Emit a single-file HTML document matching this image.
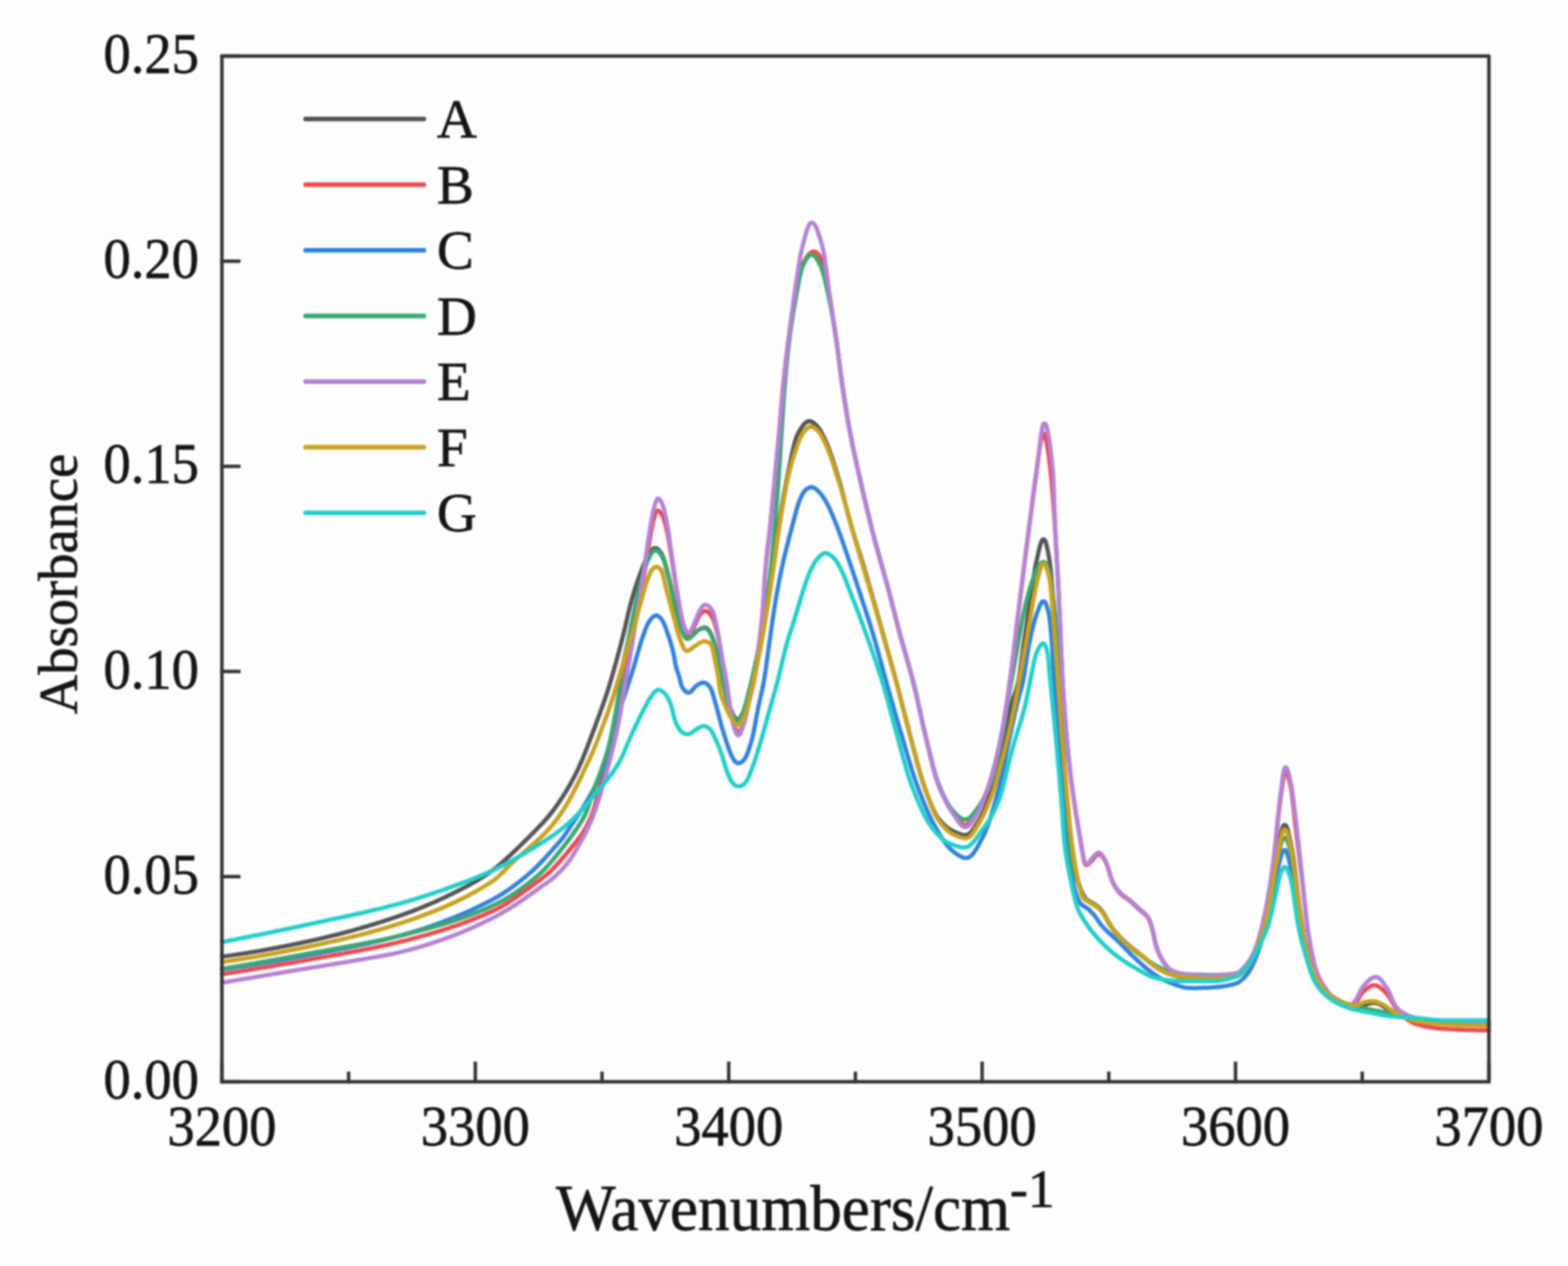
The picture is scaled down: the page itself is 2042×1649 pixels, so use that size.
<!DOCTYPE html>
<html><head><meta charset="utf-8"><title>Absorbance spectra</title>
<style>html,body{margin:0;padding:0;background:#fdfdfd;}svg{display:block;filter:blur(0.9px);}</style></head>
<body>
<svg width="2042" height="1649" viewBox="0 0 2042 1649" font-family="'Liberation Serif','Times New Roman',serif" fill="#151515" stroke="#151515" stroke-width="0.8">
<rect x="0" y="0" width="2042" height="1649" fill="#fdfdfd" stroke="none"/>

<g fill="none" stroke-width="5.5" stroke-linejoin="round" stroke-linecap="round">
<path stroke="#555555" d="M289.0 1245.9L291.3 1245.7 293.0 1245.5 295.0 1245.2 296.9 1245.0 298.9 1244.7 300.9 1244.4 302.9 1244.1 304.9 1243.9 306.8 1243.6 308.8 1243.3 310.8 1243.0 312.8 1242.7 314.7 1242.4 316.7 1242.1 318.7 1241.8 320.7 1241.5 322.7 1241.2 324.6 1240.8 326.6 1240.5 328.6 1240.2 330.5 1239.9 332.5 1239.5 334.5 1239.2 336.5 1238.9 338.4 1238.5 340.4 1238.2 342.4 1237.8 344.3 1237.5 346.3 1237.1 348.3 1236.8 350.2 1236.4 352.2 1236.0 354.2 1235.7 356.1 1235.3 358.1 1234.9 360.1 1234.6 362.0 1234.2 364.0 1233.8 366.0 1233.4 367.9 1233.0 369.9 1232.7 371.9 1232.3 373.8 1231.9 375.8 1231.5 377.7 1231.1 379.7 1230.7 381.7 1230.3 383.6 1229.9 385.6 1229.5 387.5 1229.1 389.5 1228.7 391.4 1228.3 393.4 1227.8 395.4 1227.4 397.3 1227.0 399.3 1226.6 401.2 1226.2 403.2 1225.7 405.1 1225.3 407.1 1224.9 409.0 1224.4 411.0 1224.0 412.9 1223.6 414.9 1223.1 416.8 1222.7 418.8 1222.2 420.7 1221.8 422.7 1221.3 424.6 1220.8 426.6 1220.4 428.5 1219.9 430.5 1219.4 432.4 1218.9 434.3 1218.4 436.3 1218.0 438.2 1217.5 440.2 1217.0 442.1 1216.5 444.0 1216.0 446.0 1215.5 447.9 1215.0 449.8 1214.4 451.8 1213.9 453.7 1213.4 455.6 1212.9 457.5 1212.3 459.5 1211.8 461.4 1211.3 463.3 1210.7 465.3 1210.2 467.2 1209.6 469.1 1209.1 471.0 1208.5 472.9 1208.0 474.9 1207.4 476.8 1206.8 478.7 1206.3 480.6 1205.7 482.5 1205.1 484.4 1204.5 486.3 1204.0 488.3 1203.4 490.2 1202.8 492.1 1202.2 494.0 1201.6 495.9 1201.0 497.8 1200.4 499.7 1199.8 501.6 1199.1 503.5 1198.5 505.4 1197.9 507.3 1197.3 509.2 1196.7 511.1 1196.0 513.0 1195.4 514.9 1194.7 516.8 1194.1 518.7 1193.4 520.6 1192.8 522.5 1192.1 524.3 1191.5 526.2 1190.8 528.1 1190.1 530.0 1189.4 531.9 1188.7 533.7 1188.0 535.6 1187.3 537.5 1186.6 539.3 1185.9 541.2 1185.2 543.1 1184.4 544.9 1183.7 546.8 1183.0 548.6 1182.2 550.5 1181.5 552.3 1180.7 554.2 1179.9 556.0 1179.1 557.9 1178.4 559.7 1177.6 561.5 1176.8 563.4 1176.0 565.2 1175.2 567.0 1174.4 568.9 1173.5 570.7 1172.7 572.5 1171.9 574.3 1171.1 576.1 1170.2 577.9 1169.4 579.8 1168.5 581.6 1167.7 583.4 1166.8 585.2 1165.9 587.0 1165.1 588.8 1164.2 590.6 1163.3 592.4 1162.4 594.1 1161.5 595.9 1160.6 597.7 1159.7 599.5 1158.8 601.3 1157.9 603.1 1157.0 604.8 1156.1 606.6 1155.1 608.4 1154.2 610.1 1153.3 611.9 1152.3 613.6 1151.3 615.4 1150.4 617.1 1149.4 618.8 1148.4 620.6 1147.3 622.3 1146.3 624.0 1145.3 625.7 1144.2 627.4 1143.2 629.1 1142.1 630.8 1141.0 632.4 1139.9 634.1 1138.8 635.7 1137.7 637.4 1136.5 639.0 1135.4 640.7 1134.2 642.3 1133.0 643.9 1131.8 645.4 1130.6 647.0 1129.3 648.5 1128.1 650.1 1126.8 651.6 1125.5 653.1 1124.2 654.6 1122.8 656.1 1121.5 657.6 1120.2 659.1 1118.8 660.5 1117.5 662.0 1116.2 663.5 1114.8 665.0 1113.5 666.4 1112.1 667.9 1110.7 669.3 1109.3 670.8 1108.0 672.2 1106.6 673.7 1105.2 675.1 1103.8 676.6 1102.4 678.0 1101.0 679.4 1099.6 680.8 1098.2 682.3 1096.8 683.7 1095.4 685.1 1094.0 686.5 1092.6 688.0 1091.2 689.4 1089.8 690.8 1088.3 692.2 1086.9 693.6 1085.5 695.0 1084.1 696.4 1082.6 697.8 1081.2 699.2 1079.8 700.5 1078.3 701.9 1076.9 703.3 1075.4 704.7 1074.0 706.1 1072.6 707.5 1071.1 708.8 1069.6 710.1 1068.1 711.5 1066.6 712.8 1065.1 714.1 1063.6 715.4 1062.1 716.6 1060.5 717.8 1058.9 719.1 1057.4 720.3 1055.8 721.5 1054.2 722.7 1052.5 723.8 1050.9 725.0 1049.3 726.1 1047.7 727.3 1046.0 728.4 1044.4 729.5 1042.7 730.6 1041.0 731.7 1039.4 732.8 1037.7 733.9 1036.0 734.9 1034.3 736.0 1032.6 737.0 1030.9 738.1 1029.2 739.1 1027.4 740.1 1025.7 741.1 1024.0 742.1 1022.3 743.1 1020.5 744.0 1018.8 745.0 1017.0 745.9 1015.3 746.9 1013.5 747.8 1011.7 748.7 1009.9 749.6 1008.2 750.5 1006.4 751.4 1004.6 752.3 1002.8 753.2 1001.0 754.0 999.2 754.8 997.3 755.6 995.5 756.5 993.7 757.2 991.8 758.0 990.0 758.8 988.2 759.5 986.3 760.3 984.4 761.0 982.6 761.7 980.7 762.5 978.9 763.2 977.0 763.9 975.1 764.7 973.3 765.4 971.4 766.1 969.6 766.8 967.7 767.6 965.8 768.3 963.9 769.0 962.1 769.7 960.2 770.4 958.3 771.1 956.5 771.8 954.6 772.5 952.7 773.2 950.8 773.9 949.0 774.6 947.1 775.3 945.2 776.0 943.3 776.6 941.5 777.3 939.6 778.0 937.7 778.7 935.8 779.4 933.9 780.1 932.1 780.8 930.2 781.4 928.3 782.1 926.4 782.8 924.5 783.5 922.7 784.1 920.8 784.8 918.9 785.5 917.0 786.2 915.1 786.8 913.2 787.5 911.4 788.2 909.5 788.8 907.6 789.4 905.7 790.1 903.8 790.7 901.9 791.3 900.0 791.9 898.1 792.5 896.2 793.1 894.3 793.7 892.3 794.3 890.4 794.8 888.5 795.4 886.6 796.0 884.7 796.5 882.8 797.1 880.8 797.6 878.9 798.2 877.0 798.7 875.1 799.3 873.1 799.8 871.2 800.3 869.3 800.9 867.4 801.4 865.4 802.0 863.5 802.5 861.6 803.0 859.6 803.6 857.7 804.1 855.8 804.6 853.9 805.1 851.9 805.7 850.0 806.2 848.1 806.7 846.1 807.2 844.2 807.7 842.3 808.2 840.3 808.7 838.4 809.2 836.5 809.7 834.5 810.2 832.6 810.7 830.7 811.2 828.7 811.7 826.8 812.2 824.8 812.7 822.9 813.2 821.0 813.6 819.0 814.1 817.1 814.5 815.1 815.0 813.2 815.4 811.2 815.9 809.3 816.3 807.3 816.8 805.4 817.2 803.4 817.6 801.5 818.1 799.5 818.5 797.6 819.0 795.6 819.5 793.7 819.9 791.7 820.4 789.8 820.9 787.9 821.4 785.9 822.0 784.0 822.5 782.1 823.0 780.1 823.6 778.2 824.1 776.3 824.7 774.4 825.3 772.5 825.8 770.5 826.4 768.6 827.0 766.7 827.6 764.8 828.2 762.9 828.9 761.0 829.5 759.1 830.1 757.2 830.8 755.3 831.5 753.4 832.2 751.6 832.9 749.7 833.6 747.8 834.3 745.9 835.0 744.1 835.7 742.2 836.4 740.3 837.1 738.5 837.9 736.6 838.6 734.8 839.4 732.9 840.2 731.1 841.0 729.3 841.9 727.5 842.8 725.7 843.8 724.0 844.9 722.3 845.9 720.6 847.0 718.9 848.2 717.3 849.5 715.8 850.9 714.5 852.5 713.9 854.2 713.9 855.8 714.6 857.3 715.8 858.6 717.3 859.8 718.9 861.0 720.5 862.0 722.2 862.9 724.0 863.7 725.8 864.4 727.7 865.0 729.6 865.6 731.5 866.2 733.4 866.7 735.4 867.2 737.3 867.7 739.2 868.2 741.2 868.7 743.1 869.2 745.0 869.7 747.0 870.2 748.9 870.7 750.8 871.2 752.8 871.7 754.7 872.1 756.7 872.6 758.6 873.0 760.6 873.4 762.5 873.9 764.5 874.3 766.4 874.7 768.4 875.2 770.4 875.6 772.3 876.0 774.3 876.4 776.2 876.9 778.2 877.3 780.1 877.8 782.1 878.2 784.0 878.7 786.0 879.1 787.9 879.6 789.9 880.0 791.8 880.5 793.8 880.9 795.7 881.3 797.7 881.8 799.6 882.2 801.6 882.7 803.5 883.2 805.4 883.7 807.4 884.2 809.3 884.8 811.2 885.4 813.1 886.0 815.0 886.7 816.9 887.4 818.8 888.2 820.6 888.9 822.5 889.6 824.3 890.5 826.2 891.4 827.9 892.5 829.5 893.8 830.7 895.4 831.2 897.0 830.8 898.7 829.9 900.2 828.7 901.6 827.3 903.0 825.9 904.5 824.5 906.0 823.2 907.6 822.0 909.2 820.8 910.9 819.8 912.6 818.9 914.5 818.1 916.4 817.6 918.2 817.5 920.0 818.0 921.5 819.0 922.8 820.5 923.8 822.1 924.8 823.8 925.8 825.6 926.6 827.4 927.5 829.2 928.2 831.1 928.9 832.9 929.5 834.8 930.1 836.8 930.7 838.7 931.2 840.6 931.7 842.5 932.2 844.5 932.7 846.4 933.1 848.4 933.6 850.3 934.1 852.3 934.6 854.2 935.0 856.1 935.5 858.1 935.9 860.0 936.3 862.0 936.7 864.0 937.1 865.9 937.5 867.9 937.9 869.8 938.3 871.8 938.7 873.8 939.1 875.7 939.4 877.7 939.8 879.7 940.2 881.6 940.6 883.6 941.0 885.5 941.4 887.5 941.9 889.4 942.3 891.4 942.8 893.3 943.2 895.3 943.7 897.2 944.1 899.2 944.6 901.1 945.1 903.1 945.5 905.0 946.0 907.0 946.5 908.9 947.0 910.8 947.6 912.7 948.2 914.7 948.8 916.6 949.4 918.4 950.2 920.3 950.9 922.2 951.7 924.0 952.5 925.9 953.3 927.7 954.1 929.5 955.0 931.3 955.9 933.0 957.0 934.7 958.3 936.1 959.8 936.9 961.3 936.9 962.7 936.1 964.0 934.7 965.0 933.0 965.9 931.3 966.8 929.5 967.7 927.7 968.5 925.8 969.2 924.0 969.9 922.1 970.5 920.2 971.1 918.3 971.7 916.4 972.2 914.4 972.7 912.5 973.2 910.6 973.8 908.6 974.3 906.7 974.8 904.8 975.3 902.8 975.8 900.9 976.3 899.0 976.8 897.0 977.3 895.1 977.7 893.1 978.2 891.2 978.7 889.3 979.1 887.3 979.6 885.4 980.0 883.4 980.5 881.5 980.9 879.5 981.3 877.6 981.8 875.6 982.2 873.6 982.6 871.7 983.1 869.7 983.5 867.8 983.9 865.8 984.3 863.9 984.7 861.9 985.1 860.0 985.5 858.0 985.9 856.0 986.3 854.1 986.7 852.1 987.1 850.2 987.5 848.2 987.9 846.2 988.2 844.3 988.6 842.3 989.0 840.3 989.4 838.4 989.7 836.4 990.1 834.4 990.5 832.5 990.8 830.5 991.2 828.5 991.5 826.6 991.8 824.6 992.2 822.6 992.5 820.6 992.8 818.7 993.2 816.7 993.5 814.7 993.8 812.8 994.2 810.8 994.5 808.8 994.8 806.8 995.2 804.9 995.5 802.9 995.8 800.9 996.2 799.0 996.5 797.0 996.9 795.0 997.2 793.0 997.6 791.1 997.9 789.1 998.3 787.1 998.7 785.2 999.0 783.2 999.4 781.2 999.7 779.3 1000.1 777.3 1000.5 775.3 1000.8 773.4 1001.2 771.4 1001.5 769.4 1001.9 767.5 1002.2 765.5 1002.6 763.5 1002.9 761.6 1003.2 759.6 1003.6 757.6 1003.9 755.6 1004.2 753.7 1004.6 751.7 1004.9 749.7 1005.2 747.7 1005.5 745.8 1005.8 743.8 1006.1 741.8 1006.4 739.8 1006.7 737.9 1007.0 735.9 1007.2 733.9 1007.5 731.9 1007.8 729.9 1008.1 728.0 1008.4 726.0 1008.6 724.0 1008.9 722.0 1009.2 720.0 1009.4 718.0 1009.7 716.1 1010.0 714.1 1010.2 712.1 1010.5 710.1 1010.8 708.1 1011.1 706.2 1011.3 704.2 1011.6 702.2 1011.9 700.2 1012.2 698.2 1012.5 696.3 1012.7 694.3 1013.0 692.3 1013.3 690.3 1013.6 688.3 1013.9 686.4 1014.3 684.4 1014.6 682.4 1014.9 680.4 1015.2 678.5 1015.5 676.5 1015.8 674.5 1016.2 672.5 1016.5 670.6 1016.8 668.6 1017.1 666.6 1017.4 664.6 1017.8 662.7 1018.1 660.7 1018.4 658.7 1018.8 656.8 1019.1 654.8 1019.4 652.8 1019.8 650.8 1020.1 648.9 1020.5 646.9 1020.8 644.9 1021.2 643.0 1021.5 641.0 1021.9 639.0 1022.3 637.1 1022.6 635.1 1023.0 633.1 1023.4 631.2 1023.8 629.2 1024.1 627.2 1024.5 625.3 1024.9 623.3 1025.3 621.4 1025.7 619.4 1026.1 617.4 1026.5 615.5 1026.9 613.5 1027.3 611.6 1027.7 609.6 1028.1 607.6 1028.5 605.7 1028.9 603.7 1029.3 601.8 1029.7 599.8 1030.1 597.8 1030.5 595.9 1030.9 593.9 1031.3 592.0 1031.7 590.0 1032.1 588.0 1032.6 586.1 1033.0 584.1 1033.5 582.2 1034.0 580.3 1034.5 578.3 1035.0 576.4 1035.5 574.5 1036.1 572.6 1036.7 570.7 1037.4 568.8 1038.2 566.9 1039.0 565.1 1040.0 563.4 1040.9 561.6 1042.0 559.9 1043.0 558.2 1044.1 556.5 1045.3 554.9 1046.5 553.3 1047.8 551.8 1049.2 550.5 1050.8 549.4 1052.6 548.7 1054.4 548.5 1056.3 548.9 1058.0 549.7 1059.6 550.9 1061.1 552.1 1062.6 553.5 1064.0 555.0 1065.3 556.5 1066.5 558.0 1067.7 559.7 1068.7 561.4 1069.7 563.1 1070.6 564.9 1071.5 566.7 1072.4 568.5 1073.3 570.3 1074.1 572.1 1074.9 573.9 1075.8 575.7 1076.5 577.6 1077.3 579.4 1078.1 581.2 1078.8 583.1 1079.5 585.0 1080.2 586.9 1080.9 588.7 1081.6 590.6 1082.2 592.5 1082.9 594.4 1083.5 596.3 1084.2 598.2 1084.8 600.1 1085.4 602.0 1086.0 603.9 1086.6 605.8 1087.2 607.7 1087.9 609.6 1088.4 611.5 1089.0 613.4 1089.6 615.3 1090.2 617.2 1090.8 619.2 1091.4 621.1 1092.0 623.0 1092.6 624.9 1093.1 626.8 1093.7 628.7 1094.2 630.7 1094.8 632.6 1095.3 634.5 1095.8 636.4 1096.3 638.4 1096.8 640.3 1097.4 642.2 1097.9 644.2 1098.4 646.1 1098.9 648.1 1099.3 650.0 1099.8 651.9 1100.3 653.9 1100.8 655.8 1101.3 657.7 1101.8 659.7 1102.3 661.6 1102.8 663.6 1103.3 665.5 1103.8 667.4 1104.3 669.4 1104.8 671.3 1105.3 673.2 1105.8 675.2 1106.4 677.1 1106.9 679.0 1107.4 681.0 1108.0 682.9 1108.5 684.8 1109.1 686.7 1109.6 688.6 1110.2 690.6 1110.8 692.5 1111.4 694.4 1111.9 696.3 1112.5 698.2 1113.1 700.1 1113.7 702.0 1114.3 703.9 1114.9 705.9 1115.5 707.8 1116.1 709.7 1116.7 711.6 1117.3 713.5 1117.9 715.4 1118.5 717.3 1119.1 719.2 1119.7 721.1 1120.3 723.0 1120.9 724.9 1121.4 726.9 1122.0 728.8 1122.6 730.7 1123.2 732.6 1123.8 734.5 1124.3 736.4 1124.9 738.4 1125.5 740.3 1126.0 742.2 1126.6 744.1 1127.2 746.0 1127.7 747.9 1128.3 749.9 1128.8 751.8 1129.4 753.7 1130.0 755.6 1130.5 757.5 1131.1 759.5 1131.6 761.4 1132.2 763.3 1132.8 765.2 1133.3 767.1 1133.9 769.1 1134.4 771.0 1135.0 772.9 1135.5 774.8 1136.1 776.8 1136.6 778.7 1137.2 780.6 1137.7 782.5 1138.3 784.4 1138.8 786.4 1139.4 788.3 1139.9 790.2 1140.5 792.1 1141.0 794.1 1141.6 796.0 1142.1 797.9 1142.6 799.8 1143.2 801.8 1143.7 803.7 1144.3 805.6 1144.8 807.5 1145.4 809.5 1145.9 811.4 1146.4 813.3 1147.0 815.2 1147.5 817.2 1148.1 819.1 1148.6 821.0 1149.1 822.9 1149.7 824.9 1150.2 826.8 1150.8 828.7 1151.3 830.6 1151.8 832.6 1152.4 834.5 1152.9 836.4 1153.5 838.3 1154.0 840.3 1154.5 842.2 1155.1 844.1 1155.6 846.0 1156.2 848.0 1156.7 849.9 1157.2 851.8 1157.8 853.8 1158.3 855.7 1158.9 857.6 1159.4 859.5 1159.9 861.5 1160.5 863.4 1161.0 865.3 1161.5 867.2 1162.1 869.2 1162.6 871.1 1163.1 873.0 1163.7 875.0 1164.2 876.9 1164.7 878.8 1165.2 880.7 1165.8 882.7 1166.3 884.6 1166.8 886.5 1167.3 888.5 1167.8 890.4 1168.4 892.3 1168.9 894.3 1169.4 896.2 1169.9 898.1 1170.4 900.1 1170.9 902.0 1171.4 903.9 1171.9 905.9 1172.4 907.8 1172.9 909.8 1173.4 911.7 1173.9 913.6 1174.4 915.6 1174.9 917.5 1175.3 919.4 1175.8 921.4 1176.3 923.3 1176.8 925.3 1177.3 927.2 1177.8 929.1 1178.3 931.1 1178.8 933.0 1179.3 935.0 1179.8 936.9 1180.3 938.8 1180.8 940.8 1181.3 942.7 1181.8 944.6 1182.3 946.6 1182.8 948.5 1183.3 950.4 1183.8 952.4 1184.3 954.3 1184.8 956.2 1185.3 958.2 1185.8 960.1 1186.3 962.0 1186.8 964.0 1187.3 965.9 1187.8 967.9 1188.3 969.8 1188.9 971.7 1189.3 973.7 1189.8 975.6 1190.3 977.5 1190.8 979.5 1191.3 981.4 1191.9 983.3 1192.4 985.3 1192.9 987.2 1193.4 989.2 1193.9 991.1 1194.4 993.0 1194.9 995.0 1195.4 996.9 1196.0 998.8 1196.5 1000.7 1197.0 1002.7 1197.6 1004.6 1198.1 1006.5 1198.7 1008.4 1199.2 1010.3 1199.8 1012.3 1200.4 1014.2 1201.0 1016.1 1201.6 1018.0 1202.3 1019.9 1202.9 1021.8 1203.6 1023.7 1204.3 1025.5 1204.9 1027.4 1205.6 1029.3 1206.3 1031.2 1206.9 1033.1 1207.6 1035.0 1208.3 1036.8 1209.0 1038.7 1209.7 1040.6 1210.4 1042.4 1211.2 1044.3 1211.9 1046.2 1212.7 1048.0 1213.4 1049.9 1214.2 1051.7 1215.0 1053.5 1215.9 1055.3 1216.7 1057.1 1217.7 1058.9 1218.6 1060.7 1219.6 1062.4 1220.7 1064.1 1221.9 1065.7 1223.1 1067.3 1224.4 1068.8 1225.7 1070.3 1227.0 1071.8 1228.4 1073.3 1229.8 1074.6 1231.3 1076.0 1232.8 1077.3 1234.4 1078.5 1236.1 1079.6 1237.8 1080.7 1239.5 1081.7 1241.3 1082.6 1243.1 1083.5 1244.9 1084.3 1246.7 1085.1 1248.6 1085.9 1250.4 1086.5 1252.4 1087.1 1254.3 1087.5 1256.3 1087.7 1258.2 1087.6 1260.0 1087.1 1261.7 1086.2 1263.3 1085.0 1264.6 1083.6 1265.9 1082.0 1267.1 1080.4 1268.2 1078.8 1269.3 1077.1 1270.4 1075.4 1271.5 1073.7 1272.5 1072.0 1273.6 1070.3 1274.6 1068.6 1275.6 1066.9 1276.6 1065.2 1277.6 1063.4 1278.5 1061.6 1279.4 1059.8 1280.2 1058.0 1281.0 1056.2 1281.8 1054.3 1282.6 1052.5 1283.3 1050.6 1284.1 1048.8 1284.8 1046.9 1285.5 1045.1 1286.2 1043.2 1286.9 1041.3 1287.6 1039.4 1288.3 1037.6 1289.0 1035.7 1289.7 1033.8 1290.4 1031.9 1291.0 1030.0 1291.7 1028.1 1292.3 1026.3 1292.9 1024.4 1293.6 1022.4 1294.2 1020.5 1294.7 1018.6 1295.3 1016.7 1295.9 1014.8 1296.4 1012.9 1297.0 1011.0 1297.5 1009.0 1298.1 1007.1 1298.6 1005.2 1299.1 1003.2 1299.6 1001.3 1300.2 999.4 1300.7 997.4 1301.1 995.5 1301.6 993.6 1302.1 991.6 1302.5 989.7 1303.0 987.7 1303.4 985.8 1303.9 983.8 1304.3 981.9 1304.7 979.9 1305.2 978.0 1305.6 976.0 1306.0 974.0 1306.4 972.1 1306.8 970.1 1307.2 968.2 1307.6 966.2 1308.1 964.3 1308.5 962.3 1308.9 960.3 1309.3 958.4 1309.7 956.4 1310.1 954.5 1310.5 952.5 1310.9 950.5 1311.3 948.6 1311.7 946.6 1312.0 944.7 1312.4 942.7 1312.8 940.7 1313.1 938.8 1313.5 936.8 1313.9 934.8 1314.3 932.9 1314.6 930.9 1315.0 928.9 1315.4 927.0 1315.8 925.0 1316.2 923.1 1316.6 921.1 1317.0 919.1 1317.5 917.2 1318.0 915.3 1318.5 913.3 1319.0 911.4 1319.6 909.5 1320.2 907.6 1320.9 905.7 1321.5 903.8 1322.2 901.9 1322.9 900.0 1323.5 898.1 1324.1 896.2 1324.6 894.3 1325.2 892.4 1325.6 890.4 1326.1 888.5 1326.5 886.5 1326.9 884.6 1327.2 882.6 1327.5 880.6 1327.8 878.6 1328.1 876.7 1328.4 874.7 1328.7 872.7 1328.9 870.7 1329.2 868.7 1329.5 866.8 1329.7 864.8 1330.0 862.8 1330.2 860.8 1330.5 858.8 1330.7 856.8 1331.0 854.9 1331.3 852.9 1331.5 850.9 1331.8 848.9 1332.0 846.9 1332.3 844.9 1332.6 843.0 1332.9 841.0 1333.1 839.0 1333.4 837.0 1333.7 835.0 1334.0 833.1 1334.3 831.1 1334.6 829.1 1334.9 827.1 1335.2 825.1 1335.5 823.2 1335.8 821.2 1336.1 819.2 1336.4 817.2 1336.7 815.3 1336.9 813.3 1337.2 811.3 1337.5 809.3 1337.8 807.3 1338.1 805.4 1338.4 803.4 1338.7 801.4 1339.0 799.4 1339.3 797.5 1339.6 795.5 1339.9 793.5 1340.2 791.5 1340.5 789.5 1340.8 787.6 1341.1 785.6 1341.4 783.6 1341.7 781.6 1342.1 779.7 1342.4 777.7 1342.7 775.7 1342.9 773.7 1343.2 771.7 1343.5 769.8 1343.8 767.8 1344.1 765.8 1344.4 763.8 1344.7 761.9 1345.0 759.9 1345.3 757.9 1345.5 755.9 1345.8 753.9 1346.1 752.0 1346.4 750.0 1346.7 748.0 1347.0 746.0 1347.4 744.1 1347.7 742.1 1348.0 740.1 1348.4 738.1 1348.7 736.2 1349.1 734.2 1349.5 732.3 1349.9 730.3 1350.4 728.3 1350.8 726.4 1351.3 724.4 1351.7 722.5 1352.1 720.5 1352.6 718.6 1353.0 716.6 1353.5 714.7 1354.0 712.8 1354.5 710.8 1355.0 708.9 1355.6 707.0 1356.3 705.2 1357.2 703.5 1358.3 702.5 1359.5 702.5 1360.5 703.4 1361.4 705.0 1362.0 706.9 1362.6 708.8 1363.1 710.7 1363.5 712.7 1363.9 714.6 1364.4 716.6 1364.7 718.6 1365.1 720.5 1365.5 722.5 1365.9 724.5 1366.2 726.4 1366.5 728.4 1366.8 730.4 1367.1 732.4 1367.3 734.3 1367.6 736.3 1367.8 738.3 1368.0 740.3 1368.2 742.3 1368.4 744.3 1368.6 746.3 1368.8 748.3 1368.9 750.3 1369.1 752.3 1369.3 754.2 1369.5 756.2 1369.6 758.2 1369.8 760.2 1369.9 762.2 1370.1 764.2 1370.3 766.2 1370.4 768.2 1370.6 770.2 1370.7 772.2 1370.9 774.2 1371.0 776.2 1371.2 778.2 1371.3 780.2 1371.4 782.2 1371.6 784.2 1371.7 786.2 1371.9 788.1 1372.0 790.1 1372.1 792.1 1372.3 794.1 1372.4 796.1 1372.5 798.1 1372.6 800.1 1372.7 802.1 1372.9 804.1 1373.0 806.1 1373.1 808.1 1373.2 810.1 1373.3 812.1 1373.4 814.1 1373.5 816.1 1373.6 818.1 1373.7 820.1 1373.8 822.1 1373.9 824.1 1374.0 826.1 1374.0 828.1 1374.1 830.1 1374.2 832.1 1374.3 834.1 1374.4 836.1 1374.5 838.1 1374.6 840.1 1374.7 842.1 1374.8 844.1 1374.9 846.1 1375.0 848.1 1375.0 850.1 1375.1 852.1 1375.2 854.1 1375.3 856.1 1375.4 858.1 1375.5 860.1 1375.6 862.1 1375.7 864.1 1375.8 866.0 1375.9 868.0 1376.0 870.0 1376.1 872.0 1376.2 874.0 1376.3 876.0 1376.4 878.0 1376.5 880.0 1376.6 882.0 1376.7 884.0 1376.8 886.0 1376.9 888.0 1377.1 890.0 1377.2 892.0 1377.3 894.0 1377.4 896.0 1377.6 898.0 1377.7 900.0 1377.8 902.0 1377.9 904.0 1378.1 906.0 1378.2 908.0 1378.3 910.0 1378.5 912.0 1378.6 914.0 1378.7 916.0 1378.9 918.0 1379.0 920.0 1379.2 921.9 1379.3 923.9 1379.4 925.9 1379.6 927.9 1379.7 929.9 1379.9 931.9 1380.0 933.9 1380.2 935.9 1380.3 937.9 1380.5 939.9 1380.6 941.9 1380.8 943.9 1380.9 945.9 1381.1 947.9 1381.2 949.9 1381.4 951.9 1381.5 953.9 1381.7 955.9 1381.8 957.8 1382.0 959.8 1382.1 961.8 1382.3 963.8 1382.5 965.8 1382.6 967.8 1382.8 969.8 1382.9 971.8 1383.1 973.8 1383.2 975.8 1383.4 977.8 1383.6 979.8 1383.7 981.8 1383.9 983.8 1384.0 985.8 1384.2 987.8 1384.4 989.7 1384.5 991.7 1384.7 993.7 1384.9 995.7 1385.0 997.7 1385.2 999.7 1385.4 1001.7 1385.6 1003.7 1385.7 1005.7 1385.9 1007.7 1386.1 1009.7 1386.2 1011.7 1386.4 1013.7 1386.6 1015.6 1386.8 1017.6 1387.0 1019.6 1387.2 1021.6 1387.3 1023.6 1387.5 1025.6 1387.7 1027.6 1387.9 1029.6 1388.1 1031.6 1388.3 1033.6 1388.5 1035.6 1388.6 1037.6 1388.8 1039.5 1389.0 1041.5 1389.2 1043.5 1389.4 1045.5 1389.6 1047.5 1389.8 1049.5 1390.0 1051.5 1390.2 1053.5 1390.4 1055.5 1390.6 1057.5 1390.9 1059.4 1391.1 1061.4 1391.3 1063.4 1391.5 1065.4 1391.7 1067.4 1391.9 1069.4 1392.2 1071.4 1392.4 1073.4 1392.6 1075.3 1392.8 1077.3 1393.1 1079.3 1393.3 1081.3 1393.5 1083.3 1393.8 1085.3 1394.0 1087.3 1394.3 1089.2 1394.5 1091.2 1394.7 1093.2 1395.0 1095.2 1395.3 1097.2 1395.5 1099.2 1395.8 1101.2 1396.0 1103.1 1396.3 1105.1 1396.6 1107.1 1396.9 1109.1 1397.2 1111.1 1397.4 1113.0 1397.7 1115.0 1398.0 1117.0 1398.3 1119.0 1398.6 1120.9 1398.9 1122.9 1399.2 1124.9 1399.6 1126.9 1399.9 1128.8 1400.2 1130.8 1400.6 1132.8 1400.9 1134.8 1401.3 1136.7 1401.7 1138.7 1402.2 1140.6 1402.6 1142.6 1403.1 1144.5 1403.6 1146.5 1404.1 1148.4 1404.7 1150.3 1405.2 1152.2 1405.8 1154.1 1406.5 1156.0 1407.2 1157.9 1407.9 1159.7 1408.7 1161.6 1409.6 1163.4 1410.4 1165.2 1411.4 1166.9 1412.4 1168.6 1413.6 1170.2 1415.0 1171.6 1416.6 1172.8 1418.3 1173.8 1420.1 1174.6 1421.9 1175.5 1423.6 1176.5 1425.3 1177.6 1426.9 1178.7 1428.5 1179.9 1430.0 1181.2 1431.5 1182.6 1432.9 1184.0 1434.3 1185.5 1435.5 1187.0 1436.7 1188.6 1437.7 1190.3 1438.8 1192.0 1439.8 1193.8 1440.7 1195.5 1441.7 1197.3 1442.6 1199.0 1443.6 1200.8 1444.6 1202.5 1445.6 1204.3 1446.7 1205.9 1447.8 1207.6 1449.0 1209.2 1450.2 1210.8 1451.4 1212.4 1452.7 1213.9 1454.0 1215.4 1455.3 1216.9 1456.6 1218.4 1458.0 1219.9 1459.4 1221.3 1460.8 1222.8 1462.2 1224.2 1463.6 1225.6 1465.1 1226.9 1466.6 1228.3 1468.1 1229.6 1469.6 1230.9 1471.2 1232.1 1472.7 1233.4 1474.3 1234.6 1475.9 1235.9 1477.5 1237.1 1479.0 1238.3 1480.6 1239.5 1482.2 1240.8 1483.8 1242.0 1485.3 1243.3 1486.8 1244.5 1488.4 1245.8 1489.9 1247.1 1491.4 1248.4 1492.9 1249.7 1494.4 1251.0 1496.0 1252.3 1497.5 1253.6 1499.0 1254.9 1500.6 1256.1 1502.2 1257.3 1503.8 1258.5 1505.5 1259.6 1507.2 1260.7 1508.9 1261.8 1510.6 1262.8 1512.3 1263.8 1514.0 1264.8 1515.8 1265.7 1517.6 1266.6 1519.5 1267.3 1521.3 1268.1 1523.2 1268.7 1525.1 1269.4 1527.0 1270.0 1528.9 1270.6 1530.8 1271.1 1532.8 1271.7 1534.7 1272.2 1536.7 1272.6 1538.6 1273.0 1540.6 1273.4 1542.6 1273.7 1544.5 1273.9 1546.5 1274.1 1548.5 1274.3 1550.5 1274.5 1552.5 1274.7 1554.5 1274.8 1556.5 1275.0 1558.5 1275.1 1560.5 1275.3 1562.5 1275.4 1564.5 1275.5 1566.5 1275.6 1568.5 1275.7 1570.5 1275.8 1572.5 1275.9 1574.5 1275.9 1576.5 1276.0 1578.5 1276.0 1580.5 1276.0 1582.5 1275.9 1584.5 1275.9 1586.5 1275.8 1588.4 1275.6 1590.4 1275.5 1592.4 1275.3 1594.4 1275.0 1596.4 1274.7 1598.4 1274.4 1600.3 1274.1 1602.3 1273.7 1604.3 1273.3 1606.2 1272.9 1608.2 1272.4 1610.1 1271.8 1611.9 1271.1 1613.6 1270.1 1615.2 1268.9 1616.7 1267.6 1618.1 1266.2 1619.5 1264.8 1620.8 1263.3 1622.1 1261.7 1623.3 1260.1 1624.5 1258.6 1625.7 1256.9 1626.8 1255.3 1627.8 1253.6 1628.8 1251.8 1629.8 1250.1 1630.6 1248.3 1631.5 1246.5 1632.3 1244.6 1633.1 1242.8 1633.9 1241.0 1634.7 1239.1 1635.4 1237.3 1636.1 1235.4 1636.9 1233.5 1637.6 1231.7 1638.3 1229.8 1638.9 1227.9 1639.6 1226.0 1640.3 1224.1 1640.9 1222.2 1641.6 1220.3 1642.2 1218.4 1642.8 1216.5 1643.4 1214.6 1643.9 1212.7 1644.5 1210.8 1645.0 1208.9 1645.5 1206.9 1646.1 1205.0 1646.6 1203.1 1647.1 1201.1 1647.6 1199.2 1648.0 1197.2 1648.5 1195.3 1649.0 1193.4 1649.4 1191.4 1649.9 1189.5 1650.3 1187.5 1650.8 1185.6 1651.2 1183.6 1651.6 1181.6 1652.1 1179.7 1652.5 1177.7 1652.8 1175.8 1653.2 1173.8 1653.6 1171.8 1653.9 1169.9 1654.3 1167.9 1654.6 1165.9 1654.9 1163.9 1655.2 1162.0 1655.5 1160.0 1655.8 1158.0 1656.1 1156.0 1656.4 1154.1 1656.7 1152.1 1657.0 1150.1 1657.4 1148.1 1657.7 1146.2 1658.0 1144.2 1658.3 1142.2 1658.6 1140.2 1658.9 1138.3 1659.2 1136.3 1659.5 1134.3 1659.8 1132.3 1660.1 1130.4 1660.5 1128.4 1660.8 1126.4 1661.2 1124.4 1661.5 1122.5 1661.9 1120.5 1662.3 1118.5 1662.7 1116.6 1663.0 1114.6 1663.4 1112.7 1663.7 1110.7 1664.1 1108.7 1664.4 1106.7 1664.8 1104.8 1665.1 1102.8 1665.5 1100.8 1665.8 1098.9 1666.2 1096.9 1666.5 1094.9 1666.9 1093.0 1667.2 1091.0 1667.6 1089.0 1668.0 1087.1 1668.4 1085.1 1668.9 1083.2 1669.3 1081.2 1669.9 1079.3 1670.5 1077.4 1671.3 1075.7 1672.3 1074.6 1673.5 1074.4 1674.6 1075.3 1675.5 1076.8 1676.2 1078.6 1676.8 1080.5 1677.3 1082.5 1677.8 1084.4 1678.2 1086.3 1678.7 1088.3 1679.1 1090.2 1679.5 1092.2 1679.9 1094.2 1680.3 1096.1 1680.7 1098.1 1681.1 1100.1 1681.4 1102.0 1681.8 1104.0 1682.2 1105.9 1682.6 1107.9 1683.0 1109.9 1683.3 1111.8 1683.7 1113.8 1684.0 1115.8 1684.3 1117.8 1684.6 1119.7 1684.9 1121.7 1685.1 1123.7 1685.4 1125.7 1685.7 1127.7 1685.9 1129.6 1686.2 1131.6 1686.4 1133.6 1686.6 1135.6 1686.9 1137.6 1687.1 1139.6 1687.3 1141.6 1687.6 1143.5 1687.8 1145.5 1688.0 1147.5 1688.3 1149.5 1688.5 1151.5 1688.7 1153.5 1688.9 1155.5 1689.2 1157.5 1689.4 1159.4 1689.6 1161.4 1689.9 1163.4 1690.1 1165.4 1690.3 1167.4 1690.6 1169.4 1690.8 1171.4 1691.1 1173.3 1691.4 1175.3 1691.6 1177.3 1691.9 1179.3 1692.2 1181.3 1692.5 1183.2 1692.8 1185.2 1693.0 1187.2 1693.3 1189.2 1693.6 1191.2 1693.9 1193.1 1694.2 1195.1 1694.5 1197.1 1694.7 1199.1 1695.0 1201.1 1695.3 1203.0 1695.6 1205.0 1695.9 1207.0 1696.2 1209.0 1696.5 1210.9 1696.9 1212.9 1697.2 1214.9 1697.5 1216.9 1697.8 1218.8 1698.2 1220.8 1698.6 1222.8 1698.9 1224.7 1699.3 1226.7 1699.7 1228.7 1700.2 1230.6 1700.6 1232.6 1701.0 1234.5 1701.5 1236.5 1702.0 1238.4 1702.4 1240.3 1702.9 1242.3 1703.4 1244.2 1703.9 1246.2 1704.4 1248.1 1705.0 1250.0 1705.5 1251.9 1706.1 1253.9 1706.7 1255.8 1707.3 1257.7 1707.9 1259.6 1708.5 1261.5 1709.2 1263.4 1709.9 1265.2 1710.7 1267.1 1711.5 1268.9 1712.4 1270.7 1713.3 1272.5 1714.2 1274.2 1715.2 1276.0 1716.2 1277.7 1717.2 1279.4 1718.3 1281.1 1719.4 1282.8 1720.5 1284.4 1721.7 1286.0 1723.0 1287.6 1724.2 1289.2 1725.6 1290.6 1726.9 1292.1 1728.4 1293.5 1729.9 1294.8 1731.4 1296.1 1732.9 1297.4 1734.5 1298.6 1736.1 1299.8 1737.7 1301.0 1739.4 1302.1 1741.1 1303.1 1742.9 1304.1 1744.6 1305.0 1746.5 1305.8 1748.4 1306.4 1750.3 1307.0 1752.2 1307.5 1754.1 1307.9 1756.1 1308.3 1758.1 1308.7 1760.0 1309.1 1762.0 1309.4 1764.0 1309.6 1766.0 1309.8 1768.0 1309.9 1770.0 1309.9 1772.0 1309.8 1773.9 1309.5 1775.9 1309.1 1777.8 1308.6 1779.8 1308.1 1781.7 1307.5 1783.6 1307.0 1785.6 1306.6 1787.5 1306.3 1789.5 1306.2 1791.5 1306.4 1793.4 1306.8 1795.3 1307.4 1797.1 1308.3 1798.8 1309.2 1800.5 1310.3 1802.2 1311.4 1803.9 1312.4 1805.6 1313.5 1807.3 1314.5 1809.0 1315.5 1810.8 1316.3 1812.6 1317.2 1814.5 1318.0 1816.3 1318.9 1818.1 1319.7 1819.9 1320.6 1821.7 1321.4 1823.5 1322.2 1825.4 1323.0 1827.2 1323.8 1829.0 1324.6 1830.9 1325.3 1832.8 1326.0 1834.7 1326.7 1836.6 1327.3 1838.5 1327.8 1840.4 1328.3 1842.4 1328.7 1844.4 1329.0 1846.4 1329.3 1848.3 1329.5 1850.3 1329.8 1852.3 1330.0 1854.3 1330.2 1856.3 1330.3 1858.3 1330.5 1860.3 1330.7 1862.3 1330.8 1864.3 1331.0 1866.3 1331.1 1868.3 1331.2 1870.3 1331.4 1872.3 1331.5 1874.2 1331.6 1876.2 1331.8 1878.2 1331.9 1880.2 1332.0 1882.2 1332.1 1884.2 1332.3 1886.2 1332.4 1888.2 1332.5 1890.2 1332.7 1892.2 1332.8 1894.2 1332.9 1896.2 1333.1 1898.2 1333.2 1900.2 1333.3 1902.2 1333.4 1904.2 1333.5 1906.2 1333.6 1908.2 1333.8 1910.2 1333.9 1912.2 1334.0 1914.2 1334.1 1916.2 1334.2 1918.2 1334.3 1920.2 1334.4 1922.2 1334.5 1924.2 1334.6 1926.2 1334.7 1928.2 1334.8 1930.2 1334.8 1932.2 1334.9 1934.1 1335.0 1935.9 1335.1 1937.4 1335.1 1939.0 1335.1"/>
<path stroke="#ec4a50" d="M289.0 1268.8L291.3 1268.6 293.0 1268.4 294.9 1268.1 296.9 1267.8 298.9 1267.5 300.9 1267.1 302.8 1266.8 304.8 1266.5 306.8 1266.2 308.8 1265.9 310.7 1265.6 312.7 1265.3 314.7 1264.9 316.7 1264.6 318.6 1264.3 320.6 1264.0 322.6 1263.7 324.6 1263.3 326.5 1263.0 328.5 1262.7 330.5 1262.4 332.4 1262.0 334.4 1261.7 336.4 1261.4 338.4 1261.1 340.3 1260.7 342.3 1260.4 344.3 1260.1 346.3 1259.7 348.2 1259.4 350.2 1259.1 352.2 1258.7 354.1 1258.4 356.1 1258.1 358.1 1257.7 360.1 1257.4 362.0 1257.0 364.0 1256.7 366.0 1256.4 367.9 1256.0 369.9 1255.7 371.9 1255.3 373.9 1255.0 375.8 1254.7 377.8 1254.3 379.8 1254.0 381.7 1253.6 383.7 1253.3 385.7 1252.9 387.6 1252.6 389.6 1252.2 391.6 1251.9 393.5 1251.5 395.5 1251.2 397.5 1250.8 399.5 1250.5 401.4 1250.1 403.4 1249.8 405.4 1249.4 407.3 1249.0 409.3 1248.7 411.3 1248.3 413.2 1248.0 415.2 1247.6 417.2 1247.3 419.1 1246.9 421.1 1246.6 423.1 1246.3 425.0 1245.9 427.0 1245.6 429.0 1245.2 431.0 1244.9 432.9 1244.5 434.9 1244.2 436.9 1243.8 438.8 1243.5 440.8 1243.1 442.8 1242.8 444.7 1242.4 446.7 1242.1 448.7 1241.7 450.6 1241.3 452.6 1241.0 454.6 1240.6 456.6 1240.3 458.5 1239.9 460.5 1239.5 462.4 1239.2 464.4 1238.8 466.4 1238.4 468.3 1238.1 470.3 1237.7 472.3 1237.3 474.2 1236.9 476.2 1236.5 478.2 1236.2 480.1 1235.8 482.1 1235.4 484.0 1235.0 486.0 1234.6 488.0 1234.2 489.9 1233.8 491.9 1233.4 493.8 1233.0 495.8 1232.5 497.7 1232.1 499.7 1231.7 501.7 1231.3 503.6 1230.8 505.6 1230.4 507.5 1229.9 509.5 1229.5 511.4 1229.0 513.4 1228.6 515.3 1228.1 517.2 1227.7 519.2 1227.2 521.1 1226.7 523.1 1226.2 525.0 1225.8 527.0 1225.3 528.9 1224.8 530.8 1224.3 532.8 1223.8 534.7 1223.3 536.6 1222.8 538.6 1222.3 540.5 1221.8 542.4 1221.3 544.4 1220.8 546.3 1220.2 548.2 1219.7 550.2 1219.2 552.1 1218.7 554.0 1218.1 556.0 1217.6 557.9 1217.0 559.8 1216.5 561.7 1215.9 563.6 1215.4 565.6 1214.8 567.5 1214.2 569.4 1213.6 571.3 1213.1 573.2 1212.5 575.1 1211.9 577.0 1211.3 578.9 1210.7 580.8 1210.1 582.7 1209.5 584.6 1208.8 586.5 1208.2 588.4 1207.6 590.3 1206.9 592.2 1206.3 594.1 1205.7 596.0 1205.0 597.9 1204.3 599.8 1203.7 601.7 1203.0 603.5 1202.3 605.4 1201.6 607.3 1200.9 609.2 1200.2 611.0 1199.5 612.9 1198.8 614.8 1198.1 616.6 1197.3 618.5 1196.6 620.4 1195.9 622.2 1195.1 624.1 1194.3 625.9 1193.6 627.7 1192.8 629.6 1192.0 631.4 1191.2 633.3 1190.4 635.1 1189.6 636.9 1188.8 638.7 1188.0 640.6 1187.2 642.4 1186.3 644.2 1185.5 646.0 1184.6 647.8 1183.7 649.5 1182.7 651.3 1181.8 653.0 1180.8 654.8 1179.8 656.5 1178.8 658.2 1177.8 659.9 1176.7 661.6 1175.6 663.3 1174.6 665.0 1173.5 666.6 1172.4 668.3 1171.3 670.0 1170.2 671.6 1169.0 673.2 1167.9 674.9 1166.8 676.5 1165.6 678.2 1164.4 679.8 1163.3 681.4 1162.1 683.0 1160.9 684.6 1159.8 686.3 1158.6 687.9 1157.4 689.5 1156.2 691.1 1155.0 692.7 1153.9 694.3 1152.7 695.9 1151.5 697.5 1150.3 699.1 1149.1 700.8 1147.9 702.4 1146.7 704.0 1145.5 705.6 1144.3 707.2 1143.1 708.7 1141.9 710.3 1140.6 711.8 1139.4 713.4 1138.1 714.8 1136.7 716.3 1135.4 717.8 1134.0 719.2 1132.6 720.6 1131.2 722.0 1129.7 723.4 1128.3 724.7 1126.8 726.1 1125.4 727.4 1123.9 728.8 1122.4 730.1 1120.9 731.4 1119.4 732.7 1117.9 734.0 1116.3 735.3 1114.8 736.6 1113.3 737.8 1111.7 739.1 1110.2 740.4 1108.6 741.7 1107.1 742.9 1105.5 744.2 1104.0 745.5 1102.5 746.7 1100.9 748.0 1099.4 749.3 1097.8 750.5 1096.3 751.8 1094.7 753.0 1093.1 754.2 1091.5 755.4 1089.9 756.5 1088.3 757.7 1086.6 758.7 1084.9 759.8 1083.3 760.8 1081.5 761.9 1079.8 762.8 1078.1 763.8 1076.3 764.7 1074.5 765.6 1072.8 766.5 1071.0 767.3 1069.1 768.2 1067.3 769.0 1065.5 769.7 1063.7 770.5 1061.8 771.2 1059.9 771.9 1058.1 772.6 1056.2 773.3 1054.3 773.9 1052.4 774.4 1050.5 775.0 1048.6 775.5 1046.6 776.1 1044.7 776.6 1042.8 777.1 1040.8 777.6 1038.9 778.1 1037.0 778.5 1035.0 779.0 1033.1 779.5 1031.1 780.0 1029.2 780.5 1027.2 780.9 1025.3 781.4 1023.4 781.9 1021.4 782.4 1019.5 782.9 1017.6 783.4 1015.6 784.0 1013.7 784.5 1011.8 785.1 1009.8 785.6 1007.9 786.2 1006.0 786.8 1004.1 787.5 1002.2 788.1 1000.3 788.7 998.4 789.3 996.5 789.9 994.6 790.6 992.7 791.1 990.8 791.7 988.9 792.3 987.0 792.9 985.0 793.4 983.1 794.0 981.2 794.5 979.3 795.1 977.4 795.6 975.4 796.1 973.5 796.6 971.6 797.1 969.6 797.6 967.7 798.1 965.7 798.6 963.8 799.0 961.9 799.5 959.9 799.9 957.9 800.3 956.0 800.7 954.0 801.1 952.1 801.4 950.1 801.8 948.1 802.2 946.2 802.5 944.2 802.9 942.2 803.2 940.3 803.6 938.3 803.9 936.3 804.3 934.4 804.6 932.4 805.0 930.4 805.4 928.5 805.7 926.5 806.1 924.5 806.5 922.6 806.8 920.6 807.2 918.6 807.6 916.7 807.9 914.7 808.3 912.7 808.7 910.8 809.0 908.8 809.4 906.8 809.8 904.9 810.2 902.9 810.5 900.9 810.9 899.0 811.3 897.0 811.6 895.0 812.0 893.1 812.4 891.1 812.7 889.1 813.1 887.2 813.5 885.2 813.8 883.2 814.2 881.3 814.6 879.3 814.9 877.3 815.3 875.4 815.6 873.4 816.0 871.4 816.4 869.5 816.7 867.5 817.1 865.5 817.4 863.6 817.8 861.6 818.1 859.6 818.5 857.7 818.8 855.7 819.2 853.7 819.5 851.8 819.9 849.8 820.2 847.8 820.6 845.8 820.9 843.9 821.3 841.9 821.6 839.9 822.0 838.0 822.3 836.0 822.7 834.0 823.0 832.1 823.3 830.1 823.7 828.1 824.0 826.1 824.4 824.2 824.8 822.2 825.1 820.2 825.5 818.3 825.8 816.3 826.2 814.3 826.6 812.4 826.9 810.4 827.3 808.4 827.7 806.5 828.1 804.5 828.5 802.6 828.9 800.6 829.3 798.6 829.7 796.7 830.1 794.7 830.5 792.8 830.9 790.8 831.3 788.8 831.7 786.9 832.1 784.9 832.5 783.0 832.9 781.0 833.3 779.0 833.7 777.1 834.1 775.1 834.5 773.2 834.8 771.2 835.2 769.2 835.6 767.3 835.9 765.3 836.3 763.3 836.6 761.4 837.0 759.4 837.3 757.4 837.6 755.4 838.0 753.5 838.3 751.5 838.6 749.5 838.9 747.5 839.2 745.6 839.5 743.6 839.8 741.6 840.1 739.6 840.5 737.7 840.8 735.7 841.1 733.7 841.4 731.7 841.7 729.8 842.0 727.8 842.4 725.8 842.7 723.8 843.0 721.9 843.4 719.9 843.7 717.9 844.0 716.0 844.3 714.0 844.7 712.0 845.0 710.0 845.3 708.1 845.6 706.1 846.0 704.1 846.3 702.1 846.6 700.2 846.9 698.2 847.3 696.2 847.6 694.3 848.0 692.3 848.3 690.3 848.7 688.4 849.1 686.4 849.5 684.4 849.9 682.5 850.4 680.5 850.9 678.6 851.4 676.7 851.9 674.7 852.4 672.8 852.9 670.9 853.5 669.0 854.2 667.2 855.2 665.8 856.5 665.2 857.9 665.5 859.3 666.6 860.5 668.0 861.6 669.7 862.6 671.4 863.4 673.2 864.2 675.1 864.8 677.0 865.4 678.9 865.9 680.8 866.5 682.7 867.0 684.7 867.5 686.6 867.9 688.5 868.4 690.5 868.8 692.4 869.3 694.4 869.6 696.3 870.0 698.3 870.4 700.3 870.7 702.2 871.1 704.2 871.4 706.2 871.7 708.2 872.0 710.1 872.3 712.1 872.6 714.1 872.9 716.1 873.3 718.0 873.6 720.0 873.9 722.0 874.2 724.0 874.5 726.0 874.8 727.9 875.1 729.9 875.4 731.9 875.7 733.9 876.1 735.8 876.4 737.8 876.7 739.8 877.0 741.8 877.3 743.7 877.6 745.7 877.9 747.7 878.2 749.7 878.5 751.6 878.8 753.6 879.1 755.6 879.4 757.6 879.7 759.5 880.0 761.5 880.3 763.5 880.6 765.5 881.0 767.5 881.3 769.4 881.6 771.4 881.9 773.4 882.3 775.3 882.6 777.3 883.0 779.3 883.3 781.3 883.7 783.2 884.0 785.2 884.3 787.2 884.7 789.1 885.0 791.1 885.4 793.1 885.8 795.0 886.1 797.0 886.5 799.0 886.9 800.9 887.2 802.9 887.7 804.9 888.1 806.8 888.5 808.8 889.0 810.7 889.5 812.6 890.1 814.5 890.7 816.4 891.3 818.3 892.0 820.2 892.7 822.1 893.5 823.9 894.4 825.5 895.6 826.6 897.0 826.8 898.4 826.1 899.6 824.7 900.6 823.0 901.6 821.3 902.4 819.5 903.3 817.7 904.1 815.9 905.0 814.1 905.9 812.3 906.7 810.5 907.6 808.7 908.4 806.8 909.2 805.0 910.1 803.2 911.1 801.5 912.3 799.9 913.6 798.5 915.1 797.2 916.7 796.2 918.5 795.7 920.2 795.9 921.8 796.8 923.3 798.1 924.5 799.6 925.7 801.2 926.8 802.9 927.8 804.6 928.6 806.4 929.4 808.2 930.1 810.1 930.7 812.0 931.3 813.9 931.9 815.8 932.4 817.8 933.0 819.7 933.5 821.6 934.0 823.6 934.5 825.5 934.9 827.4 935.4 829.4 935.8 831.3 936.2 833.3 936.6 835.3 936.9 837.2 937.3 839.2 937.6 841.2 937.9 843.2 938.2 845.1 938.5 847.1 938.8 849.1 939.2 851.1 939.5 853.0 939.8 855.0 940.1 857.0 940.5 858.9 940.8 860.9 941.2 862.9 941.6 864.8 942.0 866.8 942.4 868.8 942.9 870.7 943.3 872.7 943.7 874.6 944.1 876.6 944.5 878.5 944.9 880.5 945.2 882.5 945.5 884.4 945.8 886.4 946.1 888.4 946.4 890.4 946.7 892.4 947.0 894.3 947.3 896.3 947.5 898.3 947.8 900.3 948.1 902.3 948.3 904.2 948.6 906.2 948.9 908.2 949.2 910.2 949.4 912.2 949.7 914.1 950.0 916.1 950.3 918.1 950.7 920.1 951.0 922.0 951.4 924.0 951.7 926.0 952.1 927.9 952.5 929.9 952.8 931.9 953.2 933.8 953.6 935.8 954.1 937.7 954.5 939.7 955.0 941.6 955.6 943.5 956.2 945.4 956.9 947.3 957.7 949.2 958.5 950.9 959.5 952.5 960.7 953.6 962.0 953.7 963.2 952.8 964.3 951.3 965.1 949.6 965.9 947.7 966.6 945.9 967.3 944.0 967.9 942.1 968.6 940.2 969.2 938.3 969.8 936.4 970.3 934.5 970.8 932.5 971.3 930.6 971.7 928.6 972.2 926.7 972.6 924.7 973.1 922.8 973.5 920.8 974.0 918.9 974.4 916.9 974.8 915.0 975.3 913.0 975.7 911.1 976.2 909.1 976.7 907.2 977.2 905.3 977.7 903.3 978.2 901.4 978.7 899.4 979.2 897.5 979.6 895.6 980.1 893.6 980.6 891.7 981.0 889.7 981.5 887.8 981.9 885.8 982.3 883.9 982.7 881.9 983.0 879.9 983.4 878.0 983.7 876.0 984.0 874.0 984.3 872.0 984.6 870.1 984.9 868.1 985.2 866.1 985.4 864.1 985.7 862.1 985.9 860.1 986.2 858.2 986.4 856.2 986.6 854.2 986.9 852.2 987.1 850.2 987.4 848.2 987.6 846.2 987.8 844.3 988.1 842.3 988.3 840.3 988.6 838.3 988.8 836.3 989.1 834.3 989.4 832.4 989.6 830.4 989.9 828.4 990.1 826.4 990.4 824.4 990.6 822.4 990.8 820.5 991.1 818.5 991.3 816.5 991.5 814.5 991.7 812.5 992.0 810.5 992.2 808.5 992.4 806.5 992.6 804.5 992.8 802.6 992.9 800.6 993.1 798.6 993.3 796.6 993.4 794.6 993.6 792.6 993.7 790.6 993.9 788.6 994.0 786.6 994.1 784.6 994.3 782.6 994.4 780.6 994.5 778.6 994.7 776.6 994.8 774.6 994.9 772.6 995.0 770.6 995.1 768.6 995.3 766.6 995.4 764.6 995.5 762.7 995.6 760.7 995.8 758.7 995.9 756.7 996.0 754.7 996.2 752.7 996.3 750.7 996.4 748.7 996.6 746.7 996.7 744.7 996.9 742.7 997.0 740.7 997.2 738.7 997.4 736.7 997.6 734.7 997.8 732.7 998.0 730.7 998.2 728.8 998.4 726.8 998.6 724.8 998.8 722.8 999.0 720.8 999.2 718.8 999.5 716.8 999.7 714.8 999.9 712.9 1000.2 710.9 1000.4 708.9 1000.6 706.9 1000.9 704.9 1001.1 702.9 1001.3 700.9 1001.6 699.0 1001.8 697.0 1002.0 695.0 1002.3 693.0 1002.5 691.0 1002.7 689.0 1002.9 687.0 1003.1 685.0 1003.3 683.0 1003.5 681.1 1003.7 679.1 1003.9 677.1 1004.1 675.1 1004.3 673.1 1004.5 671.1 1004.7 669.1 1004.9 667.1 1005.0 665.1 1005.2 663.1 1005.4 661.1 1005.6 659.2 1005.8 657.2 1006.0 655.2 1006.2 653.2 1006.4 651.2 1006.5 649.2 1006.7 647.2 1006.9 645.2 1007.1 643.2 1007.3 641.2 1007.5 639.2 1007.7 637.3 1007.8 635.3 1008.0 633.3 1008.2 631.3 1008.4 629.3 1008.6 627.3 1008.8 625.3 1009.0 623.3 1009.2 621.3 1009.4 619.3 1009.5 617.3 1009.7 615.4 1009.9 613.4 1010.1 611.4 1010.3 609.4 1010.5 607.4 1010.7 605.4 1010.9 603.4 1011.1 601.4 1011.3 599.4 1011.5 597.4 1011.7 595.4 1011.9 593.5 1012.0 591.5 1012.2 589.5 1012.4 587.5 1012.6 585.5 1012.8 583.5 1013.0 581.5 1013.2 579.5 1013.4 577.5 1013.6 575.5 1013.7 573.5 1013.9 571.6 1014.1 569.6 1014.3 567.6 1014.5 565.6 1014.7 563.6 1014.9 561.6 1015.0 559.6 1015.2 557.6 1015.4 555.6 1015.6 553.6 1015.7 551.6 1015.9 549.6 1016.1 547.6 1016.2 545.7 1016.4 543.7 1016.6 541.7 1016.7 539.7 1016.9 537.7 1017.1 535.7 1017.2 533.7 1017.4 531.7 1017.6 529.7 1017.7 527.7 1017.9 525.7 1018.0 523.7 1018.2 521.7 1018.4 519.7 1018.6 517.8 1018.7 515.8 1018.9 513.8 1019.1 511.8 1019.3 509.8 1019.4 507.8 1019.6 505.8 1019.8 503.8 1020.0 501.8 1020.2 499.8 1020.4 497.8 1020.6 495.8 1020.8 493.9 1021.0 491.9 1021.3 489.9 1021.5 487.9 1021.7 485.9 1021.9 483.9 1022.1 481.9 1022.3 479.9 1022.6 478.0 1022.8 476.0 1023.0 474.0 1023.2 472.0 1023.5 470.0 1023.7 468.0 1023.9 466.0 1024.2 464.0 1024.4 462.1 1024.7 460.1 1024.9 458.1 1025.2 456.1 1025.4 454.1 1025.7 452.1 1025.9 450.2 1026.2 448.2 1026.4 446.2 1026.7 444.2 1027.0 442.2 1027.2 440.2 1027.5 438.3 1027.8 436.3 1028.1 434.3 1028.3 432.3 1028.6 430.3 1028.9 428.4 1029.2 426.4 1029.5 424.4 1029.7 422.4 1030.0 420.4 1030.3 418.5 1030.6 416.5 1030.9 414.5 1031.2 412.5 1031.5 410.6 1031.8 408.6 1032.1 406.6 1032.5 404.6 1032.8 402.7 1033.1 400.7 1033.5 398.7 1033.8 396.7 1034.1 394.8 1034.5 392.8 1034.8 390.8 1035.2 388.9 1035.6 386.9 1035.9 384.9 1036.3 383.0 1036.7 381.0 1037.0 379.0 1037.4 377.1 1037.7 375.1 1038.1 373.1 1038.5 371.2 1038.8 369.2 1039.2 367.2 1039.6 365.3 1040.0 363.3 1040.4 361.3 1040.8 359.4 1041.3 357.4 1041.7 355.5 1042.2 353.6 1042.7 351.6 1043.3 349.7 1043.9 347.8 1044.7 346.0 1045.5 344.1 1046.4 342.4 1047.3 340.6 1048.3 338.9 1049.3 337.1 1050.4 335.4 1051.5 333.8 1052.7 332.2 1054.0 330.7 1055.5 329.4 1057.1 328.3 1058.8 327.7 1060.6 327.7 1062.4 328.3 1063.9 329.4 1065.3 330.8 1066.5 332.3 1067.6 334.0 1068.6 335.7 1069.6 337.4 1070.5 339.2 1071.3 341.0 1072.0 342.9 1072.6 344.8 1073.1 346.8 1073.6 348.7 1074.0 350.7 1074.4 352.6 1074.8 354.6 1075.2 356.5 1075.5 358.5 1075.9 360.5 1076.2 362.4 1076.5 364.4 1076.9 366.4 1077.2 368.4 1077.5 370.3 1077.8 372.3 1078.2 374.3 1078.5 376.3 1078.8 378.2 1079.2 380.2 1079.5 382.2 1079.9 384.1 1080.2 386.1 1080.5 388.1 1080.9 390.1 1081.2 392.0 1081.6 394.0 1081.9 396.0 1082.2 397.9 1082.6 399.9 1082.9 401.9 1083.2 403.9 1083.5 405.8 1083.8 407.8 1084.1 409.8 1084.5 411.8 1084.8 413.7 1085.1 415.7 1085.4 417.7 1085.7 419.7 1086.0 421.6 1086.3 423.6 1086.6 425.6 1086.9 427.6 1087.2 429.6 1087.5 431.5 1087.8 433.5 1088.0 435.5 1088.3 437.5 1088.6 439.4 1088.9 441.4 1089.2 443.4 1089.5 445.4 1089.8 447.4 1090.0 449.3 1090.3 451.3 1090.6 453.3 1090.8 455.3 1091.1 457.3 1091.3 459.3 1091.6 461.2 1091.9 463.2 1092.1 465.2 1092.4 467.2 1092.6 469.2 1092.9 471.2 1093.1 473.1 1093.4 475.1 1093.6 477.1 1093.9 479.1 1094.1 481.1 1094.4 483.1 1094.7 485.0 1094.9 487.0 1095.2 489.0 1095.5 491.0 1095.7 493.0 1096.0 495.0 1096.3 496.9 1096.6 498.9 1096.8 500.9 1097.1 502.9 1097.4 504.9 1097.7 506.8 1098.0 508.8 1098.3 510.8 1098.6 512.8 1098.9 514.7 1099.2 516.7 1099.5 518.7 1099.8 520.7 1100.1 522.6 1100.5 524.6 1100.8 526.6 1101.1 528.6 1101.4 530.6 1101.7 532.5 1102.0 534.5 1102.4 536.5 1102.7 538.4 1103.0 540.4 1103.3 542.4 1103.7 544.4 1104.0 546.3 1104.4 548.3 1104.7 550.3 1105.0 552.2 1105.4 554.2 1105.8 556.2 1106.1 558.2 1106.5 560.1 1106.8 562.1 1107.2 564.1 1107.6 566.0 1107.9 568.0 1108.3 569.9 1108.7 571.9 1109.1 573.9 1109.5 575.8 1109.9 577.8 1110.3 579.8 1110.7 581.7 1111.1 583.7 1111.5 585.6 1111.9 587.6 1112.3 589.5 1112.8 591.5 1113.2 593.4 1113.6 595.4 1114.0 597.4 1114.5 599.3 1114.9 601.3 1115.3 603.2 1115.8 605.2 1116.2 607.1 1116.6 609.1 1117.1 611.0 1117.5 613.0 1117.9 614.9 1118.4 616.9 1118.8 618.8 1119.3 620.8 1119.7 622.7 1120.2 624.7 1120.6 626.6 1121.0 628.6 1121.5 630.5 1121.9 632.5 1122.4 634.4 1122.8 636.4 1123.3 638.3 1123.7 640.3 1124.2 642.2 1124.6 644.2 1125.1 646.1 1125.5 648.1 1126.0 650.0 1126.4 652.0 1126.9 653.9 1127.4 655.9 1127.8 657.8 1128.3 659.7 1128.8 661.7 1129.2 663.6 1129.7 665.6 1130.2 667.5 1130.6 669.5 1131.1 671.4 1131.6 673.4 1132.1 675.3 1132.5 677.2 1133.0 679.2 1133.5 681.1 1134.0 683.1 1134.5 685.0 1135.0 686.9 1135.4 688.9 1135.9 690.8 1136.4 692.8 1136.9 694.7 1137.4 696.6 1137.9 698.6 1138.4 700.5 1138.9 702.4 1139.4 704.4 1140.0 706.3 1140.5 708.2 1141.0 710.2 1141.5 712.1 1142.0 714.0 1142.6 716.0 1143.1 717.9 1143.6 719.8 1144.2 721.7 1144.7 723.7 1145.2 725.6 1145.8 727.5 1146.3 729.4 1146.9 731.4 1147.4 733.3 1147.9 735.2 1148.5 737.1 1149.0 739.1 1149.6 741.0 1150.1 742.9 1150.7 744.8 1151.2 746.8 1151.7 748.7 1152.3 750.6 1152.8 752.6 1153.3 754.5 1153.9 756.4 1154.4 758.3 1154.9 760.3 1155.4 762.2 1156.0 764.1 1156.5 766.1 1157.0 768.0 1157.5 769.9 1158.0 771.9 1158.5 773.8 1159.0 775.7 1159.5 777.7 1160.0 779.6 1160.5 781.5 1161.0 783.5 1161.5 785.4 1162.0 787.4 1162.5 789.3 1163.0 791.2 1163.5 793.2 1164.0 795.1 1164.5 797.0 1165.0 799.0 1165.5 800.9 1166.0 802.9 1166.5 804.8 1167.0 806.7 1167.5 808.7 1168.0 810.6 1168.5 812.5 1169.0 814.5 1169.5 816.4 1170.0 818.3 1170.5 820.3 1171.0 822.2 1171.5 824.2 1172.0 826.1 1172.5 828.0 1173.1 829.9 1173.6 831.9 1174.1 833.8 1174.7 835.7 1175.2 837.7 1175.7 839.6 1176.3 841.5 1176.8 843.4 1177.4 845.4 1177.9 847.3 1178.5 849.2 1179.0 851.1 1179.6 853.0 1180.1 855.0 1180.7 856.9 1181.2 858.8 1181.8 860.7 1182.3 862.7 1182.9 864.6 1183.4 866.5 1184.0 868.4 1184.5 870.4 1185.0 872.3 1185.6 874.2 1186.1 876.1 1186.6 878.1 1187.1 880.0 1187.7 881.9 1188.2 883.9 1188.7 885.8 1189.2 887.7 1189.7 889.7 1190.1 891.6 1190.6 893.6 1191.1 895.5 1191.6 897.4 1192.0 899.4 1192.5 901.3 1192.9 903.3 1193.4 905.2 1193.8 907.2 1194.3 909.1 1194.7 911.1 1195.1 913.0 1195.6 915.0 1196.0 917.0 1196.4 918.9 1196.9 920.9 1197.3 922.8 1197.7 924.8 1198.1 926.7 1198.6 928.7 1199.0 930.6 1199.4 932.6 1199.9 934.5 1200.3 936.5 1200.7 938.4 1201.2 940.4 1201.6 942.3 1202.0 944.3 1202.5 946.2 1202.9 948.2 1203.4 950.1 1203.8 952.1 1204.3 954.0 1204.8 956.0 1205.2 957.9 1205.7 959.9 1206.2 961.8 1206.6 963.8 1207.1 965.7 1207.5 967.7 1208.0 969.6 1208.5 971.5 1208.9 973.5 1209.4 975.4 1209.8 977.4 1210.3 979.3 1210.7 981.3 1211.2 983.2 1211.7 985.2 1212.1 987.1 1212.6 989.1 1213.1 991.0 1213.5 992.9 1214.0 994.9 1214.5 996.8 1215.0 998.8 1215.5 1000.7 1216.0 1002.6 1216.5 1004.6 1217.1 1006.5 1217.6 1008.4 1218.2 1010.3 1218.7 1012.3 1219.3 1014.2 1219.9 1016.1 1220.6 1018.0 1221.2 1019.9 1221.9 1021.7 1222.6 1023.6 1223.4 1025.5 1224.1 1027.3 1224.9 1029.2 1225.7 1031.0 1226.5 1032.8 1227.3 1034.6 1228.2 1036.5 1229.0 1038.3 1229.9 1040.1 1230.8 1041.8 1231.7 1043.6 1232.7 1045.4 1233.6 1047.1 1234.6 1048.9 1235.6 1050.6 1236.7 1052.3 1237.8 1054.0 1238.9 1055.6 1240.0 1057.3 1241.2 1058.9 1242.4 1060.5 1243.6 1062.1 1244.8 1063.7 1246.0 1065.3 1247.2 1066.9 1248.4 1068.5 1249.7 1070.0 1251.1 1071.5 1252.6 1072.7 1254.2 1073.8 1256.0 1074.4 1257.8 1074.4 1259.6 1073.9 1261.2 1072.9 1262.7 1071.6 1264.1 1070.1 1265.3 1068.6 1266.5 1066.9 1267.6 1065.3 1268.7 1063.6 1269.7 1061.9 1270.7 1060.2 1271.8 1058.5 1272.8 1056.7 1273.8 1055.0 1274.8 1053.3 1275.8 1051.6 1276.8 1049.8 1277.7 1048.0 1278.6 1046.2 1279.4 1044.4 1280.2 1042.6 1281.0 1040.8 1281.8 1038.9 1282.5 1037.1 1283.3 1035.2 1284.0 1033.3 1284.7 1031.5 1285.4 1029.6 1286.1 1027.7 1286.7 1025.8 1287.4 1023.9 1288.0 1022.0 1288.6 1020.1 1289.3 1018.2 1289.9 1016.3 1290.5 1014.4 1291.1 1012.5 1291.7 1010.6 1292.2 1008.7 1292.8 1006.7 1293.3 1004.8 1293.8 1002.9 1294.3 1001.0 1294.8 999.0 1295.3 997.1 1295.8 995.1 1296.3 993.2 1296.8 991.3 1297.2 989.3 1297.7 987.4 1298.2 985.4 1298.6 983.5 1299.0 981.5 1299.5 979.6 1299.9 977.6 1300.3 975.7 1300.8 973.7 1301.2 971.8 1301.6 969.8 1302.0 967.8 1302.4 965.9 1302.8 963.9 1303.2 962.0 1303.6 960.0 1304.0 958.0 1304.4 956.1 1304.7 954.1 1305.1 952.1 1305.5 950.2 1305.8 948.2 1306.2 946.2 1306.5 944.3 1306.9 942.3 1307.2 940.3 1307.5 938.4 1307.9 936.4 1308.2 934.4 1308.5 932.4 1308.8 930.5 1309.2 928.5 1309.5 926.5 1309.8 924.5 1310.1 922.6 1310.4 920.6 1310.7 918.6 1311.0 916.6 1311.3 914.6 1311.6 912.7 1311.9 910.7 1312.2 908.7 1312.5 906.7 1312.7 904.8 1313.0 902.8 1313.3 900.8 1313.6 898.8 1313.9 896.8 1314.2 894.9 1314.4 892.9 1314.7 890.9 1315.0 888.9 1315.3 886.9 1315.6 885.0 1315.8 883.0 1316.1 881.0 1316.4 879.0 1316.6 877.0 1316.9 875.0 1317.1 873.1 1317.4 871.1 1317.6 869.1 1317.9 867.1 1318.1 865.1 1318.4 863.1 1318.6 861.2 1318.9 859.2 1319.1 857.2 1319.4 855.2 1319.6 853.2 1319.9 851.2 1320.1 849.2 1320.3 847.3 1320.6 845.3 1320.8 843.3 1321.0 841.3 1321.3 839.3 1321.5 837.3 1321.8 835.3 1322.0 833.4 1322.2 831.4 1322.5 829.4 1322.7 827.4 1322.9 825.4 1323.2 823.4 1323.4 821.4 1323.6 819.5 1323.9 817.5 1324.1 815.5 1324.4 813.5 1324.6 811.5 1324.8 809.5 1325.1 807.5 1325.3 805.6 1325.6 803.6 1325.8 801.6 1326.1 799.6 1326.3 797.6 1326.5 795.6 1326.8 793.6 1327.0 791.7 1327.3 789.7 1327.5 787.7 1327.8 785.7 1328.0 783.7 1328.3 781.7 1328.5 779.8 1328.8 777.8 1329.0 775.8 1329.2 773.8 1329.5 771.8 1329.7 769.8 1330.0 767.8 1330.2 765.9 1330.5 763.9 1330.7 761.9 1331.0 759.9 1331.2 757.9 1331.5 755.9 1331.7 753.9 1331.9 752.0 1332.2 750.0 1332.4 748.0 1332.7 746.0 1332.9 744.0 1333.2 742.0 1333.4 740.1 1333.7 738.1 1333.9 736.1 1334.2 734.1 1334.4 732.1 1334.7 730.1 1334.9 728.1 1335.2 726.2 1335.4 724.2 1335.7 722.2 1335.9 720.2 1336.2 718.2 1336.4 716.2 1336.7 714.3 1336.9 712.3 1337.2 710.3 1337.4 708.3 1337.7 706.3 1338.0 704.3 1338.2 702.4 1338.5 700.4 1338.7 698.4 1339.0 696.4 1339.2 694.4 1339.5 692.4 1339.8 690.5 1340.0 688.5 1340.3 686.5 1340.5 684.5 1340.8 682.5 1341.1 680.5 1341.3 678.6 1341.6 676.6 1341.8 674.6 1342.1 672.6 1342.4 670.6 1342.6 668.6 1342.9 666.7 1343.2 664.7 1343.4 662.7 1343.7 660.7 1344.0 658.7 1344.2 656.8 1344.5 654.8 1344.7 652.8 1345.0 650.8 1345.3 648.8 1345.5 646.8 1345.8 644.9 1346.1 642.9 1346.3 640.9 1346.6 638.9 1346.9 636.9 1347.2 634.9 1347.4 633.0 1347.7 631.0 1348.0 629.0 1348.2 627.0 1348.5 625.0 1348.8 623.1 1349.0 621.1 1349.3 619.1 1349.6 617.1 1349.8 615.1 1350.1 613.1 1350.4 611.2 1350.6 609.2 1350.9 607.2 1351.1 605.2 1351.4 603.2 1351.6 601.2 1351.9 599.3 1352.1 597.3 1352.4 595.3 1352.6 593.3 1352.9 591.3 1353.2 589.3 1353.4 587.4 1353.7 585.4 1354.0 583.4 1354.4 581.4 1354.7 579.5 1355.1 577.5 1355.5 575.6 1356.0 573.6 1356.4 571.6 1356.9 569.7 1357.4 567.8 1358.0 566.1 1358.8 564.9 1359.7 564.7 1360.5 565.6 1361.2 567.2 1361.6 569.1 1362.0 571.0 1362.4 573.0 1362.8 575.0 1363.1 576.9 1363.5 578.9 1363.8 580.9 1364.1 582.9 1364.5 584.8 1364.8 586.8 1365.1 588.8 1365.4 590.8 1365.7 592.7 1365.9 594.7 1366.2 596.7 1366.4 598.7 1366.7 600.7 1366.9 602.7 1367.1 604.7 1367.4 606.6 1367.6 608.6 1367.8 610.6 1368.0 612.6 1368.2 614.6 1368.4 616.6 1368.7 618.6 1368.9 620.6 1369.1 622.6 1369.2 624.5 1369.4 626.5 1369.6 628.5 1369.8 630.5 1370.0 632.5 1370.1 634.5 1370.3 636.5 1370.5 638.5 1370.6 640.5 1370.8 642.5 1371.0 644.5 1371.1 646.5 1371.3 648.5 1371.4 650.4 1371.6 652.4 1371.7 654.4 1371.9 656.4 1372.0 658.4 1372.1 660.4 1372.3 662.4 1372.4 664.4 1372.6 666.4 1372.7 668.4 1372.8 670.4 1373.0 672.4 1373.1 674.4 1373.2 676.4 1373.4 678.4 1373.5 680.4 1373.6 682.4 1373.8 684.4 1373.9 686.4 1374.0 688.4 1374.1 690.4 1374.3 692.4 1374.4 694.3 1374.5 696.3 1374.6 698.3 1374.8 700.3 1374.9 702.3 1375.0 704.3 1375.1 706.3 1375.3 708.3 1375.4 710.3 1375.5 712.3 1375.6 714.3 1375.7 716.3 1375.8 718.3 1376.0 720.3 1376.1 722.3 1376.2 724.3 1376.3 726.3 1376.4 728.3 1376.5 730.3 1376.6 732.3 1376.7 734.3 1376.8 736.3 1376.9 738.3 1377.0 740.3 1377.1 742.3 1377.3 744.3 1377.4 746.3 1377.5 748.3 1377.6 750.3 1377.7 752.3 1377.8 754.3 1377.9 756.3 1378.0 758.2 1378.1 760.2 1378.2 762.2 1378.3 764.2 1378.4 766.2 1378.5 768.2 1378.6 770.2 1378.7 772.2 1378.7 774.2 1378.8 776.2 1378.9 778.2 1379.0 780.2 1379.1 782.2 1379.2 784.2 1379.3 786.2 1379.4 788.2 1379.5 790.2 1379.6 792.2 1379.7 794.2 1379.8 796.2 1379.9 798.2 1380.0 800.2 1380.1 802.2 1380.2 804.2 1380.3 806.2 1380.4 808.2 1380.5 810.2 1380.6 812.2 1380.6 814.2 1380.7 816.2 1380.8 818.2 1380.9 820.2 1381.0 822.2 1381.1 824.2 1381.2 826.2 1381.2 828.2 1381.3 830.2 1381.4 832.2 1381.5 834.2 1381.6 836.2 1381.7 838.2 1381.7 840.2 1381.8 842.2 1381.9 844.2 1382.0 846.2 1382.1 848.2 1382.2 850.2 1382.2 852.2 1382.3 854.1 1382.4 856.1 1382.5 858.1 1382.6 860.1 1382.7 862.1 1382.8 864.1 1382.9 866.1 1382.9 868.1 1383.0 870.1 1383.1 872.1 1383.2 874.1 1383.3 876.1 1383.4 878.1 1383.5 880.1 1383.6 882.1 1383.7 884.1 1383.8 886.1 1384.0 888.1 1384.1 890.1 1384.2 892.1 1384.3 894.1 1384.4 896.1 1384.5 898.1 1384.7 900.1 1384.8 902.1 1384.9 904.1 1385.0 906.1 1385.2 908.1 1385.3 910.1 1385.4 912.1 1385.6 914.1 1385.7 916.1 1385.9 918.0 1386.0 920.0 1386.1 922.0 1386.3 924.0 1386.4 926.0 1386.6 928.0 1386.7 930.0 1386.9 932.0 1387.0 934.0 1387.2 936.0 1387.3 938.0 1387.5 940.0 1387.7 942.0 1387.8 944.0 1388.0 946.0 1388.1 948.0 1388.3 950.0 1388.5 951.9 1388.6 953.9 1388.8 955.9 1389.0 957.9 1389.2 959.9 1389.3 961.9 1389.5 963.9 1389.7 965.9 1389.9 967.9 1390.1 969.9 1390.3 971.9 1390.5 973.9 1390.6 975.8 1390.8 977.8 1391.0 979.8 1391.2 981.8 1391.4 983.8 1391.6 985.8 1391.8 987.8 1392.0 989.8 1392.2 991.8 1392.5 993.8 1392.7 995.7 1392.9 997.7 1393.1 999.7 1393.3 1001.7 1393.6 1003.7 1393.8 1005.7 1394.0 1007.7 1394.2 1009.7 1394.5 1011.6 1394.7 1013.6 1395.0 1015.6 1395.2 1017.6 1395.4 1019.6 1395.7 1021.6 1396.0 1023.6 1396.2 1025.5 1396.5 1027.5 1396.7 1029.5 1397.0 1031.5 1397.3 1033.5 1397.6 1035.4 1397.8 1037.4 1398.1 1039.4 1398.4 1041.4 1398.7 1043.4 1399.0 1045.3 1399.3 1047.3 1399.6 1049.3 1399.9 1051.3 1400.2 1053.2 1400.5 1055.2 1400.8 1057.2 1401.1 1059.2 1401.5 1061.1 1401.8 1063.1 1402.1 1065.1 1402.5 1067.1 1402.8 1069.0 1403.1 1071.0 1403.5 1073.0 1403.8 1074.9 1404.2 1076.9 1404.5 1078.9 1404.8 1080.9 1405.1 1082.8 1405.4 1084.8 1405.8 1086.8 1406.1 1088.8 1406.4 1090.7 1406.7 1092.7 1407.0 1094.7 1407.3 1096.7 1407.6 1098.7 1407.9 1100.6 1408.2 1102.6 1408.6 1104.6 1408.9 1106.5 1409.3 1108.5 1409.6 1110.5 1410.0 1112.4 1410.4 1114.4 1410.7 1116.4 1411.1 1118.3 1411.5 1120.3 1411.9 1122.3 1412.4 1124.1 1413.1 1125.7 1414.2 1126.7 1415.6 1126.8 1417.1 1126.0 1418.5 1124.7 1419.9 1123.3 1421.2 1121.8 1422.6 1120.3 1423.9 1118.8 1425.1 1117.3 1426.4 1115.7 1427.7 1114.3 1429.3 1113.3 1430.9 1112.8 1432.6 1113.2 1434.1 1114.2 1435.4 1115.6 1436.6 1117.2 1437.6 1118.9 1438.6 1120.6 1439.6 1122.3 1440.5 1124.1 1441.3 1125.9 1442.1 1127.8 1442.7 1129.7 1443.3 1131.6 1443.9 1133.5 1444.4 1135.4 1444.9 1137.4 1445.5 1139.3 1446.0 1141.2 1446.6 1143.1 1447.3 1145.0 1448.0 1146.8 1448.8 1148.7 1449.7 1150.5 1450.6 1152.2 1451.6 1154.0 1452.6 1155.7 1453.7 1157.4 1454.9 1159.0 1456.1 1160.6 1457.3 1162.1 1458.7 1163.6 1460.1 1165.0 1461.6 1166.3 1463.2 1167.5 1464.8 1168.7 1466.4 1169.9 1468.1 1171.0 1469.7 1172.2 1471.3 1173.5 1472.8 1174.7 1474.3 1176.0 1475.8 1177.4 1477.3 1178.7 1478.7 1180.1 1480.2 1181.5 1481.6 1182.9 1483.1 1184.2 1484.6 1185.6 1486.1 1186.8 1487.7 1188.1 1489.2 1189.3 1490.8 1190.6 1492.2 1191.9 1493.6 1193.4 1494.8 1195.0 1495.8 1196.7 1496.6 1198.5 1497.4 1200.3 1498.0 1202.2 1498.7 1204.1 1499.3 1206.0 1499.8 1208.0 1500.4 1209.9 1500.9 1211.8 1501.4 1213.7 1501.9 1215.7 1502.3 1217.6 1502.7 1219.6 1503.1 1221.5 1503.5 1223.5 1503.9 1225.5 1504.4 1227.4 1504.8 1229.4 1505.3 1231.3 1505.8 1233.2 1506.4 1235.1 1507.1 1237.0 1507.8 1238.9 1508.6 1240.7 1509.4 1242.6 1510.2 1244.4 1511.1 1246.2 1512.0 1247.9 1513.0 1249.7 1514.0 1251.4 1515.1 1253.1 1516.2 1254.8 1517.3 1256.4 1518.4 1258.1 1519.6 1259.7 1520.9 1261.2 1522.4 1262.5 1523.9 1263.7 1525.7 1264.7 1527.4 1265.6 1529.3 1266.4 1531.1 1267.1 1533.0 1267.8 1534.9 1268.4 1536.9 1268.9 1538.8 1269.3 1540.8 1269.6 1542.8 1269.9 1544.7 1270.2 1546.7 1270.4 1548.7 1270.6 1550.7 1270.8 1552.7 1271.0 1554.7 1271.2 1556.7 1271.4 1558.7 1271.5 1560.7 1271.6 1562.7 1271.7 1564.7 1271.8 1566.7 1271.9 1568.7 1271.9 1570.7 1272.0 1572.7 1272.0 1574.7 1272.0 1576.7 1272.0 1578.7 1271.9 1580.7 1271.9 1582.7 1271.9 1584.7 1271.8 1586.7 1271.7 1588.7 1271.7 1590.7 1271.6 1592.7 1271.5 1594.7 1271.3 1596.7 1271.2 1598.7 1271.1 1600.6 1270.9 1602.6 1270.7 1604.6 1270.6 1606.6 1270.3 1608.6 1270.1 1610.5 1269.6 1612.3 1268.9 1614.0 1267.9 1615.6 1266.7 1617.0 1265.4 1618.4 1263.9 1619.8 1262.5 1621.1 1261.0 1622.4 1259.5 1623.7 1257.9 1624.9 1256.3 1626.0 1254.7 1627.1 1253.0 1628.2 1251.3 1629.2 1249.6 1630.2 1247.8 1631.1 1246.1 1632.0 1244.3 1632.8 1242.5 1633.7 1240.6 1634.5 1238.8 1635.2 1237.0 1635.9 1235.1 1636.6 1233.2 1637.3 1231.3 1637.9 1229.4 1638.5 1227.5 1639.1 1225.6 1639.7 1223.7 1640.2 1221.8 1640.8 1219.8 1641.3 1217.9 1641.8 1216.0 1642.3 1214.0 1642.8 1212.1 1643.3 1210.2 1643.8 1208.2 1644.3 1206.3 1644.7 1204.3 1645.2 1202.4 1645.6 1200.4 1646.1 1198.5 1646.5 1196.6 1647.0 1194.6 1647.4 1192.6 1647.8 1190.7 1648.3 1188.7 1648.7 1186.8 1649.1 1184.8 1649.5 1182.9 1649.9 1180.9 1650.3 1178.9 1650.6 1177.0 1651.0 1175.0 1651.4 1173.0 1651.7 1171.1 1652.0 1169.1 1652.4 1167.1 1652.7 1165.2 1653.1 1163.2 1653.4 1161.2 1653.7 1159.2 1654.0 1157.3 1654.3 1155.3 1654.6 1153.3 1654.9 1151.3 1655.2 1149.4 1655.5 1147.4 1655.8 1145.4 1656.1 1143.4 1656.4 1141.4 1656.7 1139.5 1657.0 1137.5 1657.2 1135.5 1657.5 1133.5 1657.8 1131.5 1658.1 1129.6 1658.3 1127.6 1658.6 1125.6 1658.8 1123.6 1659.0 1121.6 1659.3 1119.6 1659.5 1117.6 1659.7 1115.7 1659.9 1113.7 1660.1 1111.7 1660.3 1109.7 1660.5 1107.7 1660.7 1105.7 1660.9 1103.7 1661.1 1101.7 1661.3 1099.7 1661.5 1097.7 1661.7 1095.8 1661.9 1093.8 1662.1 1091.8 1662.2 1089.8 1662.4 1087.8 1662.6 1085.8 1662.8 1083.8 1663.0 1081.8 1663.2 1079.8 1663.4 1077.8 1663.6 1075.8 1663.8 1073.9 1664.0 1071.9 1664.2 1069.9 1664.4 1067.9 1664.6 1065.9 1664.8 1063.9 1665.0 1061.9 1665.2 1059.9 1665.4 1057.9 1665.6 1056.0 1665.9 1054.0 1666.1 1052.0 1666.3 1050.0 1666.6 1048.0 1666.9 1046.0 1667.1 1044.0 1667.4 1042.1 1667.7 1040.1 1667.9 1038.1 1668.2 1036.1 1668.4 1034.1 1668.7 1032.2 1669.0 1030.2 1669.2 1028.2 1669.5 1026.2 1669.8 1024.2 1670.0 1022.2 1670.3 1020.3 1670.6 1018.3 1670.9 1016.3 1671.2 1014.3 1671.6 1012.4 1672.0 1010.4 1672.5 1008.6 1673.2 1007.1 1674.2 1006.5 1675.3 1006.9 1676.2 1008.3 1677.0 1010.0 1677.6 1011.9 1678.2 1013.8 1678.7 1015.7 1679.2 1017.7 1679.7 1019.6 1680.2 1021.6 1680.6 1023.5 1681.1 1025.5 1681.4 1027.4 1681.8 1029.4 1682.1 1031.4 1682.4 1033.3 1682.6 1035.3 1682.9 1037.3 1683.1 1039.3 1683.4 1041.3 1683.6 1043.3 1683.8 1045.3 1684.0 1047.2 1684.2 1049.2 1684.4 1051.2 1684.6 1053.2 1684.9 1055.2 1685.1 1057.2 1685.3 1059.2 1685.5 1061.2 1685.7 1063.2 1685.9 1065.1 1686.1 1067.1 1686.3 1069.1 1686.5 1071.1 1686.8 1073.1 1687.0 1075.1 1687.3 1077.1 1687.5 1079.1 1687.7 1081.0 1688.0 1083.0 1688.2 1085.0 1688.5 1087.0 1688.7 1089.0 1689.0 1091.0 1689.2 1092.9 1689.5 1094.9 1689.7 1096.9 1690.0 1098.9 1690.2 1100.9 1690.4 1102.9 1690.7 1104.9 1690.9 1106.8 1691.2 1108.8 1691.4 1110.8 1691.7 1112.8 1691.9 1114.8 1692.2 1116.8 1692.4 1118.7 1692.7 1120.7 1692.9 1122.7 1693.2 1124.7 1693.4 1126.7 1693.7 1128.7 1693.9 1130.7 1694.1 1132.6 1694.4 1134.6 1694.6 1136.6 1694.9 1138.6 1695.1 1140.6 1695.4 1142.6 1695.6 1144.6 1695.8 1146.5 1696.1 1148.5 1696.3 1150.5 1696.5 1152.5 1696.7 1154.5 1697.0 1156.5 1697.2 1158.5 1697.4 1160.5 1697.6 1162.4 1697.8 1164.4 1698.0 1166.4 1698.2 1168.4 1698.4 1170.4 1698.6 1172.4 1698.8 1174.4 1699.1 1176.4 1699.3 1178.4 1699.5 1180.3 1699.7 1182.3 1699.9 1184.3 1700.1 1186.3 1700.3 1188.3 1700.5 1190.3 1700.7 1192.3 1700.9 1194.3 1701.2 1196.3 1701.4 1198.2 1701.6 1200.2 1701.8 1202.2 1702.1 1204.2 1702.3 1206.2 1702.6 1208.2 1702.8 1210.2 1703.1 1212.1 1703.4 1214.1 1703.7 1216.1 1704.0 1218.1 1704.4 1220.0 1704.7 1222.0 1705.0 1224.0 1705.4 1225.9 1705.7 1227.9 1706.1 1229.9 1706.4 1231.9 1706.8 1233.8 1707.2 1235.8 1707.6 1237.7 1707.9 1239.7 1708.3 1241.7 1708.7 1243.6 1709.1 1245.6 1709.6 1247.5 1710.0 1249.5 1710.4 1251.4 1710.9 1253.4 1711.4 1255.3 1711.9 1257.3 1712.4 1259.2 1712.9 1261.1 1713.5 1263.0 1714.1 1264.9 1714.8 1266.8 1715.5 1268.7 1716.3 1270.5 1717.1 1272.4 1718.0 1274.2 1718.9 1276.0 1719.8 1277.7 1720.7 1279.5 1721.7 1281.2 1722.7 1283.0 1723.7 1284.7 1724.8 1286.4 1725.9 1288.0 1727.0 1289.7 1728.2 1291.3 1729.4 1292.9 1730.7 1294.4 1732.0 1295.9 1733.4 1297.4 1734.8 1298.8 1736.3 1300.1 1737.9 1301.4 1739.5 1302.6 1741.1 1303.7 1742.7 1304.8 1744.4 1305.9 1746.1 1307.0 1747.8 1308.0 1749.6 1308.9 1751.4 1309.7 1753.3 1310.3 1755.3 1310.6 1757.2 1310.6 1759.1 1310.3 1760.9 1309.6 1762.7 1308.7 1764.2 1307.5 1765.6 1306.1 1766.9 1304.6 1768.0 1302.9 1769.0 1301.2 1770.0 1299.4 1771.0 1297.7 1772.0 1296.0 1773.2 1294.4 1774.4 1292.8 1775.8 1291.4 1777.3 1290.1 1778.8 1288.8 1780.4 1287.5 1782.0 1286.4 1783.7 1285.3 1785.4 1284.4 1787.3 1283.7 1789.2 1283.4 1791.1 1283.4 1793.0 1283.9 1794.8 1284.7 1796.5 1285.7 1798.1 1286.8 1799.6 1288.1 1801.1 1289.4 1802.6 1290.8 1804.0 1292.2 1805.4 1293.6 1806.7 1295.1 1807.9 1296.7 1809.0 1298.4 1810.1 1300.1 1811.1 1301.8 1812.1 1303.5 1813.0 1305.3 1814.0 1307.0 1815.0 1308.8 1816.1 1310.5 1817.1 1312.1 1818.3 1313.8 1819.5 1315.3 1820.9 1316.8 1822.2 1318.3 1823.7 1319.7 1825.1 1321.1 1826.5 1322.5 1828.0 1323.8 1829.5 1325.1 1831.0 1326.4 1832.6 1327.7 1834.2 1328.9 1835.9 1330.0 1837.6 1331.0 1839.3 1332.0 1841.1 1332.8 1843.0 1333.6 1844.9 1334.2 1846.8 1334.7 1848.7 1335.2 1850.7 1335.7 1852.6 1336.2 1854.6 1336.6 1856.5 1337.0 1858.5 1337.4 1860.5 1337.7 1862.4 1338.0 1864.4 1338.4 1866.4 1338.6 1868.4 1338.9 1870.3 1339.1 1872.3 1339.3 1874.3 1339.5 1876.3 1339.7 1878.3 1339.9 1880.3 1340.0 1882.3 1340.1 1884.3 1340.3 1886.3 1340.4 1888.3 1340.5 1890.3 1340.6 1892.3 1340.7 1894.3 1340.8 1896.3 1340.9 1898.3 1341.0 1900.3 1341.1 1902.3 1341.2 1904.3 1341.3 1906.3 1341.4 1908.3 1341.5 1910.3 1341.5 1912.3 1341.6 1914.3 1341.7 1916.3 1341.7 1918.3 1341.8 1920.3 1341.8 1922.3 1341.9 1924.3 1341.9 1926.3 1341.9 1928.3 1342.0 1930.3 1342.0 1932.3 1342.0 1934.2 1342.0 1936.1 1342.0 1937.5 1342.0 1939.0 1342.0"/>
<path stroke="#3282dc" d="M289.0 1262.9L291.3 1262.7 293.0 1262.4 294.9 1262.1 296.9 1261.8 298.9 1261.5 300.9 1261.2 302.8 1260.9 304.8 1260.6 306.8 1260.3 308.8 1260.0 310.8 1259.7 312.7 1259.4 314.7 1259.1 316.7 1258.8 318.7 1258.5 320.6 1258.2 322.6 1257.8 324.6 1257.5 326.6 1257.2 328.5 1256.9 330.5 1256.6 332.5 1256.2 334.5 1255.9 336.4 1255.6 338.4 1255.3 340.4 1254.9 342.3 1254.6 344.3 1254.3 346.3 1253.9 348.3 1253.6 350.2 1253.3 352.2 1252.9 354.2 1252.6 356.1 1252.3 358.1 1251.9 360.1 1251.6 362.1 1251.2 364.0 1250.9 366.0 1250.5 368.0 1250.2 369.9 1249.8 371.9 1249.5 373.9 1249.1 375.8 1248.8 377.8 1248.4 379.8 1248.1 381.7 1247.7 383.7 1247.4 385.7 1247.0 387.7 1246.7 389.6 1246.3 391.6 1245.9 393.6 1245.6 395.5 1245.2 397.5 1244.8 399.5 1244.5 401.4 1244.1 403.4 1243.7 405.3 1243.4 407.3 1243.0 409.3 1242.6 411.2 1242.3 413.2 1241.9 415.2 1241.5 417.1 1241.2 419.1 1240.8 421.1 1240.4 423.0 1240.1 425.0 1239.7 427.0 1239.3 428.9 1239.0 430.9 1238.6 432.9 1238.2 434.8 1237.9 436.8 1237.5 438.8 1237.1 440.7 1236.8 442.7 1236.4 444.7 1236.0 446.6 1235.6 448.6 1235.2 450.6 1234.9 452.5 1234.5 454.5 1234.1 456.4 1233.7 458.4 1233.3 460.4 1232.9 462.3 1232.5 464.3 1232.1 466.2 1231.7 468.2 1231.3 470.2 1230.9 472.1 1230.5 474.1 1230.1 476.0 1229.6 478.0 1229.2 479.9 1228.8 481.9 1228.4 483.8 1227.9 485.8 1227.5 487.7 1227.0 489.7 1226.6 491.6 1226.1 493.6 1225.7 495.5 1225.2 497.5 1224.8 499.4 1224.3 501.4 1223.8 503.3 1223.3 505.2 1222.9 507.2 1222.4 509.1 1221.9 511.1 1221.4 513.0 1220.9 514.9 1220.4 516.9 1219.8 518.8 1219.3 520.7 1218.8 522.6 1218.3 524.6 1217.7 526.5 1217.2 528.4 1216.6 530.3 1216.1 532.3 1215.5 534.2 1215.0 536.1 1214.4 538.0 1213.8 539.9 1213.2 541.8 1212.6 543.7 1212.0 545.7 1211.4 547.6 1210.8 549.5 1210.2 551.4 1209.6 553.3 1209.0 555.2 1208.3 557.1 1207.7 559.0 1207.1 560.8 1206.4 562.7 1205.8 564.6 1205.1 566.5 1204.4 568.4 1203.8 570.3 1203.1 572.2 1202.4 574.0 1201.7 575.9 1201.0 577.8 1200.3 579.6 1199.6 581.5 1198.9 583.4 1198.2 585.2 1197.4 587.1 1196.7 589.0 1196.0 590.8 1195.2 592.7 1194.5 594.5 1193.7 596.4 1192.9 598.2 1192.2 600.1 1191.4 601.9 1190.6 603.7 1189.8 605.6 1189.0 607.4 1188.2 609.2 1187.4 611.0 1186.6 612.9 1185.7 614.7 1184.9 616.5 1184.1 618.3 1183.2 620.1 1182.4 621.9 1181.5 623.7 1180.7 625.5 1179.8 627.3 1178.9 629.1 1178.0 630.9 1177.1 632.7 1176.2 634.5 1175.3 636.3 1174.4 638.1 1173.5 639.8 1172.6 641.6 1171.7 643.4 1170.7 645.1 1169.7 646.8 1168.8 648.6 1167.7 650.3 1166.7 652.0 1165.7 653.7 1164.6 655.4 1163.5 657.0 1162.4 658.7 1161.3 660.4 1160.2 662.0 1159.1 663.6 1157.9 665.3 1156.8 666.9 1155.6 668.5 1154.4 670.1 1153.2 671.7 1152.0 673.3 1150.8 674.9 1149.6 676.5 1148.3 678.0 1147.1 679.6 1145.8 681.1 1144.6 682.7 1143.3 684.2 1142.1 685.8 1140.8 687.3 1139.5 688.8 1138.2 690.4 1136.9 691.9 1135.6 693.4 1134.3 694.8 1132.9 696.3 1131.5 697.7 1130.1 699.1 1128.7 700.5 1127.3 701.9 1125.9 703.3 1124.4 704.7 1123.0 706.1 1121.5 707.5 1120.1 708.8 1118.6 710.2 1117.2 711.5 1115.7 712.9 1114.2 714.2 1112.7 715.6 1111.2 716.9 1109.7 718.2 1108.2 719.5 1106.7 720.8 1105.2 722.2 1103.7 723.5 1102.3 724.9 1100.8 726.2 1099.3 727.5 1097.8 728.8 1096.3 730.1 1094.8 731.4 1093.2 732.6 1091.6 733.9 1090.1 735.0 1088.4 736.2 1086.8 737.3 1085.1 738.4 1083.5 739.5 1081.8 740.6 1080.1 741.7 1078.5 742.8 1076.8 743.9 1075.1 745.0 1073.5 746.2 1071.8 747.3 1070.2 748.4 1068.5 749.5 1066.8 750.6 1065.2 751.7 1063.5 752.8 1061.9 753.9 1060.2 755.0 1058.5 756.1 1056.8 757.2 1055.1 758.2 1053.4 759.3 1051.7 760.3 1050.0 761.4 1048.3 762.4 1046.6 763.4 1044.9 764.4 1043.2 765.5 1041.4 766.5 1039.7 767.4 1038.0 768.4 1036.2 769.4 1034.5 770.4 1032.7 771.3 1031.0 772.3 1029.2 773.2 1027.4 774.1 1025.7 775.1 1023.9 776.0 1022.1 776.9 1020.3 777.7 1018.5 778.6 1016.7 779.5 1014.9 780.4 1013.1 781.2 1011.3 782.1 1009.5 782.9 1007.7 783.7 1005.9 784.4 1004.0 785.2 1002.1 785.9 1000.3 786.5 998.4 787.1 996.5 787.7 994.6 788.3 992.7 788.8 990.7 789.4 988.8 789.9 986.9 790.4 984.9 790.9 983.0 791.4 981.1 791.9 979.1 792.4 977.2 792.9 975.3 793.4 973.3 793.9 971.4 794.4 969.5 794.9 967.5 795.4 965.6 795.9 963.6 796.4 961.7 796.9 959.8 797.4 957.8 797.9 955.9 798.4 954.0 798.9 952.0 799.4 950.1 800.0 948.2 800.5 946.2 801.1 944.3 801.6 942.4 802.2 940.5 802.8 938.6 803.4 936.6 803.9 934.7 804.5 932.8 805.1 930.9 805.7 929.0 806.3 927.1 806.9 925.2 807.6 923.3 808.2 921.4 808.8 919.5 809.4 917.6 810.0 915.7 810.7 913.8 811.3 911.9 812.0 910.0 812.6 908.1 813.2 906.2 813.9 904.3 814.5 902.4 815.1 900.5 815.8 898.6 816.4 896.7 817.0 894.8 817.6 892.9 818.3 891.0 818.9 889.1 819.5 887.2 820.1 885.3 820.7 883.4 821.4 881.5 822.0 879.6 822.6 877.7 823.2 875.8 823.8 873.9 824.4 872.0 825.0 870.1 825.6 868.2 826.1 866.2 826.7 864.3 827.2 862.4 827.8 860.5 828.3 858.6 828.9 856.6 829.4 854.7 829.9 852.8 830.5 850.8 831.0 848.9 831.6 847.0 832.1 845.1 832.7 843.2 833.3 841.2 833.8 839.3 834.4 837.4 835.1 835.5 835.7 833.6 836.3 831.7 837.0 829.8 837.6 827.9 838.3 826.1 839.0 824.2 839.6 822.3 840.3 820.4 841.0 818.5 841.7 816.7 842.5 814.8 843.4 813.0 844.3 811.3 845.3 809.6 846.5 807.9 847.7 806.4 849.0 804.8 850.4 803.5 852.0 802.4 853.7 801.7 855.5 801.8 857.2 802.4 858.7 803.6 860.1 804.9 861.4 806.5 862.6 808.1 863.6 809.8 864.5 811.6 865.3 813.4 866.0 815.2 866.7 817.1 867.4 819.0 868.0 820.9 868.7 822.8 869.3 824.7 870.0 826.6 870.6 828.5 871.3 830.4 871.9 832.3 872.5 834.2 873.1 836.1 873.6 838.0 874.2 839.9 874.7 841.8 875.3 843.8 875.8 845.7 876.3 847.6 876.7 849.6 877.2 851.5 877.5 853.5 877.9 855.5 878.3 857.4 878.6 859.4 879.0 861.4 879.3 863.3 879.7 865.3 880.2 867.3 880.7 869.2 881.2 871.1 881.8 873.0 882.4 874.9 883.1 876.8 883.7 878.7 884.2 880.6 884.8 882.6 885.3 884.5 885.8 886.4 886.2 888.4 886.7 890.3 887.3 892.2 888.0 894.1 888.9 895.9 890.0 897.5 891.2 899.1 892.6 900.5 894.1 901.6 895.8 902.2 897.5 902.1 899.1 901.3 900.5 900.1 901.8 898.6 903.1 897.0 904.4 895.5 905.8 894.2 907.4 892.9 909.0 891.8 910.7 890.7 912.5 889.9 914.3 889.3 916.2 889.1 918.1 889.4 919.8 890.2 921.3 891.4 922.8 892.8 924.0 894.3 925.1 895.9 926.1 897.7 926.8 899.5 927.5 901.4 928.1 903.3 928.7 905.2 929.3 907.1 929.8 909.0 930.3 911.0 930.9 912.9 931.4 914.8 932.0 916.7 932.5 918.7 933.1 920.6 933.6 922.5 934.1 924.4 934.6 926.4 935.1 928.3 935.6 930.3 936.1 932.2 936.6 934.1 937.1 936.1 937.6 938.0 938.1 939.9 938.6 941.9 939.1 943.8 939.7 945.7 940.2 947.7 940.8 949.6 941.4 951.5 941.9 953.4 942.5 955.3 943.1 957.2 943.7 959.1 944.3 961.1 944.9 963.0 945.5 964.9 946.2 966.7 946.8 968.6 947.5 970.5 948.2 972.4 948.8 974.3 949.5 976.2 950.2 978.1 950.9 979.9 951.6 981.8 952.4 983.6 953.2 985.4 954.2 987.2 955.2 988.9 956.3 990.6 957.6 992.1 959.0 993.3 960.6 994.0 962.4 994.1 964.2 993.6 965.9 992.6 967.4 991.4 968.7 989.9 969.8 988.3 970.9 986.6 971.8 984.8 972.7 983.0 973.4 981.2 974.2 979.3 974.8 977.4 975.5 975.5 976.1 973.6 976.7 971.7 977.3 969.8 977.9 967.9 978.4 966.0 978.9 964.1 979.5 962.1 979.9 960.2 980.4 958.2 980.9 956.3 981.3 954.3 981.7 952.4 982.1 950.4 982.4 948.4 982.8 946.5 983.2 944.5 983.5 942.5 983.9 940.6 984.3 938.6 984.6 936.6 985.0 934.7 985.3 932.7 985.7 930.7 986.1 928.8 986.5 926.8 986.8 924.9 987.2 922.9 987.6 920.9 988.0 919.0 988.5 917.0 988.9 915.1 989.3 913.1 989.8 911.2 990.2 909.2 990.6 907.3 991.1 905.3 991.5 903.4 991.9 901.4 992.4 899.4 992.8 897.5 993.2 895.5 993.6 893.6 994.0 891.6 994.3 889.6 994.7 887.7 995.0 885.7 995.4 883.7 995.7 881.8 996.0 879.8 996.3 877.8 996.6 875.8 996.9 873.9 997.2 871.9 997.5 869.9 997.8 867.9 998.0 865.9 998.3 864.0 998.6 862.0 998.9 860.0 999.1 858.0 999.4 856.0 999.7 854.0 999.9 852.1 1000.2 850.1 1000.5 848.1 1000.7 846.1 1001.0 844.1 1001.3 842.2 1001.6 840.2 1001.8 838.2 1002.1 836.2 1002.4 834.2 1002.7 832.3 1003.0 830.3 1003.2 828.3 1003.5 826.3 1003.8 824.3 1004.1 822.3 1004.4 820.4 1004.6 818.4 1004.9 816.4 1005.2 814.4 1005.5 812.4 1005.8 810.5 1006.0 808.5 1006.3 806.5 1006.6 804.5 1006.9 802.5 1007.2 800.6 1007.5 798.6 1007.8 796.6 1008.1 794.6 1008.4 792.7 1008.7 790.7 1009.1 788.7 1009.4 786.7 1009.7 784.8 1010.0 782.8 1010.4 780.8 1010.7 778.9 1011.0 776.9 1011.4 774.9 1011.7 772.9 1012.1 771.0 1012.4 769.0 1012.8 767.0 1013.2 765.1 1013.5 763.1 1013.9 761.1 1014.3 759.2 1014.6 757.2 1015.0 755.2 1015.4 753.3 1015.8 751.3 1016.2 749.4 1016.6 747.4 1017.0 745.4 1017.4 743.5 1017.8 741.5 1018.2 739.6 1018.7 737.6 1019.1 735.7 1019.5 733.7 1020.0 731.8 1020.4 729.8 1020.9 727.9 1021.3 725.9 1021.8 724.0 1022.2 722.0 1022.7 720.1 1023.2 718.1 1023.7 716.2 1024.1 714.3 1024.6 712.3 1025.1 710.4 1025.6 708.4 1026.1 706.5 1026.6 704.6 1027.1 702.6 1027.6 700.7 1028.1 698.8 1028.6 696.8 1029.2 694.9 1029.7 693.0 1030.2 691.0 1030.7 689.1 1031.2 687.2 1031.7 685.2 1032.2 683.3 1032.7 681.4 1033.2 679.4 1033.7 677.5 1034.2 675.6 1034.7 673.6 1035.2 671.7 1035.8 669.7 1036.3 667.8 1036.8 665.9 1037.3 664.0 1037.9 662.0 1038.5 660.1 1039.0 658.2 1039.7 656.3 1040.3 654.4 1041.0 652.5 1041.8 650.7 1042.5 648.9 1043.4 647.0 1044.3 645.2 1045.2 643.5 1046.2 641.7 1047.3 640.1 1048.6 638.6 1050.1 637.3 1051.7 636.2 1053.4 635.3 1055.3 634.7 1057.1 634.5 1059.0 634.9 1060.7 635.7 1062.3 636.8 1063.9 638.1 1065.3 639.4 1066.8 640.8 1068.1 642.3 1069.4 643.8 1070.6 645.4 1071.8 647.1 1072.9 648.7 1074.0 650.4 1075.0 652.1 1076.0 653.8 1077.0 655.6 1077.9 657.3 1078.8 659.1 1079.7 660.9 1080.5 662.8 1081.3 664.6 1082.1 666.4 1082.9 668.2 1083.7 670.1 1084.5 671.9 1085.3 673.8 1086.0 675.6 1086.8 677.5 1087.5 679.3 1088.3 681.2 1089.0 683.0 1089.8 684.9 1090.5 686.8 1091.2 688.6 1091.9 690.5 1092.6 692.4 1093.3 694.3 1094.0 696.1 1094.7 698.0 1095.3 699.9 1096.0 701.8 1096.7 703.7 1097.3 705.6 1098.0 707.4 1098.6 709.3 1099.3 711.2 1099.9 713.1 1100.6 715.0 1101.2 716.9 1101.9 718.8 1102.5 720.7 1103.2 722.6 1103.8 724.5 1104.5 726.4 1105.1 728.3 1105.8 730.1 1106.4 732.0 1107.1 733.9 1107.7 735.8 1108.3 737.7 1109.0 739.6 1109.6 741.5 1110.2 743.4 1110.9 745.3 1111.5 747.2 1112.1 749.1 1112.8 751.0 1113.4 752.9 1114.0 754.8 1114.7 756.7 1115.3 758.6 1115.9 760.5 1116.5 762.4 1117.2 764.3 1117.8 766.2 1118.4 768.1 1119.0 770.0 1119.6 771.9 1120.3 773.8 1120.9 775.7 1121.5 777.6 1122.1 779.5 1122.8 781.4 1123.4 783.3 1124.0 785.2 1124.6 787.1 1125.3 789.0 1125.9 790.9 1126.5 792.8 1127.1 794.7 1127.8 796.6 1128.4 798.5 1129.0 800.4 1129.6 802.3 1130.2 804.2 1130.8 806.1 1131.4 808.0 1132.0 809.9 1132.6 811.8 1133.2 813.7 1133.8 815.7 1134.4 817.6 1135.0 819.5 1135.6 821.4 1136.2 823.3 1136.8 825.2 1137.3 827.1 1137.9 829.1 1138.5 831.0 1139.0 832.9 1139.6 834.8 1140.1 836.7 1140.7 838.7 1141.2 840.6 1141.7 842.5 1142.3 844.4 1142.8 846.4 1143.3 848.3 1143.9 850.2 1144.4 852.2 1144.9 854.1 1145.4 856.0 1146.0 857.9 1146.5 859.9 1147.0 861.8 1147.5 863.7 1148.1 865.7 1148.6 867.6 1149.1 869.5 1149.6 871.5 1150.1 873.4 1150.7 875.3 1151.2 877.3 1151.7 879.2 1152.3 881.1 1152.8 883.0 1153.3 885.0 1153.9 886.9 1154.4 888.8 1154.9 890.7 1155.5 892.7 1156.0 894.6 1156.6 896.5 1157.1 898.4 1157.6 900.4 1158.2 902.3 1158.7 904.2 1159.3 906.1 1159.8 908.1 1160.4 910.0 1160.9 911.9 1161.5 913.8 1162.0 915.8 1162.6 917.7 1163.1 919.6 1163.7 921.5 1164.2 923.5 1164.8 925.4 1165.3 927.3 1165.9 929.2 1166.4 931.1 1167.0 933.1 1167.5 935.0 1168.1 936.9 1168.7 938.8 1169.2 940.7 1169.8 942.7 1170.3 944.6 1170.9 946.5 1171.5 948.4 1172.0 950.3 1172.6 952.3 1173.2 954.2 1173.7 956.1 1174.3 958.0 1174.9 959.9 1175.4 961.8 1176.0 963.8 1176.6 965.7 1177.1 967.6 1177.7 969.5 1178.2 971.4 1178.8 973.4 1179.4 975.3 1179.9 977.2 1180.5 979.1 1181.0 981.0 1181.6 983.0 1182.2 984.9 1182.7 986.8 1183.3 988.7 1183.9 990.6 1184.4 992.6 1185.0 994.5 1185.6 996.4 1186.2 998.3 1186.7 1000.2 1187.3 1002.1 1187.9 1004.0 1188.5 1005.9 1189.2 1007.8 1189.8 1009.7 1190.4 1011.6 1191.0 1013.5 1191.7 1015.4 1192.3 1017.3 1193.0 1019.2 1193.7 1021.1 1194.4 1023.0 1195.1 1024.8 1195.8 1026.7 1196.5 1028.6 1197.2 1030.5 1197.9 1032.3 1198.6 1034.2 1199.3 1036.1 1200.1 1037.9 1200.8 1039.8 1201.5 1041.6 1202.3 1043.5 1203.1 1045.3 1203.8 1047.2 1204.6 1049.0 1205.4 1050.9 1206.1 1052.7 1206.9 1054.6 1207.8 1056.4 1208.6 1058.2 1209.4 1060.0 1210.2 1061.8 1211.1 1063.7 1212.0 1065.5 1212.8 1067.2 1213.7 1069.0 1214.6 1070.8 1215.6 1072.6 1216.5 1074.3 1217.5 1076.1 1218.5 1077.8 1219.5 1079.6 1220.5 1081.3 1221.5 1083.0 1222.5 1084.7 1223.5 1086.5 1224.6 1088.2 1225.6 1089.9 1226.7 1091.6 1227.7 1093.3 1228.9 1094.9 1230.0 1096.6 1231.1 1098.2 1232.3 1099.8 1233.6 1101.4 1234.8 1102.9 1236.2 1104.4 1237.6 1105.8 1239.1 1107.2 1240.6 1108.4 1242.2 1109.7 1243.8 1110.9 1245.4 1112.0 1247.1 1113.2 1248.7 1114.2 1250.5 1115.2 1252.2 1116.1 1254.1 1116.9 1256.0 1117.4 1257.9 1117.6 1259.8 1117.5 1261.6 1116.9 1263.3 1115.9 1264.8 1114.7 1266.2 1113.2 1267.4 1111.7 1268.6 1110.1 1269.7 1108.4 1270.8 1106.7 1271.8 1105.0 1272.8 1103.3 1273.8 1101.5 1274.8 1099.8 1275.7 1098.0 1276.7 1096.3 1277.6 1094.5 1278.5 1092.7 1279.5 1091.0 1280.4 1089.2 1281.3 1087.4 1282.1 1085.6 1283.0 1083.8 1283.7 1081.9 1284.5 1080.1 1285.2 1078.2 1285.9 1076.4 1286.6 1074.5 1287.3 1072.6 1288.0 1070.7 1288.6 1068.8 1289.2 1066.9 1289.9 1065.0 1290.5 1063.1 1291.1 1061.2 1291.7 1059.3 1292.2 1057.4 1292.8 1055.5 1293.4 1053.5 1294.0 1051.6 1294.5 1049.7 1295.1 1047.8 1295.6 1045.9 1296.2 1043.9 1296.7 1042.0 1297.2 1040.1 1297.8 1038.2 1298.3 1036.2 1298.8 1034.3 1299.4 1032.4 1299.9 1030.4 1300.4 1028.5 1300.9 1026.6 1301.4 1024.6 1301.9 1022.7 1302.3 1020.7 1302.8 1018.8 1303.2 1016.8 1303.7 1014.9 1304.1 1012.9 1304.5 1011.0 1304.9 1009.0 1305.3 1007.1 1305.8 1005.1 1306.2 1003.2 1306.6 1001.2 1307.0 999.2 1307.4 997.3 1307.8 995.3 1308.2 993.4 1308.6 991.4 1309.0 989.4 1309.3 987.5 1309.7 985.5 1310.1 983.6 1310.5 981.6 1310.9 979.6 1311.3 977.7 1311.7 975.7 1312.1 973.8 1312.5 971.8 1312.9 969.8 1313.3 967.9 1313.7 965.9 1314.1 964.0 1314.6 962.0 1315.0 960.1 1315.4 958.1 1315.8 956.1 1316.3 954.2 1316.7 952.2 1317.1 950.3 1317.5 948.3 1317.9 946.4 1318.4 944.4 1318.8 942.5 1319.2 940.5 1319.6 938.5 1320.1 936.6 1320.5 934.6 1320.9 932.7 1321.3 930.7 1321.8 928.8 1322.2 926.8 1322.7 924.9 1323.1 922.9 1323.6 921.0 1324.0 919.0 1324.5 917.1 1325.0 915.1 1325.5 913.2 1326.0 911.3 1326.5 909.4 1327.1 907.4 1327.6 905.5 1328.2 903.6 1328.7 901.7 1329.3 899.7 1329.8 897.8 1330.3 895.9 1330.8 893.9 1331.3 892.0 1331.7 890.1 1332.2 888.1 1332.6 886.1 1332.9 884.2 1333.3 882.2 1333.6 880.2 1334.0 878.3 1334.3 876.3 1334.6 874.3 1334.9 872.3 1335.2 870.4 1335.5 868.4 1335.8 866.4 1336.1 864.4 1336.3 862.4 1336.6 860.5 1336.9 858.5 1337.2 856.5 1337.5 854.5 1337.8 852.6 1338.1 850.6 1338.5 848.6 1338.8 846.6 1339.1 844.7 1339.5 842.7 1339.9 840.7 1340.3 838.8 1340.7 836.8 1341.1 834.8 1341.5 832.9 1341.9 830.9 1342.3 829.0 1342.7 827.0 1343.2 825.1 1343.6 823.1 1344.1 821.2 1344.5 819.2 1345.0 817.3 1345.5 815.3 1346.0 813.4 1346.5 811.5 1347.0 809.5 1347.5 807.6 1348.1 805.7 1348.7 803.8 1349.3 801.9 1350.0 800.0 1350.7 798.1 1351.4 796.2 1352.1 794.4 1352.8 792.5 1353.5 790.6 1354.2 788.8 1355.1 787.0 1356.0 785.3 1357.2 783.9 1358.5 783.2 1359.9 783.5 1361.1 784.6 1362.0 786.2 1362.7 788.1 1363.4 789.9 1363.9 791.9 1364.5 793.8 1365.0 795.7 1365.4 797.7 1365.9 799.6 1366.3 801.6 1366.6 803.6 1366.9 805.5 1367.1 807.5 1367.4 809.5 1367.6 811.5 1367.8 813.5 1368.0 815.5 1368.1 817.5 1368.3 819.5 1368.5 821.4 1368.7 823.4 1368.8 825.4 1369.0 827.4 1369.2 829.4 1369.3 831.4 1369.5 833.4 1369.6 835.4 1369.8 837.4 1369.9 839.4 1370.1 841.4 1370.2 843.4 1370.4 845.4 1370.5 847.4 1370.7 849.4 1370.8 851.4 1370.9 853.4 1371.0 855.4 1371.1 857.3 1371.3 859.3 1371.4 861.3 1371.5 863.3 1371.6 865.3 1371.7 867.3 1371.8 869.3 1371.9 871.3 1372.0 873.3 1372.2 875.3 1372.3 877.3 1372.4 879.3 1372.5 881.3 1372.6 883.3 1372.8 885.3 1372.9 887.3 1373.0 889.3 1373.2 891.3 1373.3 893.3 1373.4 895.3 1373.6 897.3 1373.7 899.3 1373.9 901.3 1374.0 903.3 1374.1 905.3 1374.3 907.2 1374.4 909.2 1374.6 911.2 1374.7 913.2 1374.9 915.2 1375.0 917.2 1375.2 919.2 1375.3 921.2 1375.5 923.2 1375.7 925.2 1375.8 927.2 1376.0 929.2 1376.1 931.2 1376.3 933.2 1376.4 935.2 1376.6 937.2 1376.8 939.2 1376.9 941.1 1377.1 943.1 1377.2 945.1 1377.4 947.1 1377.6 949.1 1377.7 951.1 1377.9 953.1 1378.0 955.1 1378.2 957.1 1378.4 959.1 1378.5 961.1 1378.7 963.1 1378.8 965.1 1379.0 967.1 1379.2 969.1 1379.3 971.0 1379.5 973.0 1379.6 975.0 1379.8 977.0 1379.9 979.0 1380.1 981.0 1380.2 983.0 1380.4 985.0 1380.5 987.0 1380.7 989.0 1380.8 991.0 1381.0 993.0 1381.1 995.0 1381.2 997.0 1381.4 999.0 1381.5 1001.0 1381.7 1003.0 1381.8 1005.0 1381.9 1007.0 1382.1 1008.9 1382.2 1010.9 1382.4 1012.9 1382.5 1014.9 1382.6 1016.9 1382.8 1018.9 1382.9 1020.9 1383.1 1022.9 1383.2 1024.9 1383.3 1026.9 1383.5 1028.9 1383.6 1030.9 1383.8 1032.9 1383.9 1034.9 1384.1 1036.9 1384.2 1038.9 1384.4 1040.9 1384.5 1042.9 1384.7 1044.9 1384.8 1046.8 1385.0 1048.8 1385.2 1050.8 1385.3 1052.8 1385.5 1054.8 1385.7 1056.8 1385.9 1058.8 1386.1 1060.8 1386.3 1062.8 1386.5 1064.8 1386.7 1066.8 1386.9 1068.8 1387.1 1070.7 1387.3 1072.7 1387.5 1074.7 1387.8 1076.7 1388.0 1078.7 1388.2 1080.7 1388.4 1082.7 1388.7 1084.7 1388.9 1086.6 1389.2 1088.6 1389.4 1090.6 1389.7 1092.6 1389.9 1094.6 1390.2 1096.6 1390.4 1098.5 1390.7 1100.5 1391.0 1102.5 1391.2 1104.5 1391.5 1106.5 1391.8 1108.4 1392.1 1110.4 1392.3 1112.4 1392.6 1114.4 1392.9 1116.4 1393.1 1118.4 1393.4 1120.3 1393.7 1122.3 1394.0 1124.3 1394.2 1126.3 1394.5 1128.3 1394.8 1130.2 1395.0 1132.2 1395.3 1134.2 1395.6 1136.2 1395.9 1138.2 1396.2 1140.1 1396.5 1142.1 1396.8 1144.1 1397.1 1146.1 1397.5 1148.0 1397.8 1150.0 1398.2 1152.0 1398.6 1153.9 1399.0 1155.9 1399.5 1157.8 1400.0 1159.8 1400.5 1161.7 1401.2 1163.6 1401.8 1165.5 1402.5 1167.4 1403.2 1169.2 1404.0 1171.1 1404.8 1172.9 1405.7 1174.6 1406.8 1176.3 1408.1 1177.8 1409.6 1179.1 1411.2 1180.2 1412.9 1181.2 1414.6 1182.3 1416.3 1183.4 1417.8 1184.6 1419.3 1186.0 1420.7 1187.4 1422.1 1188.8 1423.5 1190.3 1424.8 1191.8 1426.0 1193.4 1427.2 1195.0 1428.4 1196.6 1429.5 1198.3 1430.6 1199.9 1431.7 1201.6 1432.9 1203.2 1434.1 1204.8 1435.4 1206.3 1436.7 1207.8 1438.1 1209.3 1439.4 1210.7 1440.9 1212.1 1442.3 1213.5 1443.8 1214.9 1445.3 1216.2 1446.8 1217.5 1448.3 1218.9 1449.8 1220.2 1451.3 1221.5 1452.7 1222.9 1454.2 1224.2 1455.6 1225.6 1457.0 1227.0 1458.5 1228.4 1459.9 1229.9 1461.3 1231.3 1462.7 1232.7 1464.1 1234.1 1465.5 1235.6 1466.9 1237.0 1468.3 1238.4 1469.7 1239.9 1471.1 1241.3 1472.5 1242.7 1473.9 1244.1 1475.4 1245.5 1476.8 1246.8 1478.3 1248.2 1479.8 1249.6 1481.2 1250.9 1482.7 1252.3 1484.2 1253.6 1485.6 1255.0 1487.1 1256.3 1488.6 1257.7 1490.1 1259.0 1491.7 1260.3 1493.2 1261.5 1494.8 1262.8 1496.3 1264.0 1497.9 1265.2 1499.6 1266.4 1501.2 1267.5 1502.8 1268.7 1504.5 1269.8 1506.2 1270.9 1507.8 1272.0 1509.5 1273.1 1511.2 1274.1 1513.0 1275.1 1514.7 1276.1 1516.5 1277.0 1518.3 1277.8 1520.1 1278.6 1522.0 1279.4 1523.9 1280.1 1525.7 1280.8 1527.6 1281.5 1529.5 1282.3 1531.3 1282.9 1533.2 1283.6 1535.1 1284.2 1537.0 1284.8 1539.0 1285.3 1540.9 1285.8 1542.9 1286.2 1544.8 1286.5 1546.8 1286.8 1548.8 1286.9 1550.8 1287.0 1552.8 1287.0 1554.8 1287.0 1556.8 1286.9 1558.8 1286.9 1560.8 1286.8 1562.8 1286.8 1564.8 1286.7 1566.8 1286.6 1568.8 1286.6 1570.8 1286.5 1572.8 1286.4 1574.8 1286.3 1576.8 1286.2 1578.8 1286.1 1580.8 1285.9 1582.8 1285.8 1584.8 1285.6 1586.8 1285.5 1588.7 1285.3 1590.7 1285.0 1592.7 1284.7 1594.7 1284.5 1596.7 1284.1 1598.6 1283.8 1600.6 1283.4 1602.5 1282.9 1604.5 1282.5 1606.4 1282.0 1608.3 1281.4 1610.2 1280.8 1612.0 1280.0 1613.8 1279.0 1615.4 1277.9 1617.0 1276.6 1618.4 1275.3 1619.8 1273.9 1621.2 1272.4 1622.5 1270.9 1623.8 1269.4 1625.1 1267.8 1626.2 1266.2 1627.3 1264.5 1628.3 1262.8 1629.3 1261.1 1630.2 1259.3 1631.1 1257.5 1631.9 1255.7 1632.7 1253.8 1633.5 1252.0 1634.3 1250.2 1635.0 1248.3 1635.8 1246.4 1636.5 1244.6 1637.2 1242.7 1637.9 1240.8 1638.6 1239.0 1639.2 1237.1 1639.9 1235.2 1640.6 1233.3 1641.2 1231.4 1641.8 1229.5 1642.4 1227.6 1643.0 1225.7 1643.5 1223.7 1644.1 1221.8 1644.6 1219.9 1645.1 1218.0 1645.7 1216.0 1646.2 1214.1 1646.7 1212.2 1647.2 1210.2 1647.6 1208.3 1648.1 1206.3 1648.6 1204.4 1649.1 1202.5 1649.5 1200.5 1650.0 1198.6 1650.5 1196.6 1650.9 1194.7 1651.4 1192.7 1651.8 1190.8 1652.3 1188.8 1652.7 1186.9 1653.1 1184.9 1653.5 1183.0 1653.9 1181.0 1654.3 1179.0 1654.7 1177.1 1655.0 1175.1 1655.4 1173.1 1655.8 1171.2 1656.1 1169.2 1656.5 1167.2 1656.8 1165.3 1657.2 1163.3 1657.6 1161.3 1657.9 1159.4 1658.3 1157.4 1658.7 1155.4 1659.1 1153.5 1659.4 1151.5 1659.8 1149.6 1660.3 1147.6 1660.7 1145.6 1661.1 1143.7 1661.6 1141.7 1662.1 1139.8 1662.5 1137.9 1663.0 1135.9 1663.5 1134.0 1664.0 1132.0 1664.4 1130.1 1664.9 1128.1 1665.4 1126.2 1665.8 1124.3 1666.3 1122.3 1666.8 1120.4 1667.3 1118.4 1667.9 1116.5 1668.4 1114.6 1669.1 1112.7 1669.8 1110.8 1670.6 1109.1 1671.7 1107.8 1672.9 1107.3 1674.2 1107.8 1675.2 1109.1 1676.0 1110.8 1676.7 1112.7 1677.2 1114.6 1677.8 1116.5 1678.3 1118.5 1678.7 1120.4 1679.2 1122.4 1679.6 1124.3 1680.1 1126.3 1680.5 1128.2 1680.9 1130.2 1681.3 1132.1 1681.7 1134.1 1682.1 1136.0 1682.6 1138.0 1683.0 1140.0 1683.4 1141.9 1683.8 1143.9 1684.1 1145.9 1684.5 1147.8 1684.8 1149.8 1685.1 1151.8 1685.4 1153.7 1685.7 1155.7 1686.0 1157.7 1686.3 1159.7 1686.5 1161.7 1686.8 1163.6 1687.1 1165.6 1687.4 1167.6 1687.6 1169.6 1687.9 1171.6 1688.2 1173.6 1688.4 1175.5 1688.7 1177.5 1689.0 1179.5 1689.2 1181.5 1689.5 1183.5 1689.8 1185.4 1690.1 1187.4 1690.3 1189.4 1690.6 1191.4 1690.9 1193.4 1691.2 1195.3 1691.6 1197.3 1691.9 1199.3 1692.2 1201.3 1692.6 1203.2 1692.9 1205.2 1693.3 1207.2 1693.6 1209.1 1694.0 1211.1 1694.3 1213.1 1694.7 1215.0 1695.1 1217.0 1695.4 1219.0 1695.8 1220.9 1696.2 1222.9 1696.6 1224.9 1697.0 1226.8 1697.4 1228.8 1697.8 1230.7 1698.2 1232.7 1698.7 1234.6 1699.1 1236.6 1699.6 1238.5 1700.1 1240.5 1700.6 1242.4 1701.2 1244.3 1701.7 1246.2 1702.3 1248.2 1702.8 1250.1 1703.4 1252.0 1703.9 1253.9 1704.5 1255.8 1705.1 1257.7 1705.7 1259.6 1706.4 1261.5 1707.0 1263.4 1707.7 1265.3 1708.4 1267.2 1709.2 1269.0 1710.0 1270.9 1710.8 1272.7 1711.8 1274.4 1712.7 1276.2 1713.7 1277.9 1714.8 1279.6 1715.9 1281.3 1717.0 1282.9 1718.2 1284.6 1719.4 1286.2 1720.6 1287.7 1721.9 1289.3 1723.2 1290.7 1724.6 1292.2 1726.1 1293.6 1727.5 1294.9 1729.1 1296.2 1730.6 1297.4 1732.3 1298.6 1733.9 1299.7 1735.6 1300.8 1737.3 1301.9 1739.0 1302.9 1740.8 1303.8 1742.6 1304.7 1744.4 1305.6 1746.2 1306.4 1748.0 1307.2 1749.9 1307.9 1751.8 1308.6 1753.6 1309.3 1755.5 1310.0 1757.4 1310.6 1759.4 1311.2 1761.3 1311.7 1763.2 1312.3 1765.1 1312.8 1767.1 1313.3 1769.0 1313.7 1771.0 1314.2 1772.9 1314.6 1774.9 1315.1 1776.8 1315.5 1778.8 1315.9 1780.7 1316.2 1782.7 1316.6 1784.7 1317.0 1786.6 1317.4 1788.6 1317.7 1790.6 1318.1 1792.5 1318.5 1794.5 1318.9 1796.4 1319.3 1798.4 1319.7 1800.4 1320.1 1802.3 1320.5 1804.3 1320.9 1806.2 1321.3 1808.2 1321.7 1810.2 1322.0 1812.2 1322.4 1814.1 1322.7 1816.1 1323.0 1818.1 1323.4 1820.0 1323.7 1822.0 1324.0 1824.0 1324.3 1826.0 1324.6 1827.9 1324.9 1829.9 1325.2 1831.9 1325.5 1833.9 1325.8 1835.9 1326.0 1837.9 1326.3 1839.8 1326.5 1841.8 1326.8 1843.8 1327.0 1845.8 1327.2 1847.8 1327.4 1849.8 1327.6 1851.8 1327.8 1853.8 1328.0 1855.8 1328.1 1857.7 1328.3 1859.7 1328.5 1861.7 1328.7 1863.7 1328.8 1865.7 1329.0 1867.7 1329.1 1869.7 1329.3 1871.7 1329.4 1873.7 1329.6 1875.7 1329.7 1877.7 1329.8 1879.7 1330.0 1881.7 1330.1 1883.7 1330.2 1885.7 1330.4 1887.7 1330.5 1889.7 1330.6 1891.7 1330.8 1893.7 1330.9 1895.6 1331.0 1897.6 1331.1 1899.6 1331.3 1901.6 1331.4 1903.6 1331.5 1905.6 1331.6 1907.6 1331.7 1909.6 1331.8 1911.6 1331.9 1913.6 1332.1 1915.6 1332.2 1917.6 1332.3 1919.6 1332.4 1921.6 1332.5 1923.6 1332.6 1925.6 1332.6 1927.6 1332.7 1929.6 1332.8 1931.6 1332.9 1933.6 1333.0 1935.5 1333.1 1937.0 1333.1 1939.0 1333.1"/>
<path stroke="#3ea672" d="M289.0 1261.8L291.3 1261.6 293.0 1261.3 294.9 1261.0 296.9 1260.7 298.9 1260.3 300.8 1260.0 302.8 1259.7 304.8 1259.3 306.7 1259.0 308.7 1258.7 310.7 1258.3 312.7 1258.0 314.6 1257.6 316.6 1257.3 318.6 1257.0 320.5 1256.6 322.5 1256.3 324.5 1255.9 326.5 1255.6 328.4 1255.2 330.4 1254.9 332.4 1254.6 334.3 1254.2 336.3 1253.9 338.3 1253.5 340.2 1253.2 342.2 1252.8 344.2 1252.5 346.2 1252.1 348.1 1251.8 350.1 1251.4 352.1 1251.1 354.0 1250.7 356.0 1250.4 358.0 1250.0 359.9 1249.7 361.9 1249.3 363.9 1249.0 365.8 1248.6 367.8 1248.3 369.8 1247.9 371.7 1247.5 373.7 1247.2 375.7 1246.8 377.6 1246.5 379.6 1246.1 381.6 1245.8 383.6 1245.4 385.5 1245.0 387.5 1244.7 389.5 1244.3 391.4 1244.0 393.4 1243.6 395.4 1243.2 397.3 1242.9 399.3 1242.5 401.3 1242.1 403.2 1241.8 405.2 1241.4 407.2 1241.1 409.1 1240.7 411.1 1240.3 413.1 1240.0 415.0 1239.6 417.0 1239.3 419.0 1238.9 420.9 1238.6 422.9 1238.2 424.9 1237.9 426.8 1237.5 428.8 1237.2 430.8 1236.8 432.7 1236.4 434.7 1236.1 436.7 1235.7 438.7 1235.4 440.6 1235.0 442.6 1234.7 444.6 1234.3 446.5 1234.0 448.5 1233.6 450.5 1233.3 452.4 1232.9 454.4 1232.6 456.4 1232.2 458.3 1231.8 460.3 1231.5 462.3 1231.1 464.2 1230.7 466.2 1230.4 468.2 1230.0 470.1 1229.6 472.1 1229.3 474.1 1228.9 476.0 1228.5 478.0 1228.1 479.9 1227.7 481.9 1227.3 483.9 1226.9 485.8 1226.5 487.8 1226.1 489.7 1225.7 491.7 1225.3 493.7 1224.9 495.6 1224.5 497.6 1224.1 499.5 1223.7 501.5 1223.3 503.4 1222.8 505.4 1222.4 507.3 1222.0 509.3 1221.5 511.2 1221.1 513.2 1220.6 515.1 1220.2 517.1 1219.7 519.0 1219.2 521.0 1218.8 522.9 1218.3 524.9 1217.8 526.8 1217.3 528.7 1216.9 530.7 1216.4 532.6 1215.9 534.6 1215.4 536.5 1214.9 538.4 1214.4 540.4 1213.9 542.3 1213.4 544.3 1212.9 546.2 1212.4 548.1 1211.9 550.1 1211.4 552.0 1210.9 553.9 1210.4 555.8 1209.8 557.8 1209.3 559.7 1208.8 561.6 1208.2 563.6 1207.7 565.5 1207.1 567.4 1206.6 569.3 1206.0 571.2 1205.5 573.2 1204.9 575.1 1204.3 577.0 1203.8 578.9 1203.2 580.8 1202.6 582.7 1202.0 584.6 1201.4 586.5 1200.8 588.4 1200.2 590.3 1199.5 592.2 1198.9 594.1 1198.3 596.0 1197.6 597.9 1197.0 599.8 1196.3 601.7 1195.7 603.6 1195.0 605.5 1194.4 607.4 1193.7 609.2 1193.0 611.1 1192.3 613.0 1191.6 614.9 1190.9 616.7 1190.2 618.6 1189.4 620.4 1188.7 622.3 1188.0 624.2 1187.2 626.0 1186.5 627.9 1185.7 629.7 1184.9 631.5 1184.1 633.4 1183.4 635.2 1182.6 637.0 1181.8 638.9 1180.9 640.7 1180.1 642.5 1179.3 644.3 1178.4 646.1 1177.6 647.9 1176.7 649.7 1175.7 651.5 1174.8 653.2 1173.9 655.0 1172.9 656.7 1171.9 658.4 1170.9 660.2 1169.9 661.9 1168.9 663.6 1167.8 665.3 1166.7 666.9 1165.7 668.6 1164.6 670.3 1163.5 671.9 1162.3 673.6 1161.2 675.2 1160.1 676.9 1158.9 678.5 1157.7 680.1 1156.6 681.7 1155.4 683.3 1154.2 684.9 1153.0 686.5 1151.7 688.1 1150.5 689.6 1149.3 691.2 1148.0 692.8 1146.8 694.3 1145.5 695.8 1144.2 697.4 1142.9 698.9 1141.6 700.4 1140.3 701.9 1139.0 703.4 1137.7 704.9 1136.3 706.3 1135.0 707.8 1133.6 709.2 1132.1 710.5 1130.7 711.9 1129.2 713.3 1127.7 714.6 1126.3 715.9 1124.8 717.2 1123.2 718.5 1121.7 719.8 1120.2 721.1 1118.7 722.4 1117.1 723.6 1115.6 724.9 1114.0 726.1 1112.5 727.4 1110.9 728.6 1109.3 729.9 1107.8 731.1 1106.2 732.4 1104.6 733.6 1103.1 734.9 1101.5 736.1 1099.9 737.3 1098.4 738.5 1096.8 739.7 1095.2 740.9 1093.6 742.1 1091.9 743.3 1090.3 744.4 1088.7 745.6 1087.0 746.7 1085.4 747.9 1083.8 749.0 1082.1 750.1 1080.5 751.3 1078.8 752.4 1077.2 753.5 1075.5 754.6 1073.9 755.7 1072.2 756.8 1070.5 757.8 1068.8 758.8 1067.0 759.8 1065.3 760.7 1063.5 761.6 1061.7 762.5 1059.9 763.3 1058.1 764.0 1056.2 764.8 1054.4 765.5 1052.5 766.1 1050.6 766.8 1048.7 767.4 1046.8 768.1 1044.9 768.7 1043.0 769.3 1041.1 769.9 1039.2 770.5 1037.3 771.1 1035.4 771.8 1033.5 772.4 1031.6 773.0 1029.7 773.7 1027.8 774.3 1026.0 775.0 1024.1 775.7 1022.2 776.4 1020.3 777.1 1018.4 777.8 1016.6 778.5 1014.7 779.2 1012.8 779.9 1011.0 780.7 1009.1 781.4 1007.2 782.1 1005.4 782.8 1003.5 783.4 1001.6 784.1 999.7 784.8 997.8 785.4 995.9 786.1 994.1 786.7 992.2 787.4 990.3 788.0 988.4 788.6 986.5 789.2 984.6 789.8 982.6 790.4 980.7 790.9 978.8 791.5 976.9 792.0 975.0 792.5 973.0 793.0 971.1 793.5 969.1 793.9 967.2 794.4 965.2 794.8 963.3 795.2 961.3 795.6 959.4 796.1 957.4 796.5 955.5 796.9 953.5 797.3 951.5 797.7 949.6 798.1 947.6 798.5 945.7 798.8 943.7 799.2 941.7 799.6 939.8 800.0 937.8 800.3 935.8 800.7 933.9 801.1 931.9 801.4 929.9 801.8 928.0 802.1 926.0 802.5 924.0 802.8 922.1 803.1 920.1 803.5 918.1 803.8 916.1 804.1 914.2 804.4 912.2 804.8 910.2 805.1 908.2 805.4 906.3 805.7 904.3 805.9 902.3 806.2 900.3 806.5 898.4 806.8 896.4 807.1 894.4 807.4 892.4 807.6 890.4 807.9 888.5 808.2 886.5 808.5 884.5 808.8 882.5 809.0 880.5 809.3 878.6 809.6 876.6 809.9 874.6 810.2 872.6 810.5 870.6 810.8 868.7 811.2 866.7 811.5 864.7 811.9 862.8 812.2 860.8 812.6 858.8 813.0 856.9 813.4 854.9 813.9 853.0 814.3 851.0 814.8 849.1 815.2 847.1 815.7 845.2 816.1 843.2 816.6 841.3 817.0 839.3 817.5 837.4 817.9 835.4 818.3 833.5 818.7 831.5 819.1 829.5 819.5 827.6 819.9 825.6 820.3 823.7 820.7 821.7 821.1 819.7 821.5 817.8 821.8 815.8 822.2 813.8 822.6 811.9 823.0 809.9 823.4 808.0 823.8 806.0 824.2 804.0 824.6 802.1 825.0 800.1 825.4 798.2 825.8 796.2 826.2 794.2 826.6 792.3 827.0 790.3 827.4 788.4 827.8 786.4 828.2 784.5 828.6 782.5 829.1 780.5 829.5 778.6 829.9 776.6 830.4 774.7 830.8 772.7 831.3 770.8 831.8 768.9 832.3 766.9 832.8 765.0 833.3 763.1 833.8 761.1 834.3 759.2 834.9 757.3 835.4 755.3 835.9 753.4 836.4 751.5 837.0 749.5 837.5 747.6 838.1 745.7 838.7 743.8 839.3 741.9 839.9 740.0 840.5 738.1 841.2 736.2 841.8 734.3 842.6 732.4 843.3 730.6 844.2 728.8 845.0 727.0 846.0 725.2 846.9 723.4 847.9 721.7 848.9 720.0 850.1 718.5 851.5 717.3 853.1 716.8 854.8 717.0 856.5 717.9 858.0 719.1 859.3 720.6 860.6 722.1 861.7 723.8 862.7 725.5 863.5 727.3 864.2 729.1 864.9 731.0 865.5 732.9 866.0 734.9 866.6 736.8 867.1 738.7 867.6 740.7 868.1 742.6 868.6 744.5 869.1 746.5 869.6 748.4 870.1 750.3 870.6 752.3 871.1 754.2 871.5 756.2 872.0 758.1 872.4 760.1 872.9 762.0 873.3 764.0 873.8 765.9 874.2 767.9 874.6 769.8 875.0 771.8 875.5 773.7 875.9 775.7 876.3 777.6 876.8 779.6 877.2 781.5 877.6 783.5 878.1 785.4 878.6 787.4 879.0 789.3 879.4 791.3 879.9 793.2 880.3 795.2 880.7 797.1 881.2 799.1 881.6 801.0 882.1 803.0 882.5 804.9 883.0 806.9 883.5 808.8 884.0 810.8 884.6 812.7 885.2 814.6 885.8 816.5 886.5 818.3 887.3 820.2 888.0 822.1 888.8 823.9 889.6 825.7 890.5 827.5 891.4 829.2 892.6 830.8 894.0 831.8 895.6 832.2 897.3 831.8 898.9 830.8 900.4 829.5 901.8 828.1 903.2 826.7 904.7 825.3 906.1 823.9 907.5 822.5 909.0 821.2 910.6 820.1 912.3 819.2 914.2 818.7 916.2 818.4 918.1 818.4 919.8 818.9 921.4 819.9 922.7 821.3 923.8 823.0 924.8 824.7 925.7 826.5 926.6 828.3 927.4 830.1 928.2 831.9 928.9 833.8 929.5 835.7 930.1 837.6 930.6 839.5 931.1 841.5 931.6 843.4 932.1 845.3 932.6 847.3 933.1 849.2 933.6 851.2 934.1 853.1 934.5 855.0 935.0 857.0 935.4 858.9 935.9 860.9 936.3 862.8 936.7 864.8 937.1 866.8 937.5 868.7 937.9 870.7 938.3 872.6 938.6 874.6 939.0 876.6 939.4 878.5 939.8 880.5 940.2 882.5 940.6 884.4 941.0 886.4 941.4 888.3 941.8 890.3 942.3 892.2 942.7 894.2 943.2 896.1 943.7 898.1 944.1 900.0 944.6 902.0 945.0 903.9 945.5 905.9 946.0 907.8 946.5 909.7 947.0 911.7 947.6 913.6 948.1 915.5 948.7 917.4 949.4 919.3 950.1 921.2 950.8 923.0 951.6 924.9 952.3 926.7 953.1 928.6 953.9 930.4 954.7 932.3 955.6 934.0 956.5 935.8 957.7 937.3 959.0 938.5 960.5 939.0 961.9 938.5 963.2 937.3 964.2 935.7 965.1 933.9 965.9 932.1 966.7 930.2 967.4 928.4 968.2 926.5 968.9 924.6 969.5 922.7 970.1 920.8 970.7 918.9 971.2 917.0 971.7 915.0 972.2 913.1 972.7 911.2 973.2 909.2 973.7 907.3 974.2 905.4 974.7 903.4 975.1 901.5 975.6 899.5 976.1 897.6 976.6 895.6 977.1 893.7 977.5 891.8 978.0 889.8 978.5 887.9 978.9 885.9 979.4 884.0 979.8 882.0 980.3 880.1 980.7 878.1 981.2 876.2 981.6 874.2 982.0 872.3 982.5 870.3 982.9 868.4 983.4 866.4 983.8 864.5 984.2 862.5 984.7 860.6 985.1 858.6 985.5 856.7 985.9 854.7 986.4 852.7 986.8 850.8 987.2 848.8 987.6 846.9 988.0 844.9 988.4 843.0 988.8 841.0 989.2 839.0 989.6 837.1 990.0 835.1 990.3 833.1 990.7 831.2 991.1 829.2 991.4 827.2 991.8 825.3 992.1 823.3 992.5 821.3 992.8 819.4 993.2 817.4 993.5 815.4 993.8 813.5 994.2 811.5 994.5 809.5 994.8 807.5 995.1 805.6 995.4 803.6 995.7 801.6 996.1 799.6 996.4 797.7 996.7 795.7 997.0 793.7 997.3 791.7 997.6 789.7 997.9 787.8 998.2 785.8 998.4 783.8 998.7 781.8 999.0 779.9 999.3 777.9 999.6 775.9 999.8 773.9 1000.1 771.9 1000.4 769.9 1000.6 768.0 1000.9 766.0 1001.2 764.0 1001.4 762.0 1001.7 760.0 1001.9 758.0 1002.2 756.1 1002.4 754.1 1002.6 752.1 1002.9 750.1 1003.1 748.1 1003.3 746.1 1003.5 744.1 1003.8 742.2 1004.0 740.2 1004.2 738.2 1004.4 736.2 1004.6 734.2 1004.8 732.2 1005.0 730.2 1005.2 728.2 1005.4 726.2 1005.6 724.2 1005.8 722.3 1005.9 720.3 1006.1 718.3 1006.3 716.3 1006.5 714.3 1006.7 712.3 1006.9 710.3 1007.0 708.3 1007.2 706.3 1007.4 704.3 1007.6 702.3 1007.7 700.3 1007.9 698.4 1008.1 696.4 1008.3 694.4 1008.4 692.4 1008.6 690.4 1008.8 688.4 1009.0 686.4 1009.1 684.4 1009.3 682.4 1009.5 680.4 1009.7 678.4 1009.8 676.4 1010.0 674.4 1010.2 672.4 1010.3 670.5 1010.5 668.5 1010.7 666.5 1010.8 664.5 1011.0 662.5 1011.1 660.5 1011.3 658.5 1011.5 656.5 1011.6 654.5 1011.8 652.5 1011.9 650.5 1012.1 648.5 1012.3 646.5 1012.4 644.5 1012.6 642.5 1012.7 640.5 1012.9 638.6 1013.0 636.6 1013.2 634.6 1013.3 632.6 1013.5 630.6 1013.6 628.6 1013.7 626.6 1013.9 624.6 1014.0 622.6 1014.2 620.6 1014.3 618.6 1014.4 616.6 1014.6 614.6 1014.7 612.6 1014.8 610.6 1015.0 608.6 1015.1 606.6 1015.2 604.6 1015.3 602.6 1015.5 600.6 1015.6 598.6 1015.7 596.7 1015.8 594.7 1016.0 592.7 1016.1 590.7 1016.2 588.7 1016.3 586.7 1016.4 584.7 1016.6 582.7 1016.7 580.7 1016.8 578.7 1016.9 576.7 1017.1 574.7 1017.2 572.7 1017.3 570.7 1017.4 568.7 1017.6 566.7 1017.7 564.7 1017.8 562.7 1018.0 560.7 1018.1 558.7 1018.2 556.7 1018.3 554.7 1018.5 552.7 1018.6 550.7 1018.7 548.7 1018.9 546.8 1019.0 544.8 1019.1 542.8 1019.3 540.8 1019.4 538.8 1019.5 536.8 1019.6 534.8 1019.8 532.8 1019.9 530.8 1020.0 528.8 1020.2 526.8 1020.3 524.8 1020.5 522.8 1020.6 520.8 1020.7 518.8 1020.9 516.8 1021.0 514.8 1021.2 512.8 1021.3 510.8 1021.5 508.8 1021.6 506.8 1021.8 504.9 1021.9 502.9 1022.1 500.9 1022.3 498.9 1022.4 496.9 1022.6 494.9 1022.8 492.9 1023.0 490.9 1023.1 488.9 1023.3 486.9 1023.5 484.9 1023.7 482.9 1023.9 480.9 1024.0 479.0 1024.2 477.0 1024.4 475.0 1024.6 473.0 1024.8 471.0 1025.0 469.0 1025.2 467.0 1025.4 465.0 1025.6 463.0 1025.8 461.0 1026.0 459.1 1026.2 457.1 1026.5 455.1 1026.7 453.1 1026.9 451.1 1027.1 449.1 1027.4 447.1 1027.6 445.1 1027.9 443.2 1028.1 441.2 1028.4 439.2 1028.6 437.2 1028.9 435.2 1029.1 433.2 1029.4 431.3 1029.7 429.3 1030.0 427.3 1030.2 425.3 1030.5 423.3 1030.8 421.4 1031.1 419.4 1031.4 417.4 1031.7 415.4 1032.0 413.4 1032.3 411.5 1032.6 409.5 1032.9 407.5 1033.3 405.5 1033.6 403.6 1033.9 401.6 1034.3 399.6 1034.6 397.7 1035.0 395.7 1035.3 393.7 1035.7 391.8 1036.0 389.8 1036.4 387.8 1036.8 385.9 1037.1 383.9 1037.5 381.9 1037.8 380.0 1038.2 378.0 1038.6 376.0 1038.9 374.1 1039.3 372.1 1039.7 370.1 1040.0 368.2 1040.4 366.2 1040.8 364.2 1041.2 362.3 1041.6 360.3 1042.1 358.4 1042.5 356.4 1043.0 354.5 1043.5 352.5 1044.0 350.6 1044.6 348.7 1045.3 346.8 1046.1 345.0 1047.0 343.2 1047.9 341.4 1048.8 339.7 1049.8 337.9 1050.9 336.3 1052.1 334.7 1053.5 333.3 1055.0 332.2 1056.7 331.7 1058.4 332.0 1060.0 332.9 1061.4 334.2 1062.6 335.8 1063.7 337.4 1064.8 339.1 1065.8 340.9 1066.7 342.6 1067.6 344.4 1068.5 346.2 1069.3 348.0 1070.0 349.9 1070.7 351.8 1071.3 353.7 1071.9 355.6 1072.4 357.5 1073.0 359.4 1073.5 361.4 1074.0 363.3 1074.4 365.2 1074.9 367.2 1075.4 369.1 1075.8 371.1 1076.3 373.0 1076.7 375.0 1077.1 376.9 1077.6 378.9 1078.0 380.8 1078.4 382.8 1078.9 384.7 1079.3 386.7 1079.7 388.7 1080.1 390.6 1080.5 392.6 1080.9 394.5 1081.3 396.5 1081.7 398.5 1082.1 400.4 1082.5 402.4 1082.8 404.3 1083.2 406.3 1083.5 408.3 1083.9 410.3 1084.2 412.2 1084.6 414.2 1084.9 416.2 1085.2 418.1 1085.6 420.1 1085.9 422.1 1086.2 424.1 1086.5 426.0 1086.8 428.0 1087.1 430.0 1087.4 432.0 1087.8 433.9 1088.1 435.9 1088.4 437.9 1088.7 439.9 1089.0 441.8 1089.3 443.8 1089.6 445.8 1089.8 447.8 1090.1 449.8 1090.4 451.7 1090.7 453.7 1090.9 455.7 1091.2 457.7 1091.5 459.7 1091.7 461.7 1092.0 463.6 1092.2 465.6 1092.5 467.6 1092.7 469.6 1093.0 471.6 1093.2 473.6 1093.5 475.5 1093.7 477.5 1094.0 479.5 1094.2 481.5 1094.5 483.5 1094.7 485.5 1095.0 487.5 1095.3 489.4 1095.5 491.4 1095.8 493.4 1096.1 495.4 1096.3 497.4 1096.6 499.3 1096.9 501.3 1097.2 503.3 1097.5 505.3 1097.8 507.3 1098.1 509.2 1098.4 511.2 1098.7 513.2 1099.0 515.2 1099.3 517.1 1099.6 519.1 1099.9 521.1 1100.2 523.1 1100.5 525.0 1100.8 527.0 1101.1 529.0 1101.5 531.0 1101.8 532.9 1102.1 534.9 1102.4 536.9 1102.8 538.9 1103.1 540.8 1103.4 542.8 1103.8 544.8 1104.1 546.8 1104.4 548.7 1104.8 550.7 1105.1 552.7 1105.5 554.6 1105.8 556.6 1106.2 558.6 1106.5 560.5 1106.9 562.5 1107.3 564.5 1107.7 566.4 1108.0 568.4 1108.4 570.4 1108.8 572.3 1109.2 574.3 1109.6 576.2 1110.0 578.2 1110.4 580.2 1110.8 582.1 1111.2 584.1 1111.6 586.0 1112.0 588.0 1112.4 590.0 1112.8 591.9 1113.3 593.9 1113.7 595.8 1114.1 597.8 1114.5 599.7 1115.0 601.7 1115.4 603.6 1115.8 605.6 1116.3 607.5 1116.7 609.5 1117.2 611.4 1117.6 613.4 1118.0 615.3 1118.5 617.3 1118.9 619.2 1119.4 621.2 1119.8 623.1 1120.2 625.1 1120.7 627.0 1121.1 629.0 1121.6 630.9 1122.0 632.9 1122.5 634.8 1122.9 636.8 1123.4 638.7 1123.8 640.7 1124.3 642.6 1124.7 644.6 1125.2 646.5 1125.6 648.5 1126.1 650.4 1126.5 652.4 1127.0 654.3 1127.5 656.3 1127.9 658.2 1128.4 660.2 1128.9 662.1 1129.3 664.1 1129.8 666.0 1130.3 667.9 1130.7 669.9 1131.2 671.8 1131.7 673.8 1132.2 675.7 1132.6 677.7 1133.1 679.6 1133.6 681.5 1134.1 683.5 1134.6 685.4 1135.1 687.4 1135.5 689.3 1136.0 691.2 1136.5 693.2 1137.0 695.1 1137.5 697.0 1138.0 699.0 1138.5 700.9 1139.0 702.9 1139.6 704.8 1140.1 706.7 1140.6 708.6 1141.1 710.6 1141.6 712.5 1142.2 714.4 1142.7 716.4 1143.2 718.3 1143.8 720.2 1144.3 722.2 1144.8 724.1 1145.4 726.0 1145.9 727.9 1146.4 729.9 1147.0 731.8 1147.5 733.7 1148.1 735.6 1148.6 737.6 1149.1 739.5 1149.7 741.4 1150.2 743.3 1150.8 745.3 1151.3 747.2 1151.8 749.1 1152.4 751.0 1152.9 753.0 1153.4 754.9 1154.0 756.8 1154.5 758.8 1155.0 760.7 1155.6 762.6 1156.1 764.5 1156.6 766.5 1157.1 768.4 1157.6 770.3 1158.1 772.3 1158.6 774.2 1159.1 776.1 1159.6 778.1 1160.1 780.0 1160.6 782.0 1161.1 783.9 1161.6 785.8 1162.1 787.8 1162.6 789.7 1163.1 791.6 1163.6 793.6 1164.1 795.5 1164.6 797.5 1165.1 799.4 1165.6 801.3 1166.1 803.3 1166.6 805.2 1167.1 807.1 1167.6 809.1 1168.1 811.0 1168.6 813.0 1169.1 814.9 1169.6 816.8 1170.1 818.8 1170.6 820.7 1171.1 822.6 1171.6 824.6 1172.1 826.5 1172.7 828.4 1173.2 830.4 1173.7 832.3 1174.2 834.2 1174.8 836.1 1175.3 838.1 1175.9 840.0 1176.4 841.9 1176.9 843.8 1177.5 845.8 1178.0 847.7 1178.6 849.6 1179.2 851.5 1179.7 853.5 1180.3 855.4 1180.8 857.3 1181.4 859.2 1181.9 861.1 1182.5 863.1 1183.0 865.0 1183.5 866.9 1184.1 868.8 1184.6 870.8 1185.2 872.7 1185.7 874.6 1186.2 876.6 1186.7 878.5 1187.3 880.4 1187.8 882.3 1188.3 884.3 1188.8 886.2 1189.3 888.2 1189.8 890.1 1190.3 892.0 1190.7 894.0 1191.2 895.9 1191.7 897.9 1192.1 899.8 1192.6 901.8 1193.0 903.7 1193.5 905.7 1193.9 907.6 1194.4 909.6 1194.8 911.5 1195.2 913.5 1195.6 915.4 1196.1 917.4 1196.5 919.3 1196.9 921.3 1197.4 923.2 1197.8 925.2 1198.2 927.1 1198.6 929.1 1199.1 931.0 1199.5 933.0 1199.9 935.0 1200.3 936.9 1200.8 938.9 1201.2 940.8 1201.7 942.8 1202.1 944.7 1202.5 946.7 1203.0 948.6 1203.5 950.6 1203.9 952.5 1204.4 954.5 1204.9 956.4 1205.3 958.3 1205.8 960.3 1206.3 962.2 1206.8 964.2 1207.2 966.1 1207.7 968.1 1208.2 970.0 1208.6 971.9 1209.1 973.9 1209.6 975.8 1210.1 977.8 1210.5 979.7 1211.0 981.7 1211.5 983.6 1212.0 985.5 1212.5 987.5 1212.9 989.4 1213.4 991.4 1213.9 993.3 1214.4 995.2 1214.9 997.2 1215.5 999.1 1216.0 1001.0 1216.5 1003.0 1217.1 1004.9 1217.6 1006.8 1218.2 1008.7 1218.8 1010.6 1219.4 1012.5 1220.0 1014.4 1220.7 1016.3 1221.3 1018.2 1222.0 1020.1 1222.8 1021.9 1223.5 1023.8 1224.3 1025.7 1225.0 1027.5 1225.8 1029.3 1226.6 1031.2 1227.4 1033.0 1228.2 1034.8 1229.0 1036.7 1229.9 1038.5 1230.8 1040.3 1231.7 1042.1 1232.6 1043.8 1233.6 1045.6 1234.6 1047.3 1235.6 1049.0 1236.7 1050.7 1237.9 1052.3 1239.1 1053.9 1240.4 1055.4 1241.7 1056.9 1243.1 1058.4 1244.4 1059.8 1245.8 1061.2 1247.3 1062.6 1248.8 1063.9 1250.4 1065.2 1252.0 1066.2 1253.8 1067.0 1255.7 1067.5 1257.6 1067.5 1259.4 1067.1 1261.2 1066.3 1262.8 1065.1 1264.2 1063.8 1265.6 1062.3 1266.9 1060.8 1268.2 1059.3 1269.4 1057.7 1270.6 1056.1 1271.8 1054.5 1272.9 1052.8 1274.1 1051.2 1275.3 1049.6 1276.4 1048.0 1277.5 1046.3 1278.6 1044.6 1279.6 1042.9 1280.6 1041.1 1281.5 1039.4 1282.4 1037.6 1283.3 1035.8 1284.2 1034.0 1285.0 1032.2 1285.8 1030.3 1286.6 1028.5 1287.4 1026.7 1288.1 1024.8 1288.9 1022.9 1289.6 1021.1 1290.3 1019.2 1290.9 1017.3 1291.6 1015.4 1292.2 1013.5 1292.8 1011.6 1293.4 1009.7 1293.9 1007.8 1294.5 1005.9 1295.0 1003.9 1295.5 1002.0 1296.0 1000.1 1296.5 998.1 1297.0 996.2 1297.5 994.2 1298.0 992.3 1298.4 990.4 1298.9 988.4 1299.3 986.5 1299.8 984.5 1300.2 982.6 1300.7 980.6 1301.1 978.7 1301.5 976.7 1301.9 974.7 1302.4 972.8 1302.8 970.8 1303.2 968.9 1303.6 966.9 1304.0 965.0 1304.4 963.0 1304.8 961.0 1305.2 959.1 1305.5 957.1 1305.9 955.1 1306.2 953.2 1306.6 951.2 1306.9 949.2 1307.2 947.3 1307.6 945.3 1307.9 943.3 1308.2 941.3 1308.5 939.4 1308.8 937.4 1309.1 935.4 1309.4 933.4 1309.8 931.5 1310.1 929.5 1310.4 927.5 1310.7 925.5 1311.0 923.5 1311.3 921.6 1311.6 919.6 1311.9 917.6 1312.2 915.6 1312.6 913.7 1312.9 911.7 1313.2 909.7 1313.5 907.8 1313.9 905.8 1314.2 903.8 1314.5 901.8 1314.9 899.9 1315.2 897.9 1315.6 895.9 1315.9 894.0 1316.3 892.0 1316.6 890.0 1317.0 888.0 1317.3 886.1 1317.7 884.1 1318.0 882.1 1318.4 880.2 1318.7 878.2 1319.1 876.2 1319.4 874.3 1319.8 872.3 1320.1 870.3 1320.5 868.4 1320.8 866.4 1321.2 864.4 1321.6 862.5 1321.9 860.5 1322.3 858.5 1322.6 856.6 1323.0 854.6 1323.3 852.6 1323.7 850.6 1324.0 848.7 1324.4 846.7 1324.7 844.7 1325.0 842.8 1325.4 840.8 1325.7 838.8 1326.1 836.8 1326.4 834.9 1326.7 832.9 1327.1 830.9 1327.4 829.0 1327.8 827.0 1328.1 825.0 1328.5 823.1 1328.8 821.1 1329.2 819.1 1329.5 817.2 1329.9 815.2 1330.2 813.2 1330.6 811.2 1331.0 809.3 1331.3 807.3 1331.7 805.4 1332.1 803.4 1332.5 801.4 1332.9 799.5 1333.3 797.5 1333.7 795.6 1334.2 793.6 1334.6 791.7 1335.1 789.7 1335.5 787.8 1336.0 785.8 1336.5 783.9 1337.0 781.9 1337.5 780.0 1338.0 778.1 1338.5 776.1 1339.0 774.2 1339.5 772.3 1340.1 770.3 1340.6 768.4 1341.2 766.5 1341.8 764.6 1342.3 762.7 1343.0 760.8 1343.6 758.9 1344.2 757.0 1344.9 755.1 1345.6 753.2 1346.3 751.3 1347.0 749.5 1347.7 747.6 1348.5 745.8 1349.3 743.9 1350.1 742.1 1351.1 740.4 1352.0 738.6 1353.1 736.9 1354.3 735.3 1355.5 733.8 1356.9 732.6 1358.5 732.0 1360.0 732.3 1361.4 733.3 1362.5 734.8 1363.4 736.6 1364.2 738.4 1365.0 740.2 1365.6 742.2 1366.0 744.1 1366.4 746.0 1366.8 748.0 1367.1 750.0 1367.4 752.0 1367.7 753.9 1368.0 755.9 1368.3 757.9 1368.6 759.9 1368.8 761.9 1369.1 763.8 1369.4 765.8 1369.7 767.8 1370.0 769.8 1370.3 771.8 1370.6 773.7 1370.9 775.7 1371.2 777.7 1371.5 779.7 1371.8 781.6 1372.1 783.6 1372.3 785.6 1372.6 787.6 1372.8 789.6 1373.1 791.6 1373.3 793.5 1373.5 795.5 1373.7 797.5 1373.9 799.5 1374.1 801.5 1374.3 803.5 1374.5 805.5 1374.6 807.5 1374.7 809.5 1374.9 811.5 1375.0 813.5 1375.1 815.5 1375.2 817.5 1375.4 819.5 1375.5 821.5 1375.6 823.5 1375.7 825.4 1375.8 827.4 1375.9 829.4 1376.0 831.4 1376.1 833.4 1376.2 835.4 1376.3 837.4 1376.4 839.4 1376.5 841.4 1376.6 843.4 1376.7 845.4 1376.8 847.4 1376.9 849.4 1377.0 851.4 1377.1 853.4 1377.2 855.4 1377.3 857.4 1377.4 859.4 1377.5 861.4 1377.6 863.4 1377.7 865.4 1377.8 867.4 1377.9 869.4 1378.0 871.4 1378.1 873.4 1378.2 875.4 1378.3 877.4 1378.4 879.4 1378.5 881.4 1378.7 883.4 1378.8 885.4 1378.9 887.4 1379.0 889.4 1379.2 891.4 1379.3 893.4 1379.4 895.3 1379.5 897.3 1379.7 899.3 1379.8 901.3 1379.9 903.3 1380.1 905.3 1380.2 907.3 1380.4 909.3 1380.5 911.3 1380.7 913.3 1380.8 915.3 1380.9 917.3 1381.1 919.3 1381.2 921.3 1381.4 923.3 1381.5 925.3 1381.7 927.3 1381.8 929.3 1382.0 931.3 1382.1 933.3 1382.3 935.2 1382.4 937.2 1382.5 939.2 1382.7 941.2 1382.8 943.2 1383.0 945.2 1383.1 947.2 1383.3 949.2 1383.4 951.2 1383.5 953.2 1383.7 955.2 1383.8 957.2 1383.9 959.2 1384.1 961.2 1384.2 963.2 1384.3 965.2 1384.5 967.2 1384.6 969.2 1384.7 971.2 1384.8 973.2 1385.0 975.2 1385.1 977.2 1385.2 979.1 1385.3 981.1 1385.5 983.1 1385.6 985.1 1385.7 987.1 1385.8 989.1 1386.0 991.1 1386.1 993.1 1386.2 995.1 1386.3 997.1 1386.4 999.1 1386.6 1001.1 1386.7 1003.1 1386.8 1005.1 1386.9 1007.1 1387.0 1009.1 1387.2 1011.1 1387.3 1013.1 1387.4 1015.1 1387.5 1017.1 1387.7 1019.1 1387.8 1021.1 1387.9 1023.1 1388.0 1025.1 1388.2 1027.1 1388.3 1029.1 1388.4 1031.0 1388.5 1033.0 1388.7 1035.0 1388.8 1037.0 1388.9 1039.0 1389.1 1041.0 1389.2 1043.0 1389.3 1045.0 1389.5 1047.0 1389.6 1049.0 1389.7 1051.0 1389.9 1053.0 1390.0 1055.0 1390.1 1057.0 1390.2 1059.0 1390.4 1061.0 1390.5 1063.0 1390.6 1065.0 1390.8 1067.0 1390.9 1069.0 1391.0 1071.0 1391.2 1073.0 1391.3 1075.0 1391.5 1076.9 1391.6 1078.9 1391.8 1080.9 1391.9 1082.9 1392.1 1084.9 1392.2 1086.9 1392.4 1088.9 1392.6 1090.9 1392.8 1092.9 1393.0 1094.9 1393.2 1096.9 1393.4 1098.9 1393.7 1100.8 1393.9 1102.8 1394.1 1104.8 1394.4 1106.8 1394.6 1108.8 1394.9 1110.8 1395.1 1112.8 1395.4 1114.7 1395.7 1116.7 1396.0 1118.7 1396.3 1120.7 1396.6 1122.6 1396.9 1124.6 1397.3 1126.6 1397.6 1128.6 1398.0 1130.5 1398.4 1132.5 1398.9 1134.4 1399.4 1136.4 1399.9 1138.3 1400.5 1140.2 1401.2 1142.1 1401.9 1143.9 1402.6 1145.8 1403.3 1147.7 1404.1 1149.5 1404.7 1151.4 1405.4 1153.3 1406.0 1155.2 1406.5 1157.1 1407.1 1159.1 1407.6 1161.0 1408.2 1162.9 1408.8 1164.8 1409.5 1166.7 1410.3 1168.4 1411.5 1170.0 1412.9 1171.3 1414.6 1172.3 1416.4 1173.3 1418.1 1174.1 1419.9 1175.0 1421.7 1176.0 1423.4 1177.0 1425.1 1178.1 1426.8 1179.2 1428.3 1180.4 1429.8 1181.7 1431.3 1183.1 1432.7 1184.5 1433.9 1186.1 1435.2 1187.6 1436.3 1189.3 1437.4 1191.0 1438.4 1192.7 1439.4 1194.4 1440.4 1196.2 1441.4 1197.9 1442.3 1199.7 1443.3 1201.4 1444.3 1203.1 1445.3 1204.9 1446.4 1206.5 1447.5 1208.2 1448.7 1209.8 1449.9 1211.4 1451.1 1213.0 1452.4 1214.5 1453.7 1216.1 1455.0 1217.6 1456.3 1219.1 1457.6 1220.5 1459.0 1222.0 1460.4 1223.4 1461.8 1224.8 1463.3 1226.2 1464.7 1227.6 1466.2 1229.0 1467.7 1230.3 1469.2 1231.6 1470.7 1232.9 1472.3 1234.2 1473.8 1235.4 1475.4 1236.7 1476.9 1237.9 1478.5 1239.1 1480.1 1240.4 1481.7 1241.6 1483.3 1242.8 1484.9 1243.9 1486.5 1245.1 1488.2 1246.3 1489.8 1247.5 1491.4 1248.6 1493.0 1249.8 1494.7 1250.9 1496.3 1252.0 1498.0 1253.2 1499.7 1254.2 1501.4 1255.3 1503.1 1256.3 1504.8 1257.3 1506.6 1258.3 1508.3 1259.3 1510.1 1260.2 1511.9 1261.2 1513.6 1262.1 1515.4 1262.9 1517.3 1263.7 1519.2 1264.4 1521.1 1265.0 1523.0 1265.5 1524.9 1265.9 1526.9 1266.4 1528.8 1266.8 1530.8 1267.2 1532.8 1267.5 1534.7 1267.9 1536.7 1268.2 1538.7 1268.4 1540.7 1268.6 1542.7 1268.8 1544.7 1269.0 1546.7 1269.1 1548.7 1269.2 1550.7 1269.3 1552.7 1269.4 1554.7 1269.4 1556.7 1269.5 1558.7 1269.6 1560.7 1269.7 1562.7 1269.7 1564.7 1269.8 1566.7 1269.8 1568.7 1269.9 1570.7 1269.9 1572.7 1269.9 1574.7 1270.0 1576.7 1270.0 1578.7 1270.0 1580.7 1270.0 1582.7 1270.0 1584.7 1269.9 1586.7 1269.9 1588.7 1269.8 1590.7 1269.7 1592.7 1269.6 1594.7 1269.5 1596.6 1269.4 1598.6 1269.2 1600.6 1269.1 1602.6 1268.9 1604.6 1268.6 1606.6 1268.4 1608.6 1268.1 1610.5 1267.7 1612.4 1267.1 1614.1 1266.2 1615.8 1265.1 1617.4 1263.9 1618.9 1262.6 1620.3 1261.2 1621.7 1259.7 1623.0 1258.2 1624.3 1256.7 1625.6 1255.2 1626.8 1253.6 1627.9 1251.9 1628.9 1250.2 1629.9 1248.5 1630.8 1246.7 1631.7 1244.9 1632.6 1243.1 1633.4 1241.3 1634.2 1239.5 1635.0 1237.6 1635.8 1235.8 1636.6 1233.9 1637.3 1232.1 1638.0 1230.2 1638.7 1228.3 1639.4 1226.5 1640.1 1224.6 1640.8 1222.7 1641.4 1220.8 1642.1 1218.9 1642.7 1217.0 1643.2 1215.1 1643.8 1213.2 1644.4 1211.3 1644.9 1209.3 1645.4 1207.4 1645.9 1205.5 1646.4 1203.5 1646.9 1201.6 1647.4 1199.6 1647.9 1197.7 1648.4 1195.8 1648.8 1193.8 1649.3 1191.9 1649.7 1189.9 1650.2 1188.0 1650.6 1186.0 1651.1 1184.1 1651.5 1182.1 1652.0 1180.2 1652.4 1178.2 1652.8 1176.3 1653.2 1174.3 1653.5 1172.3 1653.9 1170.4 1654.2 1168.4 1654.6 1166.4 1654.9 1164.5 1655.3 1162.5 1655.6 1160.5 1655.9 1158.5 1656.2 1156.6 1656.6 1154.6 1656.9 1152.6 1657.2 1150.6 1657.5 1148.7 1657.9 1146.7 1658.2 1144.7 1658.5 1142.8 1658.9 1140.8 1659.2 1138.8 1659.6 1136.8 1659.9 1134.9 1660.3 1132.9 1660.7 1131.0 1661.1 1129.0 1661.5 1127.0 1662.0 1125.1 1662.4 1123.1 1662.9 1121.2 1663.4 1119.3 1663.8 1117.3 1664.3 1115.4 1664.7 1113.4 1665.2 1111.5 1665.6 1109.5 1666.1 1107.6 1666.6 1105.6 1667.1 1103.7 1667.6 1101.8 1668.1 1099.8 1668.7 1097.9 1669.3 1096.0 1670.1 1094.2 1671.0 1092.6 1672.1 1091.5 1673.4 1091.3 1674.7 1092.1 1675.7 1093.6 1676.5 1095.3 1677.2 1097.2 1677.8 1099.1 1678.4 1101.0 1678.9 1103.0 1679.4 1104.9 1679.9 1106.8 1680.4 1108.8 1680.8 1110.7 1681.3 1112.7 1681.7 1114.6 1682.2 1116.6 1682.6 1118.5 1683.1 1120.5 1683.5 1122.4 1683.9 1124.4 1684.2 1126.4 1684.6 1128.3 1684.9 1130.3 1685.2 1132.3 1685.4 1134.3 1685.7 1136.2 1686.0 1138.2 1686.3 1140.2 1686.5 1142.2 1686.8 1144.2 1687.0 1146.2 1687.3 1148.1 1687.5 1150.1 1687.8 1152.1 1688.0 1154.1 1688.2 1156.1 1688.5 1158.1 1688.7 1160.1 1689.0 1162.0 1689.2 1164.0 1689.4 1166.0 1689.7 1168.0 1689.9 1170.0 1690.2 1172.0 1690.5 1173.9 1690.7 1175.9 1691.0 1177.9 1691.3 1179.9 1691.5 1181.9 1691.8 1183.8 1692.1 1185.8 1692.4 1187.8 1692.7 1189.8 1693.0 1191.8 1693.3 1193.7 1693.6 1195.7 1693.9 1197.7 1694.3 1199.7 1694.6 1201.6 1694.9 1203.6 1695.2 1205.6 1695.5 1207.6 1695.8 1209.5 1696.1 1211.5 1696.5 1213.5 1696.8 1215.5 1697.1 1217.4 1697.5 1219.4 1697.8 1221.4 1698.2 1223.3 1698.6 1225.3 1699.0 1227.3 1699.4 1229.2 1699.8 1231.2 1700.3 1233.1 1700.7 1235.1 1701.2 1237.0 1701.7 1238.9 1702.2 1240.9 1702.7 1242.8 1703.2 1244.7 1703.8 1246.7 1704.3 1248.6 1704.8 1250.5 1705.4 1252.4 1706.0 1254.4 1706.6 1256.3 1707.2 1258.2 1707.9 1260.0 1708.6 1261.9 1709.3 1263.8 1710.0 1265.6 1710.8 1267.5 1711.7 1269.3 1712.6 1271.1 1713.5 1272.8 1714.5 1274.6 1715.5 1276.3 1716.6 1278.0 1717.7 1279.7 1718.8 1281.3 1719.9 1283.0 1721.1 1284.6 1722.4 1286.1 1723.7 1287.7 1725.0 1289.2 1726.4 1290.6 1727.8 1292.0 1729.3 1293.3 1730.8 1294.6 1732.4 1295.9 1734.0 1297.1 1735.6 1298.2 1737.3 1299.3 1739.0 1300.4 1740.7 1301.4 1742.4 1302.4 1744.2 1303.3 1746.0 1304.2 1747.8 1305.0 1749.6 1305.8 1751.5 1306.5 1753.4 1307.2 1755.3 1307.9 1757.2 1308.5 1759.1 1309.1 1761.0 1309.7 1762.9 1310.2 1764.9 1310.7 1766.8 1311.2 1768.7 1311.7 1770.7 1312.1 1772.6 1312.6 1774.6 1313.0 1776.6 1313.4 1778.5 1313.8 1780.5 1314.2 1782.4 1314.6 1784.4 1314.9 1786.4 1315.3 1788.3 1315.7 1790.3 1316.1 1792.3 1316.4 1794.2 1316.8 1796.2 1317.2 1798.1 1317.6 1800.1 1318.0 1802.1 1318.4 1804.0 1318.8 1806.0 1319.2 1808.0 1319.6 1809.9 1320.0 1811.9 1320.4 1813.8 1320.9 1815.8 1321.4 1817.7 1321.8 1819.6 1322.3 1821.6 1322.8 1823.5 1323.3 1825.4 1323.9 1827.4 1324.4 1829.3 1324.9 1831.2 1325.3 1833.2 1325.8 1835.1 1326.3 1837.1 1326.7 1839.0 1327.1 1841.0 1327.5 1843.0 1327.8 1845.0 1328.1 1846.9 1328.4 1848.9 1328.7 1850.9 1329.0 1852.9 1329.2 1854.9 1329.5 1856.8 1329.7 1858.8 1330.0 1860.8 1330.2 1862.8 1330.4 1864.8 1330.6 1866.8 1330.8 1868.8 1331.0 1870.8 1331.2 1872.8 1331.4 1874.8 1331.6 1876.7 1331.7 1878.7 1331.9 1880.7 1332.1 1882.7 1332.2 1884.7 1332.4 1886.7 1332.5 1888.7 1332.6 1890.7 1332.8 1892.7 1332.9 1894.7 1333.1 1896.7 1333.2 1898.7 1333.3 1900.7 1333.5 1902.7 1333.6 1904.7 1333.7 1906.7 1333.8 1908.7 1334.0 1910.7 1334.1 1912.7 1334.2 1914.7 1334.3 1916.7 1334.4 1918.7 1334.5 1920.7 1334.6 1922.7 1334.6 1924.7 1334.7 1926.6 1334.8 1928.6 1334.9 1930.6 1334.9 1932.6 1335.0 1934.6 1335.0 1936.3 1335.0 1939.0 1335.1"/>
<path stroke="#b482d6" d="M289.0 1279.8L291.3 1279.6 293.0 1279.3 294.9 1279.0 296.9 1278.7 298.9 1278.3 300.8 1278.0 302.8 1277.6 304.8 1277.3 306.7 1277.0 308.7 1276.6 310.7 1276.3 312.7 1276.0 314.6 1275.6 316.6 1275.3 318.6 1275.0 320.5 1274.6 322.5 1274.3 324.5 1274.0 326.5 1273.6 328.4 1273.3 330.4 1273.0 332.4 1272.6 334.3 1272.3 336.3 1272.0 338.3 1271.6 340.3 1271.3 342.2 1271.0 344.2 1270.6 346.2 1270.3 348.2 1270.0 350.1 1269.6 352.1 1269.3 354.1 1269.0 356.0 1268.6 358.0 1268.3 360.0 1268.0 362.0 1267.7 363.9 1267.3 365.9 1267.0 367.9 1266.7 369.9 1266.3 371.8 1266.0 373.8 1265.7 375.8 1265.4 377.7 1265.0 379.7 1264.7 381.7 1264.4 383.7 1264.0 385.6 1263.7 387.6 1263.4 389.6 1263.1 391.6 1262.7 393.5 1262.4 395.5 1262.1 397.5 1261.7 399.4 1261.4 401.4 1261.1 403.4 1260.8 405.4 1260.4 407.3 1260.1 409.3 1259.8 411.3 1259.5 413.3 1259.2 415.2 1258.8 417.2 1258.5 419.2 1258.2 421.2 1257.9 423.1 1257.6 425.1 1257.3 427.1 1256.9 429.1 1256.6 431.0 1256.3 433.0 1256.0 435.0 1255.7 437.0 1255.3 438.9 1255.0 440.9 1254.7 442.9 1254.4 444.9 1254.1 446.8 1253.7 448.8 1253.4 450.8 1253.1 452.7 1252.7 454.7 1252.4 456.7 1252.1 458.7 1251.7 460.6 1251.4 462.6 1251.1 464.6 1250.7 466.5 1250.4 468.5 1250.1 470.5 1249.7 472.5 1249.4 474.4 1249.1 476.4 1248.7 478.4 1248.4 480.4 1248.1 482.3 1247.7 484.3 1247.4 486.3 1247.1 488.2 1246.7 490.2 1246.4 492.2 1246.0 494.1 1245.7 496.1 1245.3 498.1 1245.0 500.0 1244.6 502.0 1244.2 504.0 1243.8 505.9 1243.5 507.9 1243.1 509.9 1242.7 511.8 1242.3 513.8 1241.9 515.7 1241.4 517.7 1241.0 519.6 1240.6 521.6 1240.1 523.5 1239.7 525.5 1239.2 527.4 1238.7 529.4 1238.2 531.3 1237.7 533.2 1237.2 535.2 1236.7 537.1 1236.2 539.0 1235.7 540.9 1235.1 542.9 1234.6 544.8 1234.0 546.7 1233.4 548.6 1232.9 550.5 1232.3 552.5 1231.7 554.4 1231.1 556.3 1230.5 558.2 1229.9 560.1 1229.3 562.0 1228.7 563.9 1228.0 565.8 1227.4 567.7 1226.8 569.6 1226.1 571.5 1225.5 573.3 1224.8 575.2 1224.2 577.1 1223.5 579.0 1222.8 580.9 1222.2 582.8 1221.5 584.7 1220.8 586.5 1220.1 588.4 1219.4 590.3 1218.7 592.1 1218.0 594.0 1217.2 595.9 1216.5 597.7 1215.8 599.6 1215.0 601.4 1214.3 603.3 1213.5 605.1 1212.7 606.9 1211.9 608.8 1211.1 610.6 1210.3 612.5 1209.5 614.3 1208.7 616.1 1207.9 617.9 1207.1 619.7 1206.2 621.6 1205.4 623.4 1204.6 625.2 1203.7 627.0 1202.9 628.8 1202.0 630.6 1201.1 632.4 1200.3 634.2 1199.4 636.0 1198.5 637.8 1197.6 639.6 1196.7 641.4 1195.8 643.1 1194.9 644.9 1194.0 646.7 1193.0 648.4 1192.1 650.2 1191.1 651.9 1190.1 653.7 1189.1 655.4 1188.1 657.1 1187.1 658.8 1186.1 660.6 1185.1 662.3 1184.1 664.0 1183.0 665.7 1182.0 667.4 1180.9 669.1 1179.8 670.8 1178.8 672.5 1177.7 674.1 1176.6 675.8 1175.5 677.5 1174.4 679.1 1173.3 680.8 1172.2 682.4 1171.0 684.1 1169.9 685.7 1168.7 687.3 1167.6 688.9 1166.4 690.6 1165.2 692.2 1164.1 693.8 1162.9 695.4 1161.7 697.1 1160.5 698.7 1159.4 700.3 1158.2 701.9 1157.1 703.6 1155.9 705.2 1154.8 706.9 1153.6 708.5 1152.5 710.2 1151.4 711.8 1150.2 713.4 1149.1 715.0 1147.9 716.6 1146.7 718.2 1145.4 719.8 1144.2 721.3 1142.9 722.8 1141.5 724.2 1140.2 725.7 1138.8 727.1 1137.4 728.6 1136.0 730.0 1134.6 731.3 1133.1 732.7 1131.7 734.0 1130.2 735.3 1128.7 736.6 1127.2 737.9 1125.6 739.1 1124.0 740.4 1122.5 741.6 1120.9 742.7 1119.2 743.8 1117.6 744.9 1115.9 746.0 1114.2 747.0 1112.5 748.1 1110.8 749.1 1109.1 750.1 1107.3 751.1 1105.6 752.1 1103.9 753.1 1102.1 754.1 1100.4 755.1 1098.7 756.0 1096.9 757.0 1095.2 758.0 1093.4 759.0 1091.7 759.9 1089.9 760.9 1088.2 761.8 1086.4 762.8 1084.6 763.7 1082.8 764.5 1081.1 765.4 1079.2 766.2 1077.4 767.1 1075.6 767.9 1073.8 768.7 1071.9 769.4 1070.1 770.2 1068.2 770.9 1066.4 771.7 1064.5 772.4 1062.7 773.1 1060.8 773.8 1058.9 774.5 1057.0 775.2 1055.2 775.9 1053.3 776.5 1051.4 777.2 1049.5 777.8 1047.6 778.4 1045.7 779.0 1043.8 779.6 1041.9 780.2 1040.0 780.7 1038.1 781.3 1036.1 781.9 1034.2 782.4 1032.3 782.9 1030.4 783.5 1028.4 784.0 1026.5 784.6 1024.6 785.1 1022.7 785.7 1020.7 786.2 1018.8 786.7 1016.9 787.3 1015.0 787.8 1013.0 788.4 1011.1 788.9 1009.2 789.5 1007.3 790.0 1005.3 790.6 1003.4 791.1 1001.5 791.7 999.6 792.2 997.6 792.7 995.7 793.3 993.8 793.8 991.9 794.3 989.9 794.8 988.0 795.3 986.1 795.8 984.1 796.3 982.2 796.8 980.2 797.3 978.3 797.8 976.4 798.3 974.4 798.8 972.5 799.2 970.5 799.7 968.6 800.2 966.7 800.6 964.7 801.0 962.8 801.5 960.8 801.9 958.8 802.3 956.9 802.8 954.9 803.2 953.0 803.6 951.0 804.0 949.1 804.4 947.1 804.8 945.1 805.1 943.2 805.5 941.2 805.9 939.2 806.3 937.3 806.6 935.3 807.0 933.4 807.4 931.4 807.7 929.4 808.1 927.5 808.4 925.5 808.8 923.5 809.1 921.5 809.4 919.6 809.8 917.6 810.1 915.6 810.4 913.6 810.7 911.7 811.0 909.7 811.3 907.7 811.6 905.7 812.0 903.8 812.3 901.8 812.6 899.8 812.9 897.8 813.2 895.9 813.5 893.9 813.8 891.9 814.2 889.9 814.5 888.0 814.8 886.0 815.2 884.0 815.5 882.1 815.9 880.1 816.3 878.1 816.6 876.2 817.0 874.2 817.4 872.2 817.8 870.3 818.1 868.3 818.5 866.3 818.9 864.4 819.3 862.4 819.7 860.4 820.0 858.5 820.4 856.5 820.7 854.5 821.1 852.6 821.4 850.6 821.7 848.6 822.0 846.7 822.4 844.7 822.7 842.7 823.0 840.7 823.3 838.8 823.6 836.8 823.9 834.8 824.2 832.8 824.5 830.8 824.8 828.9 825.1 826.9 825.4 824.9 825.7 822.9 826.0 821.0 826.3 819.0 826.7 817.0 827.0 815.0 827.3 813.1 827.7 811.1 828.0 809.1 828.4 807.2 828.7 805.2 829.1 803.2 829.5 801.3 829.8 799.3 830.2 797.3 830.5 795.4 830.9 793.4 831.2 791.4 831.6 789.4 831.9 787.5 832.2 785.5 832.6 783.5 832.9 781.6 833.2 779.6 833.6 777.6 833.9 775.6 834.2 773.7 834.5 771.7 834.8 769.7 835.1 767.7 835.4 765.8 835.7 763.8 836.0 761.8 836.3 759.8 836.6 757.8 836.9 755.9 837.2 753.9 837.5 751.9 837.7 749.9 838.0 747.9 838.3 746.0 838.5 744.0 838.8 742.0 839.1 740.0 839.3 738.0 839.6 736.1 839.9 734.1 840.1 732.1 840.4 730.1 840.7 728.1 841.0 726.1 841.2 724.2 841.5 722.2 841.8 720.2 842.1 718.2 842.4 716.2 842.7 714.3 843.0 712.3 843.3 710.3 843.6 708.3 843.9 706.4 844.2 704.4 844.5 702.4 844.8 700.4 845.1 698.4 845.4 696.5 845.7 694.5 846.0 692.5 846.3 690.5 846.6 688.6 846.9 686.6 847.2 684.6 847.5 682.6 847.8 680.7 848.2 678.7 848.5 676.7 848.9 674.8 849.3 672.8 849.7 670.8 850.1 668.9 850.5 666.9 851.0 665.0 851.5 663.0 852.0 661.1 852.5 659.2 853.0 657.2 853.6 655.3 854.2 653.4 854.9 651.6 855.8 650.1 856.9 649.3 858.2 649.6 859.4 650.7 860.4 652.3 861.3 654.0 862.1 655.9 862.8 657.7 863.5 659.6 864.1 661.5 864.7 663.4 865.2 665.4 865.6 667.3 866.1 669.3 866.5 671.2 866.9 673.2 867.3 675.1 867.7 677.1 868.1 679.0 868.5 681.0 868.8 683.0 869.2 684.9 869.5 686.9 869.9 688.9 870.2 690.9 870.5 692.8 870.8 694.8 871.1 696.8 871.4 698.8 871.7 700.8 871.9 702.7 872.2 704.7 872.5 706.7 872.8 708.7 873.1 710.7 873.3 712.6 873.6 714.6 873.9 716.6 874.2 718.6 874.4 720.6 874.7 722.5 875.0 724.5 875.3 726.5 875.6 728.5 875.9 730.5 876.2 732.4 876.5 734.4 876.8 736.4 877.1 738.4 877.3 740.3 877.6 742.3 877.9 744.3 878.2 746.3 878.5 748.3 878.8 750.2 879.0 752.2 879.3 754.2 879.6 756.2 879.9 758.2 880.2 760.1 880.5 762.1 880.8 764.1 881.1 766.1 881.4 768.0 881.7 770.0 882.1 772.0 882.4 774.0 882.7 775.9 883.1 777.9 883.4 779.9 883.7 781.9 884.1 783.8 884.4 785.8 884.8 787.8 885.1 789.7 885.4 791.7 885.8 793.7 886.2 795.6 886.5 797.6 886.9 799.6 887.3 801.5 887.7 803.5 888.1 805.5 888.5 807.4 889.0 809.3 889.6 811.3 890.2 813.2 890.8 815.1 891.5 817.0 892.2 818.8 893.0 820.7 893.9 822.4 895.0 823.7 896.3 824.3 897.7 824.0 898.9 822.8 900.0 821.2 900.9 819.4 901.7 817.6 902.5 815.8 903.2 813.9 904.0 812.1 904.8 810.2 905.6 808.4 906.4 806.6 907.2 804.7 907.9 802.9 908.7 801.0 909.5 799.2 910.3 797.4 911.2 795.6 912.2 793.9 913.2 792.2 914.4 790.5 915.6 789.1 917.1 788.1 918.8 787.7 920.5 788.1 922.2 789.0 923.7 790.3 925.0 791.7 926.3 793.3 927.4 794.9 928.3 796.7 929.1 798.5 929.7 800.4 930.3 802.3 930.8 804.2 931.2 806.2 931.6 808.1 932.1 810.1 932.5 812.1 932.8 814.0 933.2 816.0 933.6 817.9 934.0 819.9 934.4 821.9 934.8 823.8 935.2 825.8 935.5 827.8 935.9 829.7 936.2 831.7 936.6 833.7 936.9 835.6 937.2 837.6 937.6 839.6 937.9 841.6 938.2 843.5 938.5 845.5 938.8 847.5 939.1 849.5 939.4 851.4 939.8 853.4 940.1 855.4 940.4 857.4 940.7 859.3 941.1 861.3 941.5 863.3 941.9 865.2 942.2 867.2 942.7 869.1 943.1 871.1 943.5 873.1 943.9 875.0 944.2 877.0 944.6 878.9 944.9 880.9 945.3 882.9 945.6 884.9 945.9 886.8 946.2 888.8 946.5 890.8 946.7 892.8 947.0 894.8 947.3 896.7 947.5 898.7 947.8 900.7 948.1 902.7 948.3 904.7 948.6 906.7 948.9 908.6 949.1 910.6 949.4 912.6 949.7 914.6 950.0 916.6 950.3 918.5 950.6 920.5 950.9 922.5 951.3 924.5 951.6 926.4 951.9 928.4 952.3 930.4 952.6 932.3 953.0 934.3 953.3 936.3 953.7 938.2 954.1 940.2 954.5 942.2 955.0 944.1 955.5 946.0 956.0 948.0 956.7 949.9 957.3 951.7 958.1 953.6 958.9 955.4 959.9 956.8 961.1 957.7 962.4 957.5 963.5 956.4 964.4 954.7 965.2 952.9 965.9 951.1 966.6 949.2 967.2 947.3 967.8 945.4 968.5 943.5 969.1 941.6 969.6 939.7 970.1 937.7 970.6 935.8 971.1 933.8 971.5 931.9 972.0 929.9 972.4 928.0 972.9 926.0 973.3 924.1 973.7 922.1 974.2 920.2 974.6 918.2 975.0 916.3 975.5 914.3 975.9 912.4 976.4 910.4 976.9 908.5 977.3 906.6 977.8 904.6 978.3 902.7 978.8 900.7 979.3 898.8 979.8 896.9 980.3 894.9 980.7 893.0 981.2 891.0 981.6 889.1 982.0 887.1 982.4 885.1 982.8 883.2 983.2 881.2 983.5 879.3 983.8 877.3 984.2 875.3 984.4 873.3 984.7 871.3 985.0 869.4 985.3 867.4 985.5 865.4 985.8 863.4 986.0 861.4 986.3 859.4 986.5 857.5 986.7 855.5 987.0 853.5 987.2 851.5 987.5 849.5 987.7 847.5 987.9 845.5 988.2 843.6 988.4 841.6 988.7 839.6 988.9 837.6 989.2 835.6 989.4 833.6 989.6 831.6 989.9 829.7 990.1 827.7 990.3 825.7 990.6 823.7 990.8 821.7 991.0 819.7 991.2 817.7 991.5 815.8 991.7 813.8 991.9 811.8 992.1 809.8 992.3 807.8 992.5 805.8 992.6 803.8 992.8 801.8 993.0 799.8 993.2 797.8 993.3 795.8 993.5 793.8 993.6 791.9 993.8 789.9 993.9 787.9 994.1 785.9 994.2 783.9 994.3 781.9 994.4 779.9 994.6 777.9 994.7 775.9 994.8 773.9 994.9 771.9 995.1 769.9 995.2 767.9 995.3 765.9 995.4 763.9 995.6 761.9 995.7 759.9 995.8 757.9 995.9 755.9 996.1 753.9 996.2 751.9 996.3 749.9 996.5 747.9 996.6 745.9 996.8 744.0 996.9 742.0 997.1 740.0 997.3 738.0 997.5 736.0 997.7 734.0 997.8 732.0 998.0 730.0 998.2 728.0 998.4 726.0 998.7 724.0 998.9 722.1 999.1 720.1 999.3 718.1 999.5 716.1 999.8 714.1 1000.0 712.1 1000.2 710.1 1000.5 708.1 1000.7 706.2 1001.0 704.2 1001.2 702.2 1001.4 700.2 1001.7 698.2 1001.9 696.2 1002.1 694.2 1002.3 692.3 1002.5 690.3 1002.8 688.3 1003.0 686.3 1003.2 684.3 1003.4 682.3 1003.6 680.3 1003.8 678.3 1004.0 676.3 1004.2 674.3 1004.4 672.4 1004.5 670.4 1004.7 668.4 1004.9 666.4 1005.1 664.4 1005.3 662.4 1005.5 660.4 1005.7 658.4 1005.9 656.4 1006.1 654.4 1006.2 652.4 1006.4 650.5 1006.6 648.5 1006.8 646.5 1007.0 644.5 1007.2 642.5 1007.4 640.5 1007.5 638.5 1007.7 636.5 1007.9 634.5 1008.1 632.5 1008.3 630.5 1008.5 628.6 1008.7 626.6 1008.9 624.6 1009.0 622.6 1009.2 620.6 1009.4 618.6 1009.6 616.6 1009.8 614.6 1010.0 612.6 1010.2 610.6 1010.4 608.6 1010.6 606.7 1010.8 604.7 1011.0 602.7 1011.2 600.7 1011.3 598.7 1011.5 596.7 1011.7 594.7 1011.9 592.7 1012.1 590.7 1012.3 588.7 1012.5 586.7 1012.7 584.8 1012.9 582.8 1013.1 580.8 1013.3 578.8 1013.4 576.8 1013.6 574.8 1013.8 572.8 1014.0 570.8 1014.2 568.8 1014.4 566.8 1014.6 564.8 1014.7 562.8 1014.9 560.9 1015.1 558.9 1015.3 556.9 1015.5 554.9 1015.6 552.9 1015.8 550.9 1016.0 548.9 1016.1 546.9 1016.3 544.9 1016.5 542.9 1016.6 540.9 1016.8 538.9 1017.0 536.9 1017.1 535.0 1017.3 533.0 1017.4 531.0 1017.6 529.0 1017.8 527.0 1017.9 525.0 1018.1 523.0 1018.3 521.0 1018.4 519.0 1018.6 517.0 1018.8 515.0 1019.0 513.0 1019.1 511.0 1019.3 509.0 1019.5 507.1 1019.7 505.1 1019.9 503.1 1020.1 501.1 1020.3 499.1 1020.5 497.1 1020.7 495.1 1020.9 493.1 1021.1 491.1 1021.3 489.1 1021.6 487.2 1021.8 485.2 1022.0 483.2 1022.2 481.2 1022.5 479.2 1022.7 477.2 1022.9 475.2 1023.2 473.3 1023.4 471.3 1023.6 469.3 1023.9 467.3 1024.1 465.3 1024.4 463.3 1024.6 461.3 1024.8 459.4 1025.1 457.4 1025.3 455.4 1025.6 453.4 1025.8 451.4 1026.1 449.4 1026.3 447.4 1026.6 445.5 1026.8 443.5 1027.1 441.5 1027.3 439.5 1027.6 437.5 1027.8 435.5 1028.0 433.6 1028.3 431.6 1028.5 429.6 1028.8 427.6 1029.0 425.6 1029.3 423.6 1029.5 421.6 1029.8 419.7 1030.0 417.7 1030.3 415.7 1030.5 413.7 1030.8 411.7 1031.1 409.7 1031.3 407.8 1031.6 405.8 1031.8 403.8 1032.1 401.8 1032.4 399.8 1032.6 397.8 1032.9 395.9 1033.2 393.9 1033.4 391.9 1033.7 389.9 1034.0 387.9 1034.3 386.0 1034.6 384.0 1034.9 382.0 1035.1 380.0 1035.4 378.0 1035.7 376.1 1036.0 374.1 1036.3 372.1 1036.6 370.1 1036.9 368.1 1037.2 366.2 1037.5 364.2 1037.7 362.2 1038.0 360.2 1038.3 358.3 1038.6 356.3 1038.9 354.3 1039.2 352.3 1039.5 350.3 1039.8 348.4 1040.1 346.4 1040.5 344.4 1040.8 342.4 1041.1 340.5 1041.4 338.5 1041.8 336.5 1042.1 334.6 1042.5 332.6 1042.9 330.6 1043.3 328.7 1043.7 326.7 1044.1 324.8 1044.6 322.8 1045.0 320.9 1045.6 318.9 1046.1 317.0 1046.6 315.1 1047.1 313.1 1047.6 311.2 1048.1 309.3 1048.7 307.3 1049.2 305.4 1049.8 303.5 1050.3 301.6 1050.9 299.7 1051.6 297.8 1052.3 295.9 1053.1 294.1 1054.0 292.4 1055.1 290.9 1056.5 290.1 1058.1 290.1 1059.5 291.0 1060.7 292.4 1061.8 294.1 1062.7 295.9 1063.5 297.7 1064.2 299.5 1064.9 301.4 1065.6 303.3 1066.2 305.2 1066.9 307.1 1067.5 309.0 1068.1 310.9 1068.6 312.8 1069.2 314.7 1069.8 316.7 1070.3 318.6 1070.8 320.5 1071.3 322.4 1071.8 324.4 1072.2 326.3 1072.6 328.3 1072.9 330.3 1073.3 332.2 1073.6 334.2 1073.9 336.2 1074.2 338.2 1074.5 340.2 1074.8 342.1 1075.0 344.1 1075.3 346.1 1075.6 348.1 1075.9 350.1 1076.1 352.0 1076.4 354.0 1076.6 356.0 1076.9 358.0 1077.1 360.0 1077.4 362.0 1077.7 363.9 1077.9 365.9 1078.2 367.9 1078.4 369.9 1078.7 371.9 1079.0 373.9 1079.3 375.8 1079.5 377.8 1079.8 379.8 1080.1 381.8 1080.4 383.8 1080.7 385.7 1081.0 387.7 1081.3 389.7 1081.6 391.7 1081.9 393.6 1082.2 395.6 1082.5 397.6 1082.8 399.6 1083.1 401.6 1083.4 403.5 1083.7 405.5 1084.0 407.5 1084.3 409.5 1084.6 411.4 1084.9 413.4 1085.1 415.4 1085.4 417.4 1085.7 419.4 1086.0 421.3 1086.3 423.3 1086.6 425.3 1086.9 427.3 1087.2 429.3 1087.5 431.2 1087.8 433.2 1088.0 435.2 1088.3 437.2 1088.6 439.2 1088.9 441.1 1089.2 443.1 1089.4 445.1 1089.7 447.1 1090.0 449.1 1090.2 451.0 1090.5 453.0 1090.8 455.0 1091.0 457.0 1091.3 459.0 1091.5 461.0 1091.8 462.9 1092.0 464.9 1092.3 466.9 1092.6 468.9 1092.8 470.9 1093.1 472.9 1093.3 474.8 1093.6 476.8 1093.8 478.8 1094.1 480.8 1094.3 482.8 1094.6 484.8 1094.9 486.7 1095.1 488.7 1095.4 490.7 1095.7 492.7 1096.0 494.7 1096.2 496.6 1096.5 498.6 1096.8 500.6 1097.1 502.6 1097.4 504.6 1097.7 506.5 1098.0 508.5 1098.3 510.5 1098.6 512.5 1098.9 514.5 1099.2 516.4 1099.5 518.4 1099.8 520.4 1100.1 522.4 1100.4 524.3 1100.7 526.3 1101.0 528.3 1101.4 530.3 1101.7 532.2 1102.0 534.2 1102.3 536.2 1102.6 538.2 1103.0 540.1 1103.3 542.1 1103.6 544.1 1104.0 546.0 1104.3 548.0 1104.7 550.0 1105.0 552.0 1105.3 553.9 1105.7 555.9 1106.1 557.9 1106.4 559.8 1106.8 561.8 1107.1 563.8 1107.5 565.7 1107.9 567.7 1108.3 569.7 1108.7 571.6 1109.0 573.6 1109.4 575.5 1109.8 577.5 1110.2 579.5 1110.6 581.4 1111.0 583.4 1111.4 585.3 1111.9 587.3 1112.3 589.2 1112.7 591.2 1113.1 593.2 1113.5 595.1 1114.0 597.1 1114.4 599.0 1114.8 601.0 1115.3 602.9 1115.7 604.9 1116.1 606.8 1116.6 608.8 1117.0 610.7 1117.4 612.7 1117.9 614.6 1118.3 616.6 1118.8 618.5 1119.2 620.5 1119.6 622.4 1120.1 624.4 1120.5 626.3 1121.0 628.3 1121.4 630.2 1121.9 632.2 1122.3 634.1 1122.8 636.1 1123.2 638.0 1123.7 640.0 1124.1 641.9 1124.6 643.9 1125.0 645.8 1125.5 647.8 1125.9 649.7 1126.4 651.7 1126.8 653.6 1127.3 655.6 1127.8 657.5 1128.2 659.5 1128.7 661.4 1129.2 663.3 1129.6 665.3 1130.1 667.2 1130.6 669.2 1131.0 671.1 1131.5 673.1 1132.0 675.0 1132.5 677.0 1132.9 678.9 1133.4 680.8 1133.9 682.8 1134.4 684.7 1134.9 686.7 1135.4 688.6 1135.9 690.5 1136.4 692.5 1136.9 694.4 1137.3 696.3 1137.8 698.3 1138.4 700.2 1138.9 702.2 1139.4 704.1 1139.9 706.0 1140.4 707.9 1140.9 709.9 1141.4 711.8 1142.0 713.7 1142.5 715.7 1143.0 717.6 1143.6 719.5 1144.1 721.5 1144.6 723.4 1145.2 725.3 1145.7 727.2 1146.2 729.2 1146.8 731.1 1147.3 733.0 1147.9 734.9 1148.4 736.9 1148.9 738.8 1149.5 740.7 1150.0 742.6 1150.6 744.6 1151.1 746.5 1151.6 748.4 1152.2 750.3 1152.7 752.3 1153.3 754.2 1153.8 756.1 1154.3 758.1 1154.8 760.0 1155.4 761.9 1155.9 763.8 1156.4 765.8 1156.9 767.7 1157.4 769.6 1157.9 771.6 1158.5 773.5 1159.0 775.4 1159.5 777.4 1160.0 779.3 1160.5 781.3 1161.0 783.2 1161.5 785.1 1162.0 787.1 1162.4 789.0 1162.9 790.9 1163.4 792.9 1163.9 794.8 1164.4 796.8 1164.9 798.7 1165.4 800.6 1165.9 802.6 1166.4 804.5 1166.9 806.4 1167.4 808.4 1167.9 810.3 1168.4 812.3 1168.9 814.2 1169.4 816.1 1169.9 818.1 1170.4 820.0 1170.9 821.9 1171.4 823.9 1171.9 825.8 1172.5 827.7 1173.0 829.7 1173.5 831.6 1174.0 833.5 1174.6 835.4 1175.1 837.4 1175.7 839.3 1176.2 841.2 1176.8 843.1 1177.3 845.1 1177.8 847.0 1178.4 848.9 1179.0 850.8 1179.5 852.8 1180.1 854.7 1180.6 856.6 1181.2 858.5 1181.7 860.4 1182.3 862.4 1182.8 864.3 1183.3 866.2 1183.9 868.1 1184.4 870.1 1185.0 872.0 1185.5 873.9 1186.0 875.9 1186.5 877.8 1187.1 879.7 1187.6 881.6 1188.1 883.6 1188.6 885.5 1189.1 887.5 1189.6 889.4 1190.1 891.3 1190.6 893.3 1191.0 895.2 1191.5 897.2 1192.0 899.1 1192.4 901.1 1192.9 903.0 1193.3 904.9 1193.8 906.9 1194.2 908.9 1194.6 910.8 1195.1 912.8 1195.5 914.7 1195.9 916.7 1196.4 918.6 1196.8 920.6 1197.2 922.5 1197.7 924.5 1198.1 926.4 1198.5 928.4 1198.9 930.3 1199.4 932.3 1199.8 934.2 1200.2 936.2 1200.7 938.1 1201.1 940.1 1201.5 942.1 1202.0 944.0 1202.4 946.0 1202.9 947.9 1203.3 949.9 1203.8 951.8 1204.2 953.7 1204.7 955.7 1205.2 957.6 1205.6 959.6 1206.1 961.5 1206.6 963.5 1207.0 965.4 1207.5 967.4 1207.9 969.3 1208.4 971.3 1208.9 973.2 1209.3 975.1 1209.8 977.1 1210.2 979.0 1210.7 981.0 1211.2 982.9 1211.6 984.9 1212.1 986.8 1212.6 988.8 1213.0 990.7 1213.5 992.7 1214.0 994.6 1214.5 996.5 1215.0 998.5 1215.5 1000.4 1216.0 1002.3 1216.5 1004.3 1217.0 1006.2 1217.5 1008.1 1218.1 1010.1 1218.7 1012.0 1219.3 1013.9 1219.9 1015.8 1220.5 1017.7 1221.1 1019.6 1221.8 1021.5 1222.5 1023.3 1223.3 1025.2 1224.0 1027.0 1224.8 1028.9 1225.5 1030.7 1226.3 1032.6 1227.2 1034.4 1228.0 1036.2 1228.8 1038.0 1229.7 1039.8 1230.6 1041.6 1231.5 1043.4 1232.4 1045.2 1233.3 1047.0 1234.3 1048.7 1235.3 1050.4 1236.3 1052.2 1237.3 1053.9 1238.4 1055.6 1239.5 1057.3 1240.6 1058.9 1241.7 1060.6 1242.8 1062.2 1243.9 1063.9 1245.0 1065.6 1246.1 1067.2 1247.3 1068.9 1248.4 1070.5 1249.6 1072.1 1250.8 1073.7 1252.2 1075.1 1253.7 1076.3 1255.4 1077.1 1257.2 1077.4 1259.0 1077.1 1260.7 1076.2 1262.2 1074.9 1263.6 1073.5 1264.8 1072.0 1266.0 1070.3 1267.1 1068.7 1268.1 1067.0 1269.2 1065.3 1270.2 1063.5 1271.2 1061.8 1272.1 1060.0 1273.1 1058.3 1274.1 1056.6 1275.1 1054.8 1276.0 1053.1 1276.9 1051.3 1277.8 1049.5 1278.7 1047.7 1279.5 1045.8 1280.2 1044.0 1281.0 1042.1 1281.7 1040.3 1282.4 1038.4 1283.1 1036.5 1283.8 1034.7 1284.5 1032.8 1285.1 1030.9 1285.8 1029.0 1286.4 1027.1 1287.1 1025.2 1287.7 1023.3 1288.3 1021.4 1288.9 1019.5 1289.5 1017.6 1290.1 1015.7 1290.7 1013.8 1291.3 1011.8 1291.8 1009.9 1292.4 1008.0 1292.9 1006.1 1293.4 1004.1 1294.0 1002.2 1294.5 1000.3 1295.0 998.3 1295.5 996.4 1295.9 994.5 1296.4 992.5 1296.9 990.6 1297.4 988.6 1297.8 986.7 1298.3 984.7 1298.7 982.8 1299.2 980.8 1299.6 978.9 1300.0 976.9 1300.5 975.0 1300.9 973.0 1301.3 971.1 1301.7 969.1 1302.1 967.2 1302.5 965.2 1302.9 963.2 1303.3 961.3 1303.7 959.3 1304.1 957.4 1304.5 955.4 1304.9 953.4 1305.2 951.5 1305.6 949.5 1306.0 947.5 1306.3 945.6 1306.7 943.6 1307.0 941.6 1307.3 939.6 1307.7 937.7 1308.0 935.7 1308.3 933.7 1308.6 931.8 1308.9 929.8 1309.3 927.8 1309.6 925.8 1309.9 923.9 1310.2 921.9 1310.5 919.9 1310.8 917.9 1311.1 915.9 1311.4 914.0 1311.7 912.0 1312.0 910.0 1312.3 908.0 1312.6 906.1 1312.8 904.1 1313.1 902.1 1313.4 900.1 1313.7 898.1 1314.0 896.2 1314.3 894.2 1314.5 892.2 1314.8 890.2 1315.1 888.2 1315.4 886.3 1315.7 884.3 1315.9 882.3 1316.2 880.3 1316.5 878.3 1316.7 876.3 1317.0 874.4 1317.2 872.4 1317.5 870.4 1317.7 868.4 1318.0 866.4 1318.2 864.4 1318.5 862.5 1318.7 860.5 1319.0 858.5 1319.2 856.5 1319.5 854.5 1319.7 852.5 1319.9 850.5 1320.2 848.6 1320.4 846.6 1320.7 844.6 1320.9 842.6 1321.1 840.6 1321.4 838.6 1321.6 836.6 1321.8 834.7 1322.1 832.7 1322.3 830.7 1322.5 828.7 1322.8 826.7 1323.0 824.7 1323.2 822.7 1323.5 820.8 1323.7 818.8 1324.0 816.8 1324.2 814.8 1324.4 812.8 1324.7 810.8 1324.9 808.8 1325.2 806.9 1325.4 804.9 1325.6 802.9 1325.9 800.9 1326.1 798.9 1326.4 796.9 1326.6 794.9 1326.9 793.0 1327.1 791.0 1327.4 789.0 1327.6 787.0 1327.9 785.0 1328.1 783.0 1328.4 781.1 1328.6 779.1 1328.8 777.1 1329.1 775.1 1329.3 773.1 1329.6 771.1 1329.8 769.1 1330.1 767.2 1330.3 765.2 1330.6 763.2 1330.8 761.2 1331.1 759.2 1331.3 757.2 1331.6 755.2 1331.8 753.3 1332.0 751.3 1332.3 749.3 1332.5 747.3 1332.8 745.3 1333.0 743.3 1333.3 741.4 1333.5 739.4 1333.8 737.4 1334.0 735.4 1334.3 733.4 1334.5 731.4 1334.8 729.5 1335.0 727.5 1335.3 725.5 1335.5 723.5 1335.8 721.5 1336.0 719.5 1336.3 717.5 1336.5 715.6 1336.8 713.6 1337.0 711.6 1337.3 709.6 1337.5 707.6 1337.8 705.6 1338.0 703.7 1338.3 701.7 1338.5 699.7 1338.8 697.7 1339.1 695.7 1339.3 693.7 1339.6 691.8 1339.8 689.8 1340.1 687.8 1340.3 685.8 1340.6 683.8 1340.8 681.8 1341.1 679.8 1341.3 677.9 1341.6 675.9 1341.8 673.9 1342.0 671.9 1342.3 669.9 1342.6 667.9 1342.8 666.0 1343.1 664.0 1343.3 662.0 1343.6 660.0 1343.8 658.0 1344.1 656.0 1344.3 654.1 1344.6 652.1 1344.8 650.1 1345.1 648.1 1345.3 646.1 1345.6 644.1 1345.9 642.2 1346.1 640.2 1346.4 638.2 1346.6 636.2 1346.9 634.2 1347.2 632.2 1347.4 630.3 1347.7 628.3 1348.0 626.3 1348.3 624.3 1348.5 622.3 1348.8 620.3 1349.1 618.4 1349.4 616.4 1349.7 614.4 1349.9 612.4 1350.2 610.4 1350.5 608.5 1350.8 606.5 1351.0 604.5 1351.3 602.5 1351.5 600.5 1351.8 598.6 1352.0 596.6 1352.3 594.6 1352.5 592.6 1352.8 590.6 1353.0 588.6 1353.2 586.6 1353.5 584.7 1353.7 582.7 1354.0 580.7 1354.2 578.7 1354.5 576.7 1354.7 574.7 1355.0 572.7 1355.2 570.8 1355.5 568.8 1355.8 566.8 1356.1 564.8 1356.4 562.8 1356.7 560.9 1357.1 558.9 1357.5 556.9 1357.9 555.0 1358.5 553.2 1359.3 551.9 1360.3 551.5 1361.4 552.1 1362.2 553.6 1362.9 555.4 1363.5 557.3 1363.9 559.3 1364.4 561.2 1364.8 563.2 1365.1 565.1 1365.5 567.1 1365.8 569.1 1366.1 571.1 1366.4 573.0 1366.7 575.0 1367.0 577.0 1367.2 579.0 1367.5 581.0 1367.8 582.9 1368.0 584.9 1368.3 586.9 1368.5 588.9 1368.7 590.9 1369.0 592.9 1369.2 594.9 1369.4 596.8 1369.6 598.8 1369.8 600.8 1370.1 602.8 1370.3 604.8 1370.5 606.8 1370.7 608.8 1370.9 610.8 1371.0 612.8 1371.2 614.8 1371.4 616.7 1371.5 618.7 1371.6 620.7 1371.7 622.7 1371.8 624.7 1371.9 626.7 1372.0 628.7 1372.1 630.7 1372.2 632.7 1372.3 634.7 1372.4 636.7 1372.5 638.7 1372.5 640.7 1372.6 642.7 1372.7 644.7 1372.8 646.7 1372.9 648.7 1372.9 650.7 1373.0 652.7 1373.1 654.7 1373.2 656.7 1373.2 658.7 1373.3 660.7 1373.4 662.7 1373.4 664.7 1373.5 666.7 1373.6 668.7 1373.7 670.7 1373.7 672.7 1373.8 674.7 1373.9 676.7 1374.0 678.7 1374.0 680.7 1374.1 682.7 1374.2 684.7 1374.3 686.7 1374.3 688.7 1374.4 690.7 1374.5 692.7 1374.6 694.7 1374.7 696.7 1374.8 698.7 1374.8 700.7 1374.9 702.7 1375.0 704.7 1375.1 706.7 1375.2 708.7 1375.3 710.7 1375.4 712.7 1375.5 714.7 1375.6 716.7 1375.7 718.7 1375.8 720.6 1375.9 722.6 1376.0 724.6 1376.1 726.6 1376.2 728.6 1376.3 730.6 1376.4 732.6 1376.6 734.6 1376.7 736.6 1376.8 738.6 1376.9 740.6 1377.0 742.6 1377.1 744.6 1377.2 746.6 1377.3 748.6 1377.4 750.6 1377.5 752.6 1377.6 754.6 1377.7 756.6 1377.8 758.6 1378.0 760.6 1378.1 762.6 1378.2 764.6 1378.3 766.6 1378.4 768.6 1378.5 770.6 1378.6 772.6 1378.7 774.6 1378.8 776.6 1378.9 778.6 1379.0 780.6 1379.1 782.6 1379.2 784.6 1379.3 786.6 1379.4 788.6 1379.5 790.5 1379.6 792.5 1379.7 794.5 1379.8 796.5 1379.9 798.5 1380.0 800.5 1380.1 802.5 1380.2 804.5 1380.3 806.5 1380.4 808.5 1380.5 810.5 1380.6 812.5 1380.7 814.5 1380.8 816.5 1380.8 818.5 1380.9 820.5 1381.0 822.5 1381.1 824.5 1381.2 826.5 1381.3 828.5 1381.3 830.5 1381.4 832.5 1381.5 834.5 1381.6 836.5 1381.7 838.5 1381.8 840.5 1381.8 842.5 1381.9 844.5 1382.0 846.5 1382.1 848.5 1382.2 850.5 1382.3 852.5 1382.3 854.5 1382.4 856.5 1382.5 858.5 1382.6 860.5 1382.7 862.5 1382.8 864.5 1382.9 866.5 1383.0 868.5 1383.1 870.5 1383.1 872.5 1383.2 874.5 1383.3 876.5 1383.4 878.5 1383.5 880.5 1383.6 882.5 1383.8 884.5 1383.9 886.5 1384.0 888.4 1384.1 890.4 1384.2 892.4 1384.3 894.4 1384.4 896.4 1384.6 898.4 1384.7 900.4 1384.8 902.4 1384.9 904.4 1385.1 906.4 1385.2 908.4 1385.3 910.4 1385.5 912.4 1385.6 914.4 1385.7 916.4 1385.9 918.4 1386.0 920.4 1386.2 922.4 1386.3 924.4 1386.4 926.4 1386.6 928.4 1386.7 930.4 1386.9 932.3 1387.0 934.3 1387.2 936.3 1387.4 938.3 1387.5 940.3 1387.7 942.3 1387.8 944.3 1388.0 946.3 1388.2 948.3 1388.3 950.3 1388.5 952.3 1388.7 954.3 1388.9 956.3 1389.0 958.3 1389.2 960.3 1389.4 962.2 1389.6 964.2 1389.7 966.2 1389.9 968.2 1390.1 970.2 1390.3 972.2 1390.5 974.2 1390.7 976.2 1390.9 978.2 1391.1 980.2 1391.2 982.2 1391.4 984.1 1391.6 986.1 1391.8 988.1 1392.1 990.1 1392.3 992.1 1392.5 994.1 1392.7 996.1 1392.9 998.1 1393.1 1000.1 1393.3 1002.0 1393.6 1004.0 1393.8 1006.0 1394.0 1008.0 1394.3 1010.0 1394.5 1012.0 1394.8 1014.0 1395.0 1016.0 1395.3 1017.9 1395.5 1019.9 1395.8 1021.9 1396.0 1023.9 1396.3 1025.9 1396.6 1027.8 1396.9 1029.8 1397.2 1031.8 1397.5 1033.8 1397.8 1035.8 1398.1 1037.7 1398.4 1039.7 1398.7 1041.7 1399.0 1043.7 1399.3 1045.6 1399.6 1047.6 1399.9 1049.6 1400.2 1051.6 1400.5 1053.5 1400.8 1055.5 1401.1 1057.5 1401.4 1059.5 1401.7 1061.5 1402.1 1063.4 1402.4 1065.4 1402.7 1067.4 1403.0 1069.4 1403.3 1071.3 1403.6 1073.3 1403.9 1075.3 1404.2 1077.3 1404.5 1079.2 1404.9 1081.2 1405.2 1083.2 1405.5 1085.2 1405.8 1087.1 1406.2 1089.1 1406.5 1091.1 1406.8 1093.0 1407.2 1095.0 1407.5 1097.0 1407.9 1099.0 1408.2 1100.9 1408.6 1102.9 1409.0 1104.9 1409.3 1106.8 1409.7 1108.8 1410.0 1110.8 1410.4 1112.7 1410.7 1114.7 1411.1 1116.7 1411.4 1118.6 1411.8 1120.6 1412.3 1122.5 1412.9 1124.2 1413.8 1125.4 1415.0 1125.7 1416.4 1125.0 1417.7 1123.7 1418.9 1122.2 1420.1 1120.6 1421.3 1119.0 1422.5 1117.4 1423.9 1115.9 1425.2 1114.4 1426.6 1113.0 1428.0 1111.8 1429.7 1111.0 1431.4 1110.8 1433.0 1111.4 1434.4 1112.6 1435.6 1114.2 1436.7 1115.8 1437.7 1117.6 1438.6 1119.3 1439.5 1121.1 1440.4 1122.9 1441.2 1124.7 1442.0 1126.6 1442.6 1128.5 1443.2 1130.4 1443.8 1132.3 1444.3 1134.2 1444.9 1136.2 1445.4 1138.1 1446.0 1140.0 1446.6 1141.9 1447.2 1143.8 1447.9 1145.7 1448.8 1147.5 1449.6 1149.3 1450.6 1151.0 1451.5 1152.8 1452.5 1154.5 1453.6 1156.2 1454.7 1157.9 1455.9 1159.4 1457.2 1161.0 1458.6 1162.5 1460.0 1163.9 1461.5 1165.2 1463.0 1166.4 1464.6 1167.6 1466.3 1168.8 1467.9 1169.9 1469.5 1171.1 1471.1 1172.3 1472.6 1173.6 1474.2 1174.9 1475.6 1176.3 1477.1 1177.6 1478.6 1179.0 1480.0 1180.3 1481.5 1181.7 1482.9 1183.1 1484.4 1184.4 1485.9 1185.7 1487.5 1187.0 1489.1 1188.2 1490.6 1189.5 1492.1 1190.8 1493.4 1192.3 1494.7 1193.8 1495.7 1195.5 1496.6 1197.3 1497.3 1199.2 1498.0 1201.0 1498.6 1202.9 1499.2 1204.8 1499.8 1206.8 1500.3 1208.7 1500.9 1210.6 1501.4 1212.5 1501.8 1214.5 1502.3 1216.4 1502.7 1218.4 1503.1 1220.3 1503.5 1222.3 1503.9 1224.3 1504.3 1226.2 1504.8 1228.2 1505.2 1230.1 1505.8 1232.0 1506.4 1233.9 1507.0 1235.8 1507.7 1237.7 1508.5 1239.6 1509.3 1241.4 1510.1 1243.2 1511.0 1245.0 1511.9 1246.8 1512.9 1248.5 1513.9 1250.2 1515.0 1251.9 1516.1 1253.6 1517.2 1255.3 1518.3 1256.9 1519.5 1258.5 1520.8 1260.0 1522.2 1261.4 1523.8 1262.6 1525.5 1263.6 1527.3 1264.5 1529.1 1265.3 1530.9 1266.1 1532.8 1266.7 1534.7 1267.3 1536.7 1267.8 1538.6 1268.2 1540.6 1268.6 1542.6 1268.9 1544.5 1269.2 1546.5 1269.4 1548.5 1269.6 1550.5 1269.8 1552.5 1270.0 1554.5 1270.2 1556.5 1270.3 1558.5 1270.5 1560.5 1270.6 1562.5 1270.7 1564.5 1270.8 1566.5 1270.9 1568.5 1270.9 1570.5 1271.0 1572.5 1271.0 1574.5 1271.0 1576.5 1271.0 1578.5 1270.9 1580.5 1270.9 1582.5 1270.8 1584.5 1270.7 1586.5 1270.6 1588.5 1270.5 1590.5 1270.3 1592.4 1270.2 1594.4 1270.0 1596.4 1269.8 1598.4 1269.6 1600.4 1269.4 1602.4 1269.1 1604.4 1268.8 1606.3 1268.6 1608.3 1268.2 1610.2 1267.7 1612.1 1267.0 1613.8 1266.0 1615.3 1264.8 1616.8 1263.5 1618.2 1262.1 1619.6 1260.6 1620.9 1259.2 1622.3 1257.6 1623.5 1256.1 1624.7 1254.5 1625.9 1252.9 1627.0 1251.2 1628.1 1249.5 1629.1 1247.8 1630.1 1246.1 1631.0 1244.3 1631.9 1242.5 1632.7 1240.7 1633.6 1238.9 1634.4 1237.1 1635.1 1235.2 1635.8 1233.3 1636.5 1231.4 1637.1 1229.6 1637.7 1227.6 1638.3 1225.7 1638.9 1223.8 1639.5 1221.9 1640.0 1220.0 1640.5 1218.0 1641.0 1216.1 1641.5 1214.2 1642.0 1212.2 1642.5 1210.3 1643.0 1208.3 1643.4 1206.4 1643.9 1204.5 1644.4 1202.5 1644.8 1200.6 1645.2 1198.6 1645.7 1196.7 1646.1 1194.7 1646.5 1192.8 1647.0 1190.8 1647.4 1188.8 1647.8 1186.9 1648.2 1184.9 1648.6 1183.0 1649.0 1181.0 1649.4 1179.0 1649.8 1177.1 1650.1 1175.1 1650.5 1173.1 1650.9 1171.2 1651.2 1169.2 1651.5 1167.2 1651.9 1165.3 1652.2 1163.3 1652.5 1161.3 1652.9 1159.3 1653.2 1157.4 1653.5 1155.4 1653.8 1153.4 1654.1 1151.4 1654.4 1149.5 1654.7 1147.5 1655.0 1145.5 1655.3 1143.5 1655.6 1141.6 1655.8 1139.6 1656.1 1137.6 1656.4 1135.6 1656.7 1133.6 1657.0 1131.7 1657.2 1129.7 1657.5 1127.7 1657.8 1125.7 1658.0 1123.7 1658.3 1121.7 1658.5 1119.8 1658.8 1117.8 1659.0 1115.8 1659.2 1113.8 1659.5 1111.8 1659.7 1109.8 1659.9 1107.8 1660.1 1105.8 1660.3 1103.9 1660.5 1101.9 1660.7 1099.9 1660.9 1097.9 1661.1 1095.9 1661.3 1093.9 1661.5 1091.9 1661.7 1089.9 1661.9 1087.9 1662.1 1085.9 1662.3 1084.0 1662.5 1082.0 1662.7 1080.0 1662.9 1078.0 1663.1 1076.0 1663.3 1074.0 1663.4 1072.0 1663.6 1070.0 1663.8 1068.0 1664.0 1066.0 1664.2 1064.0 1664.4 1062.1 1664.7 1060.1 1664.9 1058.1 1665.1 1056.1 1665.3 1054.1 1665.5 1052.1 1665.7 1050.1 1666.0 1048.1 1666.2 1046.2 1666.5 1044.2 1666.7 1042.2 1667.0 1040.2 1667.2 1038.2 1667.5 1036.2 1667.8 1034.3 1668.0 1032.3 1668.3 1030.3 1668.5 1028.3 1668.7 1026.3 1669.0 1024.3 1669.2 1022.3 1669.5 1020.4 1669.7 1018.4 1670.0 1016.4 1670.3 1014.4 1670.5 1012.4 1670.8 1010.5 1671.1 1008.5 1671.5 1006.5 1671.8 1004.5 1672.3 1002.6 1672.8 1000.9 1673.6 999.7 1674.6 999.6 1675.6 1000.5 1676.4 1002.1 1677.1 1003.9 1677.7 1005.9 1678.2 1007.8 1678.7 1009.7 1679.1 1011.7 1679.6 1013.6 1680.0 1015.6 1680.4 1017.5 1680.9 1019.5 1681.3 1021.4 1681.7 1023.4 1682.0 1025.4 1682.3 1027.3 1682.7 1029.3 1683.0 1031.3 1683.2 1033.3 1683.5 1035.3 1683.8 1037.2 1684.0 1039.2 1684.3 1041.2 1684.6 1043.2 1684.8 1045.2 1685.0 1047.2 1685.3 1049.1 1685.5 1051.1 1685.8 1053.1 1686.0 1055.1 1686.3 1057.1 1686.5 1059.1 1686.8 1061.1 1687.0 1063.0 1687.2 1065.0 1687.5 1067.0 1687.7 1069.0 1688.0 1071.0 1688.2 1073.0 1688.4 1074.9 1688.7 1076.9 1688.9 1078.9 1689.1 1080.9 1689.3 1082.9 1689.6 1084.9 1689.8 1086.9 1690.0 1088.9 1690.2 1090.8 1690.4 1092.8 1690.6 1094.8 1690.9 1096.8 1691.1 1098.8 1691.3 1100.8 1691.5 1102.8 1691.7 1104.8 1691.9 1106.8 1692.1 1108.7 1692.3 1110.7 1692.6 1112.7 1692.8 1114.7 1693.0 1116.7 1693.2 1118.7 1693.4 1120.7 1693.6 1122.7 1693.8 1124.7 1694.0 1126.6 1694.2 1128.6 1694.4 1130.6 1694.7 1132.6 1694.9 1134.6 1695.1 1136.6 1695.3 1138.6 1695.5 1140.6 1695.7 1142.6 1695.9 1144.5 1696.2 1146.5 1696.4 1148.5 1696.6 1150.5 1696.8 1152.5 1697.0 1154.5 1697.2 1156.5 1697.4 1158.5 1697.6 1160.5 1697.8 1162.4 1698.0 1164.4 1698.2 1166.4 1698.4 1168.4 1698.6 1170.4 1698.8 1172.4 1699.0 1174.4 1699.2 1176.4 1699.4 1178.4 1699.6 1180.4 1699.8 1182.3 1700.0 1184.3 1700.2 1186.3 1700.4 1188.3 1700.7 1190.3 1700.9 1192.3 1701.1 1194.3 1701.3 1196.3 1701.5 1198.3 1701.8 1200.2 1702.0 1202.2 1702.2 1204.2 1702.5 1206.2 1702.7 1208.2 1703.0 1210.2 1703.3 1212.1 1703.6 1214.1 1703.9 1216.1 1704.2 1218.1 1704.5 1220.0 1704.9 1222.0 1705.2 1224.0 1705.5 1226.0 1705.9 1227.9 1706.2 1229.9 1706.6 1231.9 1707.0 1233.8 1707.3 1235.8 1707.7 1237.8 1708.1 1239.7 1708.5 1241.7 1708.9 1243.6 1709.3 1245.6 1709.8 1247.5 1710.2 1249.5 1710.7 1251.4 1711.1 1253.4 1711.6 1255.3 1712.1 1257.3 1712.6 1259.2 1713.2 1261.1 1713.8 1263.0 1714.4 1264.9 1715.1 1266.8 1715.9 1268.6 1716.7 1270.5 1717.5 1272.3 1718.4 1274.1 1719.3 1275.9 1720.2 1277.6 1721.2 1279.4 1722.2 1281.1 1723.2 1282.9 1724.3 1284.6 1725.3 1286.2 1726.5 1287.9 1727.6 1289.5 1728.8 1291.1 1730.1 1292.7 1731.4 1294.2 1732.7 1295.7 1734.1 1297.1 1735.6 1298.4 1737.1 1299.7 1738.7 1301.0 1740.3 1302.2 1741.9 1303.3 1743.6 1304.4 1745.3 1305.5 1747.0 1306.5 1748.7 1307.5 1750.5 1308.3 1752.4 1309.0 1754.3 1309.5 1756.2 1309.6 1758.1 1309.3 1759.8 1308.5 1761.4 1307.4 1762.9 1306.0 1764.2 1304.6 1765.4 1303.0 1766.4 1301.3 1767.4 1299.5 1768.3 1297.7 1769.1 1295.9 1770.0 1294.1 1770.8 1292.3 1771.7 1290.5 1772.6 1288.8 1773.7 1287.0 1774.8 1285.4 1776.1 1283.9 1777.4 1282.4 1778.7 1280.9 1780.1 1279.5 1781.5 1278.0 1783.0 1276.7 1784.5 1275.4 1786.2 1274.3 1787.9 1273.3 1789.7 1272.7 1791.6 1272.5 1793.4 1272.8 1795.2 1273.6 1796.7 1274.7 1798.1 1276.1 1799.4 1277.6 1800.7 1279.2 1801.9 1280.8 1803.1 1282.4 1804.2 1284.0 1805.4 1285.7 1806.4 1287.3 1807.4 1289.1 1808.3 1290.9 1809.2 1292.7 1810.0 1294.5 1810.8 1296.3 1811.6 1298.2 1812.3 1300.0 1813.1 1301.9 1813.9 1303.7 1814.8 1305.5 1815.6 1307.3 1816.6 1309.1 1817.6 1310.8 1818.8 1312.4 1820.1 1313.8 1821.6 1315.2 1823.1 1316.4 1824.8 1317.6 1826.4 1318.7 1828.1 1319.7 1829.8 1320.7 1831.6 1321.7 1833.4 1322.5 1835.2 1323.3 1837.1 1324.0 1839.0 1324.7 1840.9 1325.2 1842.9 1325.7 1844.8 1326.1 1846.8 1326.5 1848.8 1326.8 1850.7 1327.1 1852.7 1327.4 1854.7 1327.7 1856.7 1327.9 1858.7 1328.1 1860.7 1328.4 1862.6 1328.6 1864.6 1328.8 1866.6 1328.9 1868.6 1329.1 1870.6 1329.3 1872.6 1329.4 1874.6 1329.6 1876.6 1329.7 1878.6 1329.9 1880.6 1330.0 1882.6 1330.2 1884.6 1330.3 1886.6 1330.5 1888.6 1330.6 1890.6 1330.8 1892.5 1330.9 1894.5 1331.1 1896.5 1331.2 1898.5 1331.3 1900.5 1331.5 1902.5 1331.6 1904.5 1331.7 1906.5 1331.8 1908.5 1331.9 1910.5 1332.1 1912.5 1332.2 1914.5 1332.3 1916.5 1332.4 1918.5 1332.5 1920.5 1332.6 1922.5 1332.6 1924.5 1332.7 1926.5 1332.8 1928.5 1332.8 1930.5 1332.9 1932.5 1333.0 1934.5 1333.0 1936.3 1333.0 1937.7 1333.1 1939.0 1333.1"/>
<path stroke="#c9a220" d="M289.0 1252.9L291.3 1252.7 293.0 1252.4 294.9 1252.2 296.9 1251.9 298.9 1251.6 300.9 1251.3 302.9 1251.0 304.8 1250.7 306.8 1250.4 308.8 1250.1 310.8 1249.8 312.7 1249.5 314.7 1249.2 316.7 1248.9 318.7 1248.5 320.6 1248.2 322.6 1247.9 324.6 1247.6 326.6 1247.2 328.5 1246.9 330.5 1246.6 332.5 1246.2 334.4 1245.9 336.4 1245.6 338.4 1245.2 340.4 1244.9 342.3 1244.5 344.3 1244.2 346.3 1243.8 348.2 1243.5 350.2 1243.1 352.2 1242.8 354.1 1242.4 356.1 1242.0 358.1 1241.7 360.0 1241.3 362.0 1240.9 364.0 1240.6 365.9 1240.2 367.9 1239.8 369.9 1239.5 371.8 1239.1 373.8 1238.7 375.8 1238.3 377.7 1237.9 379.7 1237.5 381.6 1237.1 383.6 1236.8 385.6 1236.4 387.5 1236.0 389.5 1235.6 391.4 1235.2 393.4 1234.8 395.4 1234.4 397.3 1234.0 399.3 1233.6 401.2 1233.2 403.2 1232.7 405.2 1232.3 407.1 1231.9 409.1 1231.5 411.0 1231.1 413.0 1230.7 414.9 1230.3 416.9 1229.9 418.8 1229.4 420.8 1229.0 422.8 1228.6 424.7 1228.2 426.7 1227.7 428.6 1227.3 430.6 1226.9 432.5 1226.4 434.5 1226.0 436.4 1225.5 438.4 1225.1 440.3 1224.7 442.3 1224.2 444.2 1223.8 446.2 1223.3 448.1 1222.8 450.1 1222.4 452.0 1221.9 454.0 1221.4 455.9 1221.0 457.8 1220.5 459.8 1220.0 461.7 1219.5 463.7 1219.1 465.6 1218.6 467.5 1218.1 469.5 1217.6 471.4 1217.1 473.4 1216.6 475.3 1216.1 477.2 1215.6 479.2 1215.1 481.1 1214.5 483.0 1214.0 484.9 1213.5 486.9 1213.0 488.8 1212.4 490.7 1211.9 492.6 1211.3 494.6 1210.8 496.5 1210.2 498.4 1209.7 500.3 1209.1 502.2 1208.5 504.2 1208.0 506.1 1207.4 508.0 1206.8 509.9 1206.2 511.8 1205.6 513.7 1205.0 515.6 1204.4 517.5 1203.8 519.4 1203.2 521.3 1202.6 523.2 1201.9 525.1 1201.3 527.0 1200.7 528.9 1200.0 530.8 1199.4 532.7 1198.8 534.6 1198.1 536.5 1197.5 538.4 1196.8 540.3 1196.2 542.2 1195.5 544.1 1194.8 545.9 1194.2 547.8 1193.5 549.7 1192.8 551.6 1192.1 553.4 1191.4 555.3 1190.7 557.2 1190.0 559.1 1189.3 560.9 1188.6 562.8 1187.8 564.6 1187.1 566.5 1186.4 568.4 1185.6 570.2 1184.9 572.1 1184.1 573.9 1183.3 575.8 1182.5 577.6 1181.8 579.4 1181.0 581.3 1180.2 583.1 1179.4 584.9 1178.5 586.7 1177.7 588.6 1176.9 590.4 1176.1 592.2 1175.2 594.0 1174.4 595.8 1173.5 597.6 1172.6 599.4 1171.7 601.2 1170.9 603.0 1170.0 604.8 1169.0 606.5 1168.1 608.3 1167.2 610.1 1166.3 611.8 1165.3 613.6 1164.4 615.4 1163.4 617.1 1162.5 618.9 1161.5 620.6 1160.5 622.3 1159.5 624.1 1158.5 625.8 1157.5 627.5 1156.5 629.2 1155.4 630.9 1154.4 632.6 1153.3 634.3 1152.3 636.0 1151.2 637.7 1150.1 639.4 1149.0 641.0 1147.9 642.7 1146.8 644.3 1145.6 645.8 1144.3 647.4 1143.1 648.9 1141.7 650.3 1140.4 651.8 1139.0 653.2 1137.6 654.7 1136.2 656.1 1134.8 657.5 1133.4 658.9 1132.0 660.3 1130.5 661.7 1129.1 663.1 1127.7 664.5 1126.3 665.9 1124.9 667.4 1123.5 668.8 1122.1 670.3 1120.8 671.8 1119.4 673.3 1118.1 674.8 1116.7 676.3 1115.4 677.8 1114.1 679.3 1112.8 680.8 1111.5 682.3 1110.2 683.8 1108.8 685.3 1107.5 686.8 1106.2 688.3 1104.9 689.8 1103.6 691.3 1102.3 692.8 1100.9 694.3 1099.6 695.8 1098.3 697.3 1097.0 698.8 1095.6 700.3 1094.3 701.8 1093.0 703.3 1091.6 704.7 1090.2 706.1 1088.8 707.6 1087.4 709.0 1086.0 710.4 1084.6 711.7 1083.1 713.1 1081.7 714.4 1080.2 715.8 1078.7 717.1 1077.2 718.4 1075.7 719.7 1074.1 720.9 1072.6 722.2 1071.0 723.4 1069.4 724.6 1067.8 725.8 1066.2 727.0 1064.6 728.1 1063.0 729.3 1061.3 730.4 1059.7 731.5 1058.0 732.6 1056.3 733.7 1054.7 734.8 1053.0 735.8 1051.3 736.9 1049.6 737.9 1047.9 739.0 1046.2 740.0 1044.4 741.0 1042.7 742.0 1041.0 742.9 1039.2 743.9 1037.4 744.8 1035.7 745.7 1033.9 746.6 1032.1 747.6 1030.4 748.5 1028.6 749.4 1026.8 750.3 1025.0 751.2 1023.2 752.1 1021.4 753.0 1019.6 753.9 1017.9 754.7 1016.1 755.6 1014.3 756.5 1012.5 757.4 1010.7 758.2 1008.9 759.1 1007.0 759.9 1005.2 760.8 1003.4 761.6 1001.6 762.5 999.8 763.3 998.0 764.2 996.2 765.0 994.4 765.9 992.6 766.7 990.8 767.6 988.9 768.4 987.1 769.2 985.3 770.1 983.5 770.9 981.6 771.7 979.8 772.5 978.0 773.3 976.1 774.0 974.3 774.8 972.5 775.6 970.6 776.3 968.8 777.0 966.9 777.8 965.0 778.5 963.2 779.2 961.3 779.9 959.4 780.6 957.5 781.3 955.7 782.0 953.8 782.7 951.9 783.4 950.1 784.1 948.2 784.8 946.3 785.5 944.4 786.2 942.6 786.9 940.7 787.6 938.8 788.3 936.9 789.0 935.1 789.7 933.2 790.4 931.3 791.0 929.4 791.7 927.5 792.4 925.7 793.0 923.8 793.7 921.9 794.3 920.0 795.0 918.1 795.6 916.2 796.2 914.3 796.8 912.4 797.5 910.5 798.1 908.6 798.7 906.7 799.3 904.8 799.8 902.8 800.4 900.9 801.0 899.0 801.6 897.1 802.2 895.2 802.8 893.3 803.4 891.4 803.9 889.5 804.5 887.5 805.1 885.6 805.7 883.7 806.3 881.8 806.8 879.9 807.4 878.0 808.0 876.0 808.5 874.1 809.1 872.2 809.7 870.3 810.2 868.4 810.8 866.4 811.3 864.5 811.9 862.6 812.4 860.7 813.0 858.8 813.6 856.9 814.1 854.9 814.7 853.0 815.3 851.1 815.8 849.2 816.4 847.3 817.0 845.4 817.6 843.4 818.2 841.5 818.8 839.6 819.4 837.7 820.0 835.8 820.5 833.9 821.1 832.0 821.7 830.1 822.3 828.2 822.9 826.2 823.5 824.3 824.1 822.4 824.6 820.5 825.2 818.6 825.8 816.7 826.3 814.7 826.9 812.8 827.4 810.9 828.0 809.0 828.5 807.0 829.0 805.1 829.5 803.2 830.0 801.2 830.5 799.3 831.0 797.4 831.5 795.4 832.0 793.5 832.5 791.6 833.0 789.6 833.5 787.7 834.1 785.8 834.6 783.8 835.1 781.9 835.6 780.0 836.2 778.0 836.7 776.1 837.3 774.2 837.8 772.3 838.4 770.3 838.9 768.4 839.5 766.5 840.0 764.6 840.6 762.7 841.2 760.8 841.9 758.9 842.5 757.0 843.2 755.1 843.9 753.2 844.6 751.3 845.3 749.5 846.1 747.6 846.9 745.8 847.8 744.1 848.9 742.4 850.2 740.9 851.6 739.6 853.3 738.7 855.0 738.3 856.7 738.6 858.3 739.6 859.8 740.9 860.9 742.4 861.8 744.2 862.6 746.0 863.1 747.9 863.6 749.9 864.1 751.8 864.5 753.8 865.0 755.7 865.4 757.7 865.8 759.6 866.3 761.6 866.7 763.5 867.2 765.4 867.7 767.4 868.2 769.3 868.8 771.2 869.3 773.2 869.8 775.1 870.3 777.0 870.8 779.0 871.3 780.9 871.8 782.8 872.3 784.8 872.9 786.7 873.4 788.6 873.9 790.6 874.4 792.5 874.9 794.4 875.5 796.4 876.0 798.3 876.5 800.2 877.0 802.2 877.5 804.1 878.1 806.0 878.6 808.0 879.1 809.9 879.6 811.8 880.1 813.8 880.6 815.7 881.1 817.6 881.6 819.6 882.1 821.5 882.7 823.4 883.2 825.3 883.8 827.3 884.4 829.1 885.1 831.0 885.8 832.9 886.5 834.8 887.2 836.7 887.9 838.5 888.6 840.4 889.4 842.2 890.2 844.0 891.2 845.7 892.4 847.0 893.9 847.7 895.6 847.7 897.3 847.0 899.0 845.9 900.6 844.7 902.2 843.5 903.8 842.3 905.4 841.2 907.1 840.1 908.7 838.9 910.4 837.8 912.1 836.9 913.9 836.1 915.8 835.6 917.8 835.5 919.7 835.7 921.6 836.2 923.4 837.0 924.9 838.1 926.1 839.5 926.9 841.2 927.5 843.1 928.0 845.1 928.5 847.0 928.9 849.0 929.3 850.9 929.7 852.9 930.1 854.8 930.4 856.8 930.8 858.8 931.3 860.7 931.7 862.7 932.1 864.6 932.5 866.6 932.9 868.5 933.3 870.5 933.7 872.5 934.1 874.4 934.5 876.4 934.8 878.4 935.1 880.3 935.4 882.3 935.7 884.3 936.0 886.3 936.2 888.3 936.4 890.3 936.7 892.2 936.9 894.2 937.2 896.2 937.5 898.2 937.9 900.1 938.3 902.1 938.8 904.0 939.4 906.0 940.0 907.9 940.6 909.7 941.3 911.6 942.1 913.5 942.9 915.3 943.6 917.2 944.4 919.0 945.2 920.8 945.9 922.7 946.7 924.5 947.6 926.4 948.4 928.2 949.3 929.9 950.3 931.7 951.2 933.4 952.2 935.2 953.2 936.9 954.3 938.6 955.3 940.3 956.5 941.9 957.8 943.3 959.4 944.2 961.0 944.4 962.6 943.8 964.0 942.6 965.2 941.1 966.2 939.4 967.2 937.7 968.1 935.9 969.0 934.1 969.8 932.3 970.6 930.4 971.3 928.6 971.9 926.7 972.5 924.7 973.0 922.8 973.5 920.9 974.0 918.9 974.5 917.0 974.9 915.1 975.4 913.1 975.8 911.2 976.3 909.2 976.7 907.3 977.2 905.3 977.6 903.4 978.1 901.4 978.6 899.5 979.0 897.5 979.5 895.6 979.9 893.6 980.4 891.7 980.8 889.7 981.2 887.8 981.6 885.8 982.1 883.9 982.5 881.9 982.9 879.9 983.3 878.0 983.7 876.0 984.1 874.1 984.6 872.1 985.0 870.2 985.4 868.2 985.8 866.2 986.2 864.3 986.6 862.3 987.0 860.4 987.4 858.4 987.8 856.5 988.2 854.5 988.6 852.5 989.0 850.6 989.4 848.6 989.8 846.6 990.2 844.7 990.5 842.7 990.9 840.8 991.3 838.8 991.7 836.8 992.0 834.9 992.4 832.9 992.7 830.9 993.1 829.0 993.4 827.0 993.8 825.0 994.1 823.0 994.5 821.1 994.8 819.1 995.1 817.1 995.5 815.2 995.8 813.2 996.1 811.2 996.5 809.2 996.8 807.3 997.1 805.3 997.5 803.3 997.8 801.4 998.1 799.4 998.4 797.4 998.7 795.4 999.1 793.5 999.4 791.5 999.7 789.5 1000.0 787.5 1000.3 785.6 1000.7 783.6 1001.0 781.6 1001.3 779.6 1001.6 777.7 1001.9 775.7 1002.2 773.7 1002.5 771.7 1002.8 769.8 1003.1 767.8 1003.4 765.8 1003.7 763.8 1004.1 761.8 1004.4 759.9 1004.7 757.9 1005.0 755.9 1005.3 753.9 1005.6 752.0 1005.9 750.0 1006.1 748.0 1006.4 746.0 1006.7 744.0 1007.0 742.1 1007.3 740.1 1007.6 738.1 1007.9 736.1 1008.1 734.1 1008.4 732.2 1008.7 730.2 1009.0 728.2 1009.2 726.2 1009.5 724.2 1009.8 722.3 1010.1 720.3 1010.3 718.3 1010.6 716.3 1010.9 714.3 1011.2 712.4 1011.4 710.4 1011.7 708.4 1012.0 706.4 1012.3 704.4 1012.5 702.5 1012.8 700.5 1013.1 698.5 1013.4 696.5 1013.7 694.5 1014.0 692.6 1014.3 690.6 1014.6 688.6 1014.9 686.6 1015.2 684.7 1015.5 682.7 1015.8 680.7 1016.2 678.7 1016.5 676.7 1016.8 674.8 1017.1 672.8 1017.4 670.8 1017.7 668.8 1018.0 666.9 1018.4 664.9 1018.7 662.9 1019.0 661.0 1019.3 659.0 1019.6 657.0 1020.0 655.0 1020.3 653.1 1020.6 651.1 1021.0 649.1 1021.3 647.1 1021.7 645.2 1022.0 643.2 1022.4 641.2 1022.7 639.3 1023.1 637.3 1023.5 635.3 1023.8 633.4 1024.2 631.4 1024.6 629.5 1025.0 627.5 1025.5 625.5 1025.9 623.6 1026.3 621.6 1026.8 619.7 1027.2 617.7 1027.7 615.8 1028.2 613.8 1028.7 611.9 1029.1 610.0 1029.7 608.0 1030.2 606.1 1030.7 604.2 1031.2 602.3 1031.8 600.3 1032.4 598.4 1032.9 596.5 1033.5 594.6 1034.1 592.7 1034.8 590.8 1035.4 588.9 1036.0 587.0 1036.6 585.1 1037.3 583.2 1037.9 581.3 1038.6 579.4 1039.3 577.5 1040.0 575.6 1040.7 573.8 1041.4 571.9 1042.2 570.1 1043.1 568.3 1044.1 566.6 1045.2 564.9 1046.3 563.3 1047.5 561.7 1048.8 560.1 1050.2 558.7 1051.6 557.4 1053.2 556.3 1055.0 555.7 1056.8 555.6 1058.6 556.1 1060.3 557.0 1061.9 558.2 1063.4 559.5 1064.8 560.9 1066.2 562.4 1067.4 563.9 1068.6 565.6 1069.6 567.3 1070.6 569.0 1071.5 570.8 1072.4 572.6 1073.3 574.4 1074.1 576.2 1075.0 578.0 1075.8 579.8 1076.6 581.6 1077.4 583.5 1078.1 585.3 1078.9 587.2 1079.6 589.0 1080.3 590.9 1081.0 592.8 1081.7 594.7 1082.3 596.6 1083.0 598.5 1083.7 600.3 1084.3 602.2 1084.9 604.1 1085.6 606.0 1086.2 607.9 1086.8 609.8 1087.4 611.7 1088.0 613.6 1088.7 615.5 1089.3 617.4 1089.9 619.3 1090.5 621.3 1091.1 623.2 1091.7 625.1 1092.3 627.0 1092.9 628.9 1093.5 630.8 1094.1 632.7 1094.6 634.6 1095.2 636.5 1095.8 638.5 1096.3 640.4 1096.9 642.3 1097.4 644.2 1098.0 646.1 1098.5 648.1 1099.1 650.0 1099.6 651.9 1100.1 653.9 1100.7 655.8 1101.2 657.7 1101.7 659.6 1102.2 661.6 1102.8 663.5 1103.3 665.4 1103.8 667.4 1104.4 669.3 1104.9 671.2 1105.4 673.1 1105.9 675.1 1106.5 677.0 1107.0 678.9 1107.6 680.9 1108.1 682.8 1108.6 684.7 1109.2 686.6 1109.7 688.6 1110.3 690.5 1110.8 692.4 1111.4 694.3 1111.9 696.2 1112.5 698.2 1113.0 700.1 1113.5 702.0 1114.1 703.9 1114.6 705.9 1115.2 707.8 1115.7 709.7 1116.3 711.6 1116.8 713.6 1117.4 715.5 1117.9 717.4 1118.5 719.3 1119.0 721.3 1119.6 723.2 1120.1 725.1 1120.7 727.0 1121.2 728.9 1121.8 730.9 1122.4 732.8 1122.9 734.7 1123.5 736.6 1124.0 738.5 1124.6 740.5 1125.2 742.4 1125.8 744.3 1126.3 746.2 1126.9 748.1 1127.5 750.0 1128.1 752.0 1128.6 753.9 1129.2 755.8 1129.8 757.7 1130.4 759.6 1131.0 761.5 1131.5 763.4 1132.1 765.4 1132.7 767.3 1133.3 769.2 1133.8 771.1 1134.4 773.0 1135.0 774.9 1135.5 776.9 1136.1 778.8 1136.7 780.7 1137.2 782.6 1137.8 784.5 1138.4 786.5 1138.9 788.4 1139.5 790.3 1140.0 792.2 1140.6 794.1 1141.1 796.1 1141.7 798.0 1142.2 799.9 1142.8 801.8 1143.3 803.7 1143.9 805.7 1144.5 807.6 1145.0 809.5 1145.6 811.4 1146.1 813.4 1146.7 815.3 1147.2 817.2 1147.8 819.1 1148.3 821.0 1148.9 823.0 1149.4 824.9 1149.9 826.8 1150.5 828.7 1151.0 830.7 1151.6 832.6 1152.1 834.5 1152.7 836.4 1153.2 838.4 1153.8 840.3 1154.3 842.2 1154.9 844.1 1155.4 846.0 1156.0 848.0 1156.5 849.9 1157.1 851.8 1157.6 853.7 1158.2 855.7 1158.7 857.6 1159.3 859.5 1159.8 861.4 1160.4 863.4 1160.9 865.3 1161.4 867.2 1162.0 869.1 1162.5 871.1 1163.1 873.0 1163.6 874.9 1164.1 876.8 1164.7 878.8 1165.2 880.7 1165.7 882.6 1166.3 884.6 1166.8 886.5 1167.3 888.4 1167.8 890.4 1168.3 892.3 1168.9 894.2 1169.4 896.1 1169.9 898.1 1170.4 900.0 1170.9 902.0 1171.4 903.9 1171.9 905.8 1172.4 907.8 1172.9 909.7 1173.4 911.6 1173.9 913.6 1174.4 915.5 1174.9 917.5 1175.4 919.4 1175.8 921.3 1176.3 923.3 1176.8 925.2 1177.3 927.1 1177.8 929.1 1178.3 931.0 1178.8 933.0 1179.3 934.9 1179.8 936.8 1180.3 938.8 1180.8 940.7 1181.3 942.7 1181.8 944.6 1182.3 946.5 1182.8 948.5 1183.3 950.4 1183.8 952.3 1184.3 954.3 1184.8 956.2 1185.3 958.1 1185.8 960.1 1186.3 962.0 1186.8 963.9 1187.3 965.9 1187.8 967.8 1188.3 969.7 1188.8 971.7 1189.4 973.6 1189.9 975.5 1190.4 977.5 1190.9 979.4 1191.4 981.4 1191.9 983.3 1192.4 985.2 1192.9 987.2 1193.4 989.1 1193.9 991.0 1194.4 993.0 1194.9 994.9 1195.5 996.8 1196.0 998.7 1196.5 1000.7 1197.1 1002.6 1197.6 1004.5 1198.2 1006.4 1198.7 1008.4 1199.3 1010.3 1199.9 1012.2 1200.4 1014.1 1201.0 1016.0 1201.7 1017.9 1202.3 1019.8 1202.9 1021.7 1203.6 1023.6 1204.2 1025.5 1204.9 1027.4 1205.5 1029.3 1206.2 1031.2 1206.8 1033.1 1207.5 1035.0 1208.2 1036.8 1208.8 1038.7 1209.5 1040.6 1210.2 1042.5 1210.9 1044.4 1211.6 1046.2 1212.3 1048.1 1213.1 1049.9 1213.8 1051.8 1214.6 1053.6 1215.4 1055.5 1216.2 1057.3 1217.0 1059.1 1217.9 1060.9 1218.8 1062.7 1219.8 1064.4 1220.8 1066.1 1221.9 1067.8 1223.1 1069.5 1224.3 1071.1 1225.5 1072.7 1226.7 1074.2 1228.0 1075.7 1229.3 1077.2 1230.7 1078.7 1232.1 1080.1 1233.6 1081.5 1235.1 1082.7 1236.7 1083.9 1238.4 1085.0 1240.1 1086.0 1241.9 1086.9 1243.7 1087.7 1245.6 1088.5 1247.4 1089.3 1249.3 1090.0 1251.2 1090.6 1253.1 1091.1 1255.1 1091.5 1257.0 1091.7 1259.0 1091.6 1260.8 1091.1 1262.4 1090.2 1263.9 1088.9 1265.2 1087.4 1266.5 1085.8 1267.6 1084.2 1268.7 1082.5 1269.7 1080.8 1270.8 1079.1 1271.8 1077.4 1272.8 1075.7 1273.8 1073.9 1274.9 1072.2 1275.9 1070.5 1276.9 1068.8 1277.9 1067.0 1278.8 1065.3 1279.8 1063.5 1280.7 1061.7 1281.5 1059.9 1282.4 1058.1 1283.2 1056.3 1284.0 1054.5 1284.8 1052.6 1285.6 1050.8 1286.4 1049.0 1287.2 1047.1 1287.9 1045.3 1288.7 1043.4 1289.4 1041.5 1290.1 1039.7 1290.8 1037.8 1291.5 1035.9 1292.2 1034.0 1292.8 1032.1 1293.4 1030.3 1294.1 1028.3 1294.7 1026.4 1295.3 1024.5 1295.9 1022.6 1296.4 1020.7 1297.0 1018.8 1297.6 1016.9 1298.1 1015.0 1298.7 1013.0 1299.2 1011.1 1299.8 1009.2 1300.3 1007.3 1300.8 1005.3 1301.4 1003.4 1301.9 1001.5 1302.4 999.5 1303.0 997.6 1303.5 995.7 1304.0 993.8 1304.5 991.8 1305.0 989.9 1305.5 988.0 1306.0 986.0 1306.6 984.1 1307.0 982.1 1307.5 980.2 1308.0 978.3 1308.5 976.3 1309.0 974.4 1309.5 972.4 1309.9 970.5 1310.4 968.6 1310.9 966.6 1311.3 964.7 1311.8 962.7 1312.3 960.8 1312.7 958.8 1313.2 956.9 1313.6 954.9 1314.0 953.0 1314.5 951.0 1314.9 949.1 1315.4 947.1 1315.8 945.2 1316.2 943.2 1316.6 941.3 1317.1 939.3 1317.5 937.4 1317.9 935.4 1318.3 933.4 1318.7 931.5 1319.2 929.5 1319.6 927.6 1320.0 925.6 1320.4 923.6 1320.7 921.7 1321.1 919.7 1321.5 917.8 1321.9 915.8 1322.3 913.8 1322.7 911.9 1323.1 909.9 1323.4 907.9 1323.8 906.0 1324.2 904.0 1324.6 902.1 1324.9 900.1 1325.3 898.1 1325.7 896.2 1326.0 894.2 1326.4 892.2 1326.8 890.3 1327.1 888.3 1327.5 886.3 1327.9 884.4 1328.2 882.4 1328.6 880.4 1328.9 878.5 1329.3 876.5 1329.6 874.5 1330.0 872.5 1330.3 870.6 1330.7 868.6 1331.0 866.6 1331.4 864.7 1331.7 862.7 1332.1 860.7 1332.4 858.8 1332.7 856.8 1333.1 854.8 1333.4 852.8 1333.8 850.9 1334.1 848.9 1334.4 846.9 1334.8 845.0 1335.1 843.0 1335.5 841.0 1335.8 839.0 1336.1 837.1 1336.5 835.1 1336.8 833.1 1337.2 831.2 1337.5 829.2 1337.8 827.2 1338.2 825.3 1338.5 823.3 1338.9 821.3 1339.2 819.3 1339.6 817.4 1339.9 815.4 1340.3 813.4 1340.6 811.5 1341.0 809.5 1341.3 807.5 1341.6 805.6 1342.0 803.6 1342.3 801.6 1342.6 799.6 1342.9 797.7 1343.3 795.7 1343.6 793.7 1343.9 791.7 1344.3 789.8 1344.6 787.8 1344.9 785.8 1345.3 783.9 1345.6 781.9 1345.9 779.9 1346.3 777.9 1346.6 776.0 1347.0 774.0 1347.4 772.0 1347.8 770.1 1348.2 768.1 1348.6 766.2 1349.0 764.2 1349.5 762.3 1349.9 760.3 1350.4 758.4 1350.9 756.4 1351.4 754.5 1351.8 752.6 1352.3 750.6 1352.8 748.7 1353.3 746.7 1353.8 744.8 1354.3 742.9 1354.9 740.9 1355.5 739.1 1356.2 737.2 1357.1 735.6 1358.2 734.5 1359.5 734.3 1360.7 735.1 1361.8 736.6 1362.6 738.4 1363.2 740.3 1363.8 742.2 1364.4 744.1 1364.9 746.0 1365.4 748.0 1365.8 749.9 1366.3 751.9 1366.7 753.8 1367.1 755.8 1367.4 757.8 1367.7 759.7 1368.0 761.7 1368.2 763.7 1368.4 765.7 1368.6 767.7 1368.8 769.7 1369.0 771.7 1369.1 773.7 1369.3 775.7 1369.5 777.6 1369.6 779.6 1369.8 781.6 1370.0 783.6 1370.1 785.6 1370.3 787.6 1370.4 789.6 1370.6 791.6 1370.7 793.6 1370.9 795.6 1371.0 797.6 1371.2 799.6 1371.3 801.6 1371.5 803.6 1371.6 805.6 1371.8 807.6 1372.0 809.5 1372.1 811.5 1372.3 813.5 1372.5 815.5 1372.6 817.5 1372.8 819.5 1372.9 821.5 1373.1 823.5 1373.3 825.5 1373.4 827.5 1373.6 829.5 1373.7 831.5 1373.9 833.5 1374.0 835.5 1374.2 837.5 1374.3 839.5 1374.5 841.4 1374.6 843.4 1374.8 845.4 1374.9 847.4 1375.1 849.4 1375.2 851.4 1375.4 853.4 1375.5 855.4 1375.7 857.4 1375.8 859.4 1376.0 861.4 1376.1 863.4 1376.3 865.4 1376.4 867.4 1376.6 869.4 1376.7 871.4 1376.9 873.4 1377.0 875.4 1377.1 877.4 1377.3 879.3 1377.4 881.3 1377.6 883.3 1377.7 885.3 1377.9 887.3 1378.0 889.3 1378.2 891.3 1378.3 893.3 1378.5 895.3 1378.6 897.3 1378.7 899.3 1378.9 901.3 1379.0 903.3 1379.1 905.3 1379.3 907.3 1379.4 909.3 1379.6 911.3 1379.7 913.3 1379.8 915.3 1380.0 917.3 1380.1 919.2 1380.2 921.2 1380.4 923.2 1380.5 925.2 1380.6 927.2 1380.8 929.2 1380.9 931.2 1381.1 933.2 1381.2 935.2 1381.3 937.2 1381.5 939.2 1381.6 941.2 1381.8 943.2 1381.9 945.2 1382.0 947.2 1382.2 949.2 1382.3 951.2 1382.5 953.2 1382.6 955.2 1382.8 957.2 1382.9 959.1 1383.1 961.1 1383.2 963.1 1383.4 965.1 1383.6 967.1 1383.7 969.1 1383.9 971.1 1384.1 973.1 1384.2 975.1 1384.4 977.1 1384.5 979.1 1384.7 981.1 1384.9 983.1 1385.1 985.1 1385.2 987.1 1385.4 989.0 1385.6 991.0 1385.7 993.0 1385.9 995.0 1386.1 997.0 1386.3 999.0 1386.4 1001.0 1386.6 1003.0 1386.8 1005.0 1387.0 1007.0 1387.2 1009.0 1387.3 1011.0 1387.5 1013.0 1387.7 1014.9 1387.9 1016.9 1388.1 1018.9 1388.2 1020.9 1388.4 1022.9 1388.6 1024.9 1388.8 1026.9 1389.0 1028.9 1389.2 1030.9 1389.3 1032.9 1389.5 1034.9 1389.7 1036.9 1389.9 1038.8 1390.1 1040.8 1390.3 1042.8 1390.4 1044.8 1390.6 1046.8 1390.8 1048.8 1391.0 1050.8 1391.2 1052.8 1391.3 1054.8 1391.5 1056.8 1391.7 1058.8 1391.9 1060.8 1392.1 1062.7 1392.2 1064.7 1392.4 1066.7 1392.6 1068.7 1392.8 1070.7 1393.0 1072.7 1393.2 1074.7 1393.4 1076.7 1393.6 1078.7 1393.8 1080.7 1394.0 1082.7 1394.2 1084.6 1394.4 1086.6 1394.6 1088.6 1394.8 1090.6 1395.1 1092.6 1395.3 1094.6 1395.6 1096.6 1395.8 1098.5 1396.1 1100.5 1396.4 1102.5 1396.6 1104.5 1396.9 1106.5 1397.2 1108.4 1397.5 1110.4 1397.8 1112.4 1398.1 1114.4 1398.4 1116.4 1398.7 1118.3 1399.0 1120.3 1399.3 1122.3 1399.7 1124.3 1400.0 1126.2 1400.3 1128.2 1400.7 1130.2 1401.0 1132.1 1401.4 1134.1 1401.7 1136.1 1402.1 1138.0 1402.5 1140.0 1402.8 1142.0 1403.2 1143.9 1403.6 1145.9 1404.0 1147.9 1404.5 1149.8 1405.0 1151.7 1405.4 1153.7 1406.0 1155.6 1406.5 1157.6 1407.0 1159.5 1407.6 1161.4 1408.1 1163.3 1408.8 1165.2 1409.6 1167.0 1410.5 1168.8 1411.7 1170.3 1413.1 1171.7 1414.6 1172.9 1416.3 1173.9 1418.1 1174.9 1419.8 1175.9 1421.5 1176.9 1423.2 1178.0 1424.9 1179.0 1426.6 1180.1 1428.3 1181.3 1429.9 1182.4 1431.4 1183.7 1432.9 1185.0 1434.3 1186.5 1435.6 1188.0 1436.7 1189.6 1437.9 1191.3 1438.9 1192.9 1440.0 1194.7 1441.0 1196.4 1442.0 1198.1 1442.9 1199.9 1444.0 1201.6 1445.0 1203.3 1446.0 1205.0 1447.1 1206.7 1448.3 1208.3 1449.4 1209.9 1450.6 1211.5 1451.9 1213.1 1453.1 1214.7 1454.3 1216.3 1455.6 1217.8 1456.9 1219.4 1458.2 1220.9 1459.5 1222.4 1460.9 1223.8 1462.3 1225.2 1463.7 1226.6 1465.2 1228.0 1466.7 1229.3 1468.3 1230.6 1469.8 1231.8 1471.4 1233.0 1473.0 1234.2 1474.6 1235.4 1476.2 1236.6 1477.9 1237.7 1479.5 1238.9 1481.1 1240.1 1482.7 1241.3 1484.3 1242.5 1485.9 1243.7 1487.4 1245.0 1489.0 1246.3 1490.5 1247.6 1492.0 1248.9 1493.5 1250.2 1495.0 1251.5 1496.5 1252.8 1498.1 1254.1 1499.6 1255.3 1501.2 1256.6 1502.8 1257.8 1504.4 1258.9 1506.1 1260.0 1507.8 1261.1 1509.5 1262.2 1511.2 1263.2 1512.9 1264.2 1514.7 1265.2 1516.4 1266.1 1518.3 1266.9 1520.1 1267.6 1522.0 1268.3 1523.9 1268.8 1525.8 1269.4 1527.8 1269.9 1529.7 1270.4 1531.7 1270.8 1533.6 1271.3 1535.6 1271.6 1537.6 1272.0 1539.5 1272.3 1541.5 1272.6 1543.5 1272.8 1545.5 1273.0 1547.5 1273.2 1549.5 1273.4 1551.5 1273.6 1553.4 1273.7 1555.4 1273.9 1557.4 1274.1 1559.4 1274.2 1561.4 1274.3 1563.4 1274.5 1565.4 1274.6 1567.4 1274.7 1569.4 1274.8 1571.4 1274.8 1573.4 1274.9 1575.4 1274.9 1577.4 1275.0 1579.4 1275.0 1581.4 1275.0 1583.4 1274.9 1585.4 1274.9 1587.4 1274.8 1589.4 1274.7 1591.4 1274.5 1593.4 1274.4 1595.4 1274.2 1597.4 1274.0 1599.4 1273.7 1601.3 1273.4 1603.3 1273.2 1605.3 1272.8 1607.3 1272.5 1609.2 1272.0 1611.1 1271.5 1612.9 1270.7 1614.6 1269.7 1616.2 1268.5 1617.7 1267.1 1619.1 1265.7 1620.5 1264.3 1621.8 1262.8 1623.1 1261.3 1624.4 1259.7 1625.6 1258.1 1626.7 1256.5 1627.8 1254.9 1628.9 1253.1 1629.8 1251.4 1630.8 1249.6 1631.7 1247.8 1632.5 1246.0 1633.4 1244.2 1634.2 1242.4 1635.0 1240.6 1635.8 1238.7 1636.5 1236.9 1637.3 1235.0 1638.0 1233.2 1638.7 1231.3 1639.4 1229.4 1640.2 1227.6 1640.8 1225.7 1641.5 1223.8 1642.2 1221.9 1642.8 1220.0 1643.4 1218.1 1644.0 1216.2 1644.6 1214.3 1645.1 1212.3 1645.7 1210.4 1646.2 1208.5 1646.7 1206.6 1647.3 1204.6 1647.8 1202.7 1648.3 1200.8 1648.8 1198.8 1649.2 1196.9 1649.7 1194.9 1650.2 1193.0 1650.6 1191.1 1651.1 1189.1 1651.5 1187.2 1651.9 1185.2 1652.4 1183.2 1652.8 1181.3 1653.1 1179.3 1653.5 1177.4 1653.8 1175.4 1654.2 1173.4 1654.5 1171.4 1654.8 1169.5 1655.2 1167.5 1655.5 1165.5 1655.8 1163.5 1656.1 1161.6 1656.4 1159.6 1656.7 1157.6 1657.0 1155.6 1657.3 1153.7 1657.6 1151.7 1657.9 1149.7 1658.2 1147.7 1658.5 1145.7 1658.8 1143.8 1659.1 1141.8 1659.4 1139.8 1659.7 1137.8 1660.0 1135.9 1660.4 1133.9 1660.7 1131.9 1661.1 1130.0 1661.4 1128.0 1661.8 1126.0 1662.2 1124.1 1662.6 1122.1 1662.9 1120.1 1663.3 1118.2 1663.7 1116.2 1664.0 1114.2 1664.4 1112.3 1664.7 1110.3 1665.1 1108.3 1665.4 1106.4 1665.8 1104.4 1666.1 1102.4 1666.5 1100.5 1666.9 1098.5 1667.3 1096.5 1667.6 1094.6 1668.0 1092.6 1668.5 1090.6 1668.9 1088.7 1669.4 1086.8 1670.0 1084.8 1670.6 1083.0 1671.5 1081.4 1672.5 1080.5 1673.7 1080.5 1674.8 1081.6 1675.7 1083.2 1676.4 1085.0 1676.9 1086.9 1677.5 1088.9 1678.0 1090.8 1678.4 1092.7 1678.9 1094.7 1679.3 1096.6 1679.7 1098.6 1680.1 1100.6 1680.5 1102.5 1680.9 1104.5 1681.3 1106.4 1681.7 1108.4 1682.1 1110.4 1682.5 1112.3 1682.8 1114.3 1683.2 1116.3 1683.6 1118.2 1683.9 1120.2 1684.2 1122.2 1684.5 1124.1 1684.8 1126.1 1685.1 1128.1 1685.4 1130.1 1685.7 1132.1 1685.9 1134.1 1686.2 1136.0 1686.4 1138.0 1686.7 1140.0 1686.9 1142.0 1687.1 1144.0 1687.4 1146.0 1687.6 1147.9 1687.9 1149.9 1688.1 1151.9 1688.3 1153.9 1688.6 1155.9 1688.8 1157.9 1689.0 1159.9 1689.3 1161.9 1689.5 1163.8 1689.7 1165.8 1690.0 1167.8 1690.2 1169.8 1690.5 1171.8 1690.7 1173.8 1691.0 1175.7 1691.3 1177.7 1691.5 1179.7 1691.8 1181.7 1692.1 1183.7 1692.4 1185.6 1692.7 1187.6 1693.0 1189.6 1693.3 1191.6 1693.5 1193.6 1693.8 1195.5 1694.1 1197.5 1694.4 1199.5 1694.7 1201.5 1695.0 1203.5 1695.3 1205.4 1695.6 1207.4 1695.9 1209.4 1696.2 1211.4 1696.5 1213.3 1696.9 1215.3 1697.2 1217.3 1697.5 1219.3 1697.9 1221.2 1698.2 1223.2 1698.6 1225.2 1699.0 1227.1 1699.4 1229.1 1699.8 1231.0 1700.2 1233.0 1700.7 1234.9 1701.2 1236.9 1701.7 1238.8 1702.2 1240.8 1702.7 1242.7 1703.2 1244.6 1703.7 1246.5 1704.2 1248.5 1704.8 1250.4 1705.4 1252.3 1706.0 1254.2 1706.6 1256.1 1707.2 1258.0 1707.8 1259.9 1708.5 1261.8 1709.2 1263.7 1710.0 1265.5 1710.8 1267.3 1711.6 1269.2 1712.5 1271.0 1713.4 1272.7 1714.4 1274.5 1715.4 1276.2 1716.4 1278.0 1717.4 1279.7 1718.5 1281.4 1719.6 1283.0 1720.8 1284.7 1721.9 1286.3 1723.2 1287.8 1724.5 1289.4 1725.8 1290.9 1727.2 1292.3 1728.6 1293.7 1730.1 1295.0 1731.6 1296.3 1733.2 1297.5 1734.8 1298.8 1736.4 1299.9 1738.0 1301.1 1739.7 1302.1 1741.4 1303.2 1743.2 1304.1 1745.0 1305.0 1746.8 1305.8 1748.7 1306.5 1750.6 1307.1 1752.5 1307.7 1754.4 1308.2 1756.4 1308.7 1758.3 1309.2 1760.3 1309.5 1762.3 1309.7 1764.2 1309.8 1766.2 1309.6 1768.1 1309.1 1769.9 1308.4 1771.7 1307.6 1773.5 1306.7 1775.4 1306.0 1777.3 1305.3 1779.2 1304.9 1781.2 1304.6 1783.2 1304.4 1785.1 1304.2 1787.1 1304.1 1789.1 1304.2 1791.1 1304.5 1793.0 1304.9 1794.9 1305.6 1796.7 1306.4 1798.5 1307.3 1800.3 1308.2 1802.0 1309.2 1803.7 1310.2 1805.4 1311.4 1807.0 1312.5 1808.6 1313.7 1810.2 1314.9 1811.9 1316.0 1813.5 1317.1 1815.3 1318.1 1817.0 1319.0 1818.8 1320.0 1820.6 1320.9 1822.4 1321.8 1824.1 1322.7 1825.9 1323.6 1827.8 1324.4 1829.6 1325.3 1831.4 1326.0 1833.3 1326.8 1835.1 1327.5 1837.0 1328.1 1838.9 1328.7 1840.9 1329.3 1842.8 1329.7 1844.8 1330.1 1846.7 1330.5 1848.7 1330.8 1850.7 1331.1 1852.7 1331.4 1854.6 1331.6 1856.6 1331.9 1858.6 1332.2 1860.6 1332.4 1862.6 1332.6 1864.6 1332.8 1866.6 1333.0 1868.6 1333.2 1870.6 1333.3 1872.5 1333.5 1874.5 1333.6 1876.5 1333.8 1878.5 1333.9 1880.5 1334.0 1882.5 1334.1 1884.5 1334.3 1886.5 1334.4 1888.5 1334.5 1890.5 1334.6 1892.5 1334.7 1894.5 1334.8 1896.5 1334.9 1898.5 1335.0 1900.5 1335.1 1902.5 1335.2 1904.5 1335.3 1906.5 1335.4 1908.5 1335.4 1910.5 1335.5 1912.5 1335.6 1914.5 1335.7 1916.5 1335.7 1918.5 1335.8 1920.5 1335.8 1922.5 1335.9 1924.5 1335.9 1926.5 1335.9 1928.5 1336.0 1930.5 1336.0 1932.5 1336.0 1934.4 1336.0 1936.3 1336.0 1937.7 1336.0 1939.0 1336.0"/>
<path stroke="#22cfc8" d="M289.0 1226.8L291.3 1226.6 293.0 1226.2 294.9 1225.9 296.9 1225.5 298.8 1225.1 300.8 1224.7 302.7 1224.3 304.7 1224.0 306.7 1223.6 308.6 1223.2 310.6 1222.8 312.6 1222.4 314.5 1222.0 316.5 1221.7 318.4 1221.3 320.4 1220.9 322.4 1220.5 324.3 1220.1 326.3 1219.7 328.3 1219.3 330.2 1218.9 332.2 1218.5 334.1 1218.1 336.1 1217.7 338.1 1217.4 340.0 1217.0 342.0 1216.6 343.9 1216.2 345.9 1215.8 347.9 1215.4 349.8 1215.0 351.8 1214.6 353.7 1214.2 355.7 1213.8 357.7 1213.3 359.6 1212.9 361.6 1212.5 363.5 1212.1 365.5 1211.7 367.4 1211.3 369.4 1210.9 371.4 1210.5 373.3 1210.1 375.3 1209.7 377.2 1209.3 379.2 1208.9 381.1 1208.4 383.1 1208.0 385.1 1207.6 387.0 1207.2 389.0 1206.8 390.9 1206.4 392.9 1206.0 394.8 1205.5 396.8 1205.1 398.8 1204.7 400.7 1204.3 402.7 1203.9 404.6 1203.4 406.6 1203.0 408.5 1202.6 410.5 1202.2 412.4 1201.8 414.4 1201.3 416.4 1200.9 418.3 1200.5 420.3 1200.1 422.2 1199.7 424.2 1199.3 426.1 1198.9 428.1 1198.4 430.1 1198.0 432.0 1197.6 434.0 1197.2 435.9 1196.8 437.9 1196.4 439.8 1195.9 441.8 1195.5 443.7 1195.1 445.7 1194.7 447.7 1194.3 449.6 1193.8 451.6 1193.4 453.5 1193.0 455.5 1192.6 457.4 1192.1 459.4 1191.7 461.3 1191.3 463.3 1190.8 465.2 1190.4 467.2 1190.0 469.1 1189.5 471.1 1189.1 473.0 1188.6 475.0 1188.2 476.9 1187.7 478.9 1187.3 480.8 1186.8 482.8 1186.4 484.7 1185.9 486.7 1185.5 488.6 1185.0 490.6 1184.5 492.5 1184.1 494.5 1183.6 496.4 1183.1 498.3 1182.6 500.3 1182.1 502.2 1181.7 504.2 1181.2 506.1 1180.7 508.0 1180.2 510.0 1179.7 511.9 1179.2 513.8 1178.7 515.8 1178.1 517.7 1177.6 519.6 1177.1 521.6 1176.6 523.5 1176.0 525.4 1175.5 527.3 1175.0 529.3 1174.4 531.2 1173.8 533.1 1173.3 535.0 1172.7 536.9 1172.2 538.8 1171.6 540.8 1171.0 542.7 1170.4 544.6 1169.8 546.5 1169.2 548.4 1168.6 550.3 1168.0 552.2 1167.4 554.1 1166.8 556.0 1166.2 557.9 1165.6 559.8 1165.0 561.7 1164.3 563.6 1163.7 565.5 1163.1 567.4 1162.4 569.3 1161.8 571.2 1161.1 573.1 1160.5 575.0 1159.8 576.9 1159.2 578.8 1158.5 580.6 1157.9 582.5 1157.2 584.4 1156.5 586.3 1155.8 588.2 1155.2 590.1 1154.5 591.9 1153.8 593.8 1153.1 595.7 1152.4 597.6 1151.7 599.5 1151.1 601.3 1150.4 603.2 1149.7 605.1 1149.0 607.0 1148.3 608.8 1147.5 610.7 1146.8 612.6 1146.1 614.4 1145.4 616.3 1144.6 618.1 1143.9 620.0 1143.1 621.8 1142.4 623.7 1141.6 625.5 1140.8 627.4 1140.1 629.2 1139.3 631.0 1138.5 632.9 1137.7 634.7 1136.9 636.5 1136.0 638.3 1135.2 640.2 1134.4 642.0 1133.5 643.8 1132.7 645.6 1131.8 647.4 1131.0 649.2 1130.1 651.0 1129.2 652.8 1128.3 654.5 1127.4 656.3 1126.4 658.1 1125.5 659.9 1124.6 661.6 1123.7 663.4 1122.7 665.1 1121.8 666.9 1120.8 668.7 1119.8 670.4 1118.9 672.2 1117.9 673.9 1116.9 675.6 1115.9 677.4 1115.0 679.1 1114.0 680.8 1113.0 682.6 1111.9 684.3 1110.9 686.0 1109.9 687.7 1108.9 689.4 1107.8 691.1 1106.8 692.8 1105.7 694.5 1104.7 696.2 1103.6 697.9 1102.6 699.6 1101.5 701.3 1100.4 703.0 1099.4 704.7 1098.3 706.4 1097.2 708.1 1096.1 709.8 1095.1 711.4 1094.0 713.1 1092.9 714.8 1091.8 716.5 1090.7 718.1 1089.6 719.8 1088.5 721.4 1087.3 723.1 1086.2 724.7 1085.0 726.3 1083.8 727.9 1082.6 729.5 1081.4 731.0 1080.2 732.6 1078.9 734.1 1077.6 735.7 1076.3 737.2 1075.0 738.7 1073.7 740.2 1072.4 741.7 1071.0 743.1 1069.7 744.6 1068.3 746.0 1066.9 747.5 1065.5 748.9 1064.2 750.3 1062.7 751.7 1061.3 753.1 1059.9 754.5 1058.5 755.9 1057.0 757.3 1055.5 758.6 1054.1 759.9 1052.6 761.3 1051.1 762.6 1049.5 763.9 1048.0 765.1 1046.5 766.4 1044.9 767.7 1043.4 768.9 1041.9 770.2 1040.3 771.5 1038.7 772.7 1037.2 774.0 1035.6 775.3 1034.1 776.5 1032.6 777.8 1031.0 779.1 1029.5 780.4 1028.0 781.7 1026.4 783.0 1024.9 784.3 1023.4 785.6 1021.9 786.9 1020.3 788.1 1018.8 789.4 1017.2 790.6 1015.7 791.9 1014.1 793.1 1012.5 794.3 1010.9 795.5 1009.3 796.7 1007.7 797.8 1006.1 799.0 1004.4 800.1 1002.8 801.2 1001.1 802.3 999.5 803.4 997.8 804.5 996.1 805.5 994.4 806.5 992.6 807.5 990.9 808.4 989.1 809.3 987.3 810.2 985.5 811.0 983.7 811.8 981.9 812.6 980.0 813.3 978.2 814.1 976.3 814.8 974.5 815.6 972.6 816.4 970.8 817.2 968.9 818.0 967.1 818.8 965.3 819.6 963.5 820.4 961.6 821.2 959.8 822.0 958.0 822.8 956.2 823.7 954.3 824.5 952.5 825.3 950.7 826.2 948.9 827.0 947.1 827.9 945.3 828.7 943.5 829.6 941.7 830.5 939.9 831.4 938.1 832.2 936.3 833.1 934.5 834.0 932.7 834.9 930.9 835.8 929.1 836.7 927.3 837.7 925.6 838.6 923.8 839.5 922.0 840.4 920.2 841.4 918.5 842.3 916.7 843.2 914.9 844.2 913.2 845.2 911.4 846.2 909.7 847.3 908.1 848.5 906.4 849.6 904.8 850.9 903.2 852.1 901.7 853.5 900.3 855.1 899.2 856.8 898.6 858.6 898.7 860.4 899.3 862.1 900.3 863.7 901.4 865.2 902.8 866.5 904.2 867.8 905.7 868.9 907.4 869.9 909.1 870.8 910.9 871.6 912.7 872.4 914.6 873.1 916.4 873.8 918.3 874.4 920.2 874.9 922.1 875.4 924.1 875.9 926.0 876.4 927.9 876.8 929.9 877.3 931.8 877.8 933.8 878.3 935.7 878.8 937.6 879.4 939.5 880.2 941.4 881.0 943.2 881.9 945.0 882.8 946.7 883.9 948.5 885.0 950.1 886.1 951.7 887.5 953.2 889.0 954.4 890.7 955.3 892.6 955.9 894.5 956.2 896.4 956.2 898.3 955.8 900.0 955.0 901.6 953.9 903.2 952.6 904.8 951.4 906.4 950.2 908.0 949.1 909.7 948.1 911.5 947.1 913.3 946.3 915.1 945.8 917.1 945.7 918.9 946.1 920.7 946.8 922.4 947.8 924.0 949.1 925.3 950.5 926.5 952.1 927.5 953.8 928.4 955.6 929.3 957.4 930.2 959.2 931.0 961.0 931.9 962.8 932.7 964.6 933.5 966.4 934.3 968.3 935.1 970.1 935.8 972.0 936.6 973.8 937.3 975.7 938.0 977.6 938.7 979.5 939.3 981.3 940.0 983.2 940.7 985.1 941.3 987.0 941.9 988.9 942.5 990.8 943.0 992.8 943.6 994.7 944.1 996.6 944.7 998.5 945.3 1000.4 945.9 1002.3 946.5 1004.2 947.2 1006.1 947.9 1008.0 948.7 1009.8 949.6 1011.6 950.4 1013.4 951.3 1015.2 952.3 1017.0 953.3 1018.7 954.4 1020.3 955.7 1021.8 957.2 1022.9 959.0 1023.7 960.8 1024.2 962.8 1024.2 964.6 1023.8 966.4 1023.1 968.0 1022.0 969.6 1020.7 970.9 1019.3 972.1 1017.7 973.1 1016.0 974.0 1014.2 974.9 1012.4 975.6 1010.6 976.4 1008.7 977.1 1006.8 977.8 1005.0 978.5 1003.1 979.3 1001.2 980.0 999.4 980.7 997.5 981.3 995.6 982.0 993.7 982.6 991.8 983.3 989.9 983.9 988.0 984.5 986.1 985.1 984.2 985.7 982.3 986.3 980.4 986.9 978.5 987.5 976.6 988.1 974.7 988.7 972.8 989.3 970.9 989.9 968.9 990.4 967.0 991.0 965.1 991.5 963.2 992.1 961.3 992.6 959.3 993.2 957.4 993.7 955.5 994.2 953.6 994.8 951.6 995.3 949.7 995.8 947.8 996.4 945.8 996.9 943.9 997.4 942.0 998.0 940.1 998.5 938.1 999.1 936.2 999.6 934.3 1000.1 932.4 1000.7 930.4 1001.2 928.5 1001.7 926.6 1002.3 924.6 1002.8 922.7 1003.3 920.8 1003.9 918.9 1004.4 916.9 1005.0 915.0 1005.5 913.1 1006.0 911.2 1006.6 909.2 1007.1 907.3 1007.7 905.4 1008.2 903.5 1008.8 901.5 1009.3 899.6 1009.8 897.7 1010.4 895.8 1010.9 893.8 1011.4 891.9 1011.9 890.0 1012.5 888.0 1013.0 886.1 1013.5 884.2 1014.0 882.2 1014.4 880.3 1014.9 878.4 1015.4 876.4 1015.9 874.5 1016.3 872.5 1016.8 870.6 1017.2 868.6 1017.7 866.7 1018.1 864.7 1018.6 862.8 1019.0 860.8 1019.5 858.9 1020.0 856.9 1020.4 855.0 1020.9 853.0 1021.4 851.1 1021.8 849.2 1022.3 847.2 1022.8 845.3 1023.3 843.3 1023.8 841.4 1024.3 839.5 1024.9 837.5 1025.4 835.6 1026.0 833.7 1026.6 831.8 1027.2 829.9 1027.8 828.0 1028.4 826.1 1029.0 824.2 1029.6 822.3 1030.3 820.4 1030.9 818.5 1031.5 816.6 1032.1 814.7 1032.7 812.8 1033.3 810.9 1033.9 809.0 1034.5 807.0 1035.1 805.1 1035.7 803.2 1036.3 801.3 1036.8 799.4 1037.4 797.5 1038.0 795.6 1038.6 793.6 1039.2 791.7 1039.7 789.8 1040.3 787.9 1040.9 786.0 1041.5 784.1 1042.1 782.2 1042.6 780.2 1043.2 778.3 1043.8 776.4 1044.4 774.5 1044.9 772.6 1045.5 770.7 1046.1 768.8 1046.7 766.9 1047.3 764.9 1047.9 763.0 1048.6 761.1 1049.2 759.3 1049.9 757.4 1050.6 755.5 1051.3 753.6 1052.0 751.7 1052.7 749.9 1053.4 748.0 1054.2 746.2 1055.0 744.3 1055.8 742.5 1056.7 740.7 1057.6 738.9 1058.5 737.1 1059.4 735.4 1060.4 733.6 1061.4 731.9 1062.5 730.3 1063.7 728.7 1065.0 727.1 1066.4 725.7 1067.8 724.3 1069.3 723.0 1070.9 721.8 1072.6 721.0 1074.5 720.5 1076.3 720.6 1078.2 721.2 1079.9 722.1 1081.5 723.2 1083.1 724.4 1084.6 725.7 1086.0 727.1 1087.3 728.6 1088.6 730.2 1089.7 731.8 1090.8 733.5 1091.8 735.2 1092.8 737.0 1093.8 738.7 1094.7 740.5 1095.7 742.2 1096.5 744.1 1097.3 745.9 1098.1 747.7 1098.9 749.5 1099.7 751.4 1100.4 753.3 1101.2 755.1 1101.9 757.0 1102.6 758.8 1103.3 760.7 1104.0 762.6 1104.7 764.5 1105.4 766.3 1106.1 768.2 1106.9 770.1 1107.6 771.9 1108.3 773.8 1109.0 775.7 1109.8 777.5 1110.5 779.4 1111.2 781.2 1112.0 783.1 1112.7 785.0 1113.4 786.8 1114.1 788.7 1114.8 790.6 1115.6 792.4 1116.3 794.3 1117.0 796.2 1117.7 798.0 1118.4 799.9 1119.1 801.8 1119.8 803.7 1120.5 805.5 1121.2 807.4 1121.9 809.3 1122.6 811.2 1123.3 813.0 1124.0 814.9 1124.7 816.8 1125.3 818.7 1126.0 820.5 1126.7 822.4 1127.4 824.3 1128.1 826.2 1128.7 828.1 1129.4 830.0 1130.1 831.8 1130.8 833.7 1131.4 835.6 1132.1 837.5 1132.8 839.4 1133.4 841.3 1134.1 843.1 1134.8 845.0 1135.4 846.9 1136.1 848.8 1136.8 850.7 1137.4 852.6 1138.1 854.5 1138.7 856.4 1139.4 858.3 1140.0 860.1 1140.7 862.0 1141.3 863.9 1141.9 865.8 1142.6 867.7 1143.2 869.6 1143.8 871.5 1144.5 873.4 1145.1 875.3 1145.7 877.2 1146.3 879.1 1146.9 881.0 1147.5 882.9 1148.1 884.9 1148.7 886.8 1149.3 888.7 1149.9 890.6 1150.4 892.5 1151.0 894.4 1151.6 896.3 1152.1 898.3 1152.7 900.2 1153.2 902.1 1153.8 904.0 1154.3 906.0 1154.8 907.9 1155.4 909.8 1155.9 911.7 1156.4 913.7 1156.9 915.6 1157.4 917.5 1158.0 919.5 1158.5 921.4 1159.0 923.3 1159.5 925.3 1160.0 927.2 1160.5 929.1 1161.0 931.1 1161.5 933.0 1162.0 934.9 1162.5 936.9 1163.1 938.8 1163.6 940.7 1164.1 942.7 1164.6 944.6 1165.1 946.5 1165.6 948.5 1166.2 950.4 1166.7 952.3 1167.2 954.3 1167.8 956.2 1168.3 958.1 1168.9 960.0 1169.4 962.0 1169.9 963.9 1170.4 965.8 1171.0 967.8 1171.5 969.7 1172.0 971.6 1172.6 973.5 1173.1 975.5 1173.6 977.4 1174.1 979.3 1174.7 981.3 1175.2 983.2 1175.7 985.1 1176.2 987.0 1176.8 989.0 1177.3 990.9 1177.8 992.8 1178.4 994.8 1178.9 996.7 1179.5 998.6 1180.0 1000.5 1180.6 1002.4 1181.2 1004.4 1181.8 1006.3 1182.3 1008.2 1182.9 1010.1 1183.5 1012.0 1184.2 1013.9 1184.8 1015.8 1185.5 1017.7 1186.1 1019.6 1186.8 1021.4 1187.5 1023.3 1188.2 1025.2 1188.9 1027.1 1189.6 1028.9 1190.4 1030.8 1191.1 1032.7 1191.8 1034.5 1192.6 1036.4 1193.3 1038.2 1194.1 1040.1 1194.8 1041.9 1195.6 1043.8 1196.4 1045.6 1197.2 1047.5 1198.0 1049.3 1198.8 1051.1 1199.6 1052.9 1200.4 1054.8 1201.3 1056.6 1202.1 1058.4 1203.0 1060.2 1203.9 1062.0 1204.8 1063.7 1205.8 1065.5 1206.7 1067.3 1207.7 1069.0 1208.8 1070.7 1209.8 1072.4 1210.9 1074.1 1212.1 1075.7 1213.3 1077.3 1214.5 1078.9 1215.7 1080.5 1217.0 1082.0 1218.3 1083.6 1219.6 1085.1 1220.9 1086.6 1222.2 1088.0 1223.6 1089.5 1225.1 1090.9 1226.5 1092.2 1228.1 1093.5 1229.6 1094.7 1231.3 1095.9 1233.0 1096.9 1234.8 1097.8 1236.6 1098.6 1238.4 1099.4 1240.3 1100.1 1242.2 1100.8 1244.0 1101.5 1245.9 1102.1 1247.9 1102.6 1249.8 1103.1 1251.8 1103.5 1253.7 1103.7 1255.7 1103.8 1257.7 1103.6 1259.6 1103.2 1261.3 1102.4 1263.0 1101.3 1264.5 1100.0 1265.9 1098.6 1267.3 1097.1 1268.6 1095.6 1269.8 1094.1 1271.0 1092.5 1272.2 1090.9 1273.4 1089.2 1274.5 1087.6 1275.7 1086.0 1276.8 1084.3 1278.0 1082.7 1279.2 1081.1 1280.4 1079.5 1281.6 1077.9 1282.7 1076.3 1283.9 1074.6 1285.0 1073.0 1286.2 1071.3 1287.3 1069.7 1288.3 1068.0 1289.4 1066.3 1290.4 1064.5 1291.4 1062.8 1292.3 1061.1 1293.3 1059.3 1294.2 1057.5 1295.1 1055.7 1296.0 1053.9 1296.8 1052.1 1297.7 1050.3 1298.5 1048.5 1299.3 1046.6 1300.0 1044.8 1300.8 1042.9 1301.5 1041.1 1302.1 1039.2 1302.7 1037.3 1303.3 1035.3 1303.9 1033.4 1304.4 1031.5 1305.0 1029.6 1305.5 1027.7 1306.0 1025.7 1306.5 1023.8 1307.0 1021.8 1307.5 1019.9 1308.0 1018.0 1308.4 1016.0 1308.9 1014.1 1309.4 1012.1 1309.8 1010.2 1310.3 1008.2 1310.7 1006.3 1311.2 1004.3 1311.7 1002.4 1312.1 1000.5 1312.6 998.5 1313.0 996.6 1313.5 994.6 1314.0 992.7 1314.5 990.7 1314.9 988.8 1315.4 986.8 1315.9 984.9 1316.4 983.0 1316.9 981.0 1317.4 979.1 1318.0 977.2 1318.5 975.2 1319.1 973.3 1319.6 971.4 1320.2 969.5 1320.7 967.6 1321.3 965.7 1321.9 963.7 1322.5 961.8 1323.1 959.9 1323.7 958.0 1324.3 956.1 1324.9 954.2 1325.5 952.3 1326.1 950.4 1326.7 948.5 1327.3 946.6 1327.9 944.7 1328.5 942.7 1329.0 940.8 1329.6 938.9 1330.2 937.0 1330.7 935.1 1331.3 933.1 1331.8 931.2 1332.3 929.3 1332.9 927.4 1333.4 925.4 1333.9 923.5 1334.4 921.5 1334.8 919.6 1335.3 917.7 1335.8 915.7 1336.2 913.8 1336.6 911.8 1337.0 909.8 1337.4 907.9 1337.8 905.9 1338.2 904.0 1338.6 902.0 1339.0 900.0 1339.4 898.1 1339.7 896.1 1340.1 894.2 1340.5 892.2 1340.9 890.2 1341.3 888.3 1341.7 886.3 1342.1 884.4 1342.5 882.4 1342.9 880.4 1343.3 878.5 1343.7 876.5 1344.1 874.6 1344.5 872.6 1344.9 870.6 1345.3 868.7 1345.7 866.7 1346.1 864.7 1346.5 862.8 1346.9 860.8 1347.4 858.9 1347.8 856.9 1348.4 855.0 1348.9 853.1 1349.6 851.2 1350.3 849.4 1351.2 847.5 1352.0 845.7 1352.9 844.0 1353.9 842.2 1355.0 840.6 1356.2 839.2 1357.6 838.3 1359.1 838.2 1360.3 839.1 1361.2 840.6 1361.9 842.4 1362.5 844.3 1363.1 846.3 1363.5 848.2 1364.0 850.2 1364.3 852.1 1364.7 854.1 1364.9 856.1 1365.1 858.1 1365.4 860.1 1365.6 862.0 1365.8 864.0 1365.9 866.0 1366.1 868.0 1366.3 870.0 1366.5 872.0 1366.6 874.0 1366.8 876.0 1367.0 878.0 1367.2 880.0 1367.3 882.0 1367.5 884.0 1367.7 885.9 1367.9 887.9 1368.1 889.9 1368.3 891.9 1368.5 893.9 1368.7 895.9 1368.9 897.9 1369.1 899.9 1369.3 901.9 1369.5 903.9 1369.7 905.8 1369.9 907.8 1370.1 909.8 1370.3 911.8 1370.5 913.8 1370.7 915.8 1370.9 917.8 1371.1 919.8 1371.3 921.8 1371.5 923.8 1371.7 925.7 1371.9 927.7 1372.1 929.7 1372.3 931.7 1372.5 933.7 1372.7 935.7 1372.9 937.7 1373.1 939.7 1373.3 941.7 1373.5 943.7 1373.6 945.7 1373.8 947.6 1374.0 949.6 1374.2 951.6 1374.4 953.6 1374.6 955.6 1374.8 957.6 1375.0 959.6 1375.1 961.6 1375.3 963.6 1375.5 965.6 1375.7 967.6 1375.9 969.5 1376.1 971.5 1376.3 973.5 1376.4 975.5 1376.6 977.5 1376.8 979.5 1377.0 981.5 1377.2 983.5 1377.3 985.5 1377.5 987.5 1377.7 989.5 1377.9 991.5 1378.1 993.5 1378.2 995.4 1378.4 997.4 1378.6 999.4 1378.8 1001.4 1378.9 1003.4 1379.1 1005.4 1379.3 1007.4 1379.5 1009.4 1379.6 1011.4 1379.8 1013.4 1380.0 1015.4 1380.1 1017.4 1380.3 1019.4 1380.5 1021.3 1380.6 1023.3 1380.8 1025.3 1381.0 1027.3 1381.1 1029.3 1381.3 1031.3 1381.5 1033.3 1381.6 1035.3 1381.8 1037.3 1381.9 1039.3 1382.1 1041.3 1382.2 1043.3 1382.4 1045.3 1382.5 1047.3 1382.7 1049.3 1382.8 1051.3 1382.9 1053.3 1383.1 1055.2 1383.2 1057.2 1383.3 1059.2 1383.5 1061.2 1383.6 1063.2 1383.7 1065.2 1383.9 1067.2 1384.0 1069.2 1384.1 1071.2 1384.3 1073.2 1384.4 1075.2 1384.5 1077.2 1384.7 1079.2 1384.8 1081.2 1385.0 1083.2 1385.1 1085.2 1385.3 1087.2 1385.4 1089.2 1385.6 1091.2 1385.8 1093.1 1386.0 1095.1 1386.3 1097.1 1386.5 1099.1 1386.7 1101.1 1387.0 1103.1 1387.2 1105.1 1387.5 1107.0 1387.8 1109.0 1388.0 1111.0 1388.3 1113.0 1388.6 1115.0 1388.9 1116.9 1389.2 1118.9 1389.6 1120.9 1389.9 1122.9 1390.2 1124.8 1390.6 1126.8 1390.9 1128.8 1391.3 1130.7 1391.7 1132.7 1392.1 1134.7 1392.5 1136.6 1392.9 1138.6 1393.3 1140.5 1393.7 1142.5 1394.1 1144.5 1394.5 1146.4 1394.9 1148.4 1395.3 1150.3 1395.7 1152.3 1396.1 1154.3 1396.5 1156.2 1396.9 1158.2 1397.3 1160.1 1397.7 1162.1 1398.2 1164.0 1398.6 1166.0 1399.1 1167.9 1399.5 1169.9 1400.0 1171.8 1400.5 1173.8 1401.0 1175.7 1401.6 1177.6 1402.2 1179.5 1402.8 1181.4 1403.5 1183.3 1404.3 1185.1 1405.1 1186.9 1406.0 1188.7 1406.9 1190.5 1407.9 1192.3 1408.9 1194.0 1409.9 1195.7 1411.0 1197.4 1412.1 1199.1 1413.1 1200.8 1414.2 1202.4 1415.4 1204.1 1416.5 1205.7 1417.6 1207.4 1418.8 1209.0 1420.0 1210.6 1421.2 1212.2 1422.5 1213.7 1423.8 1215.3 1425.0 1216.8 1426.3 1218.4 1427.6 1219.9 1429.0 1221.4 1430.3 1222.9 1431.6 1224.3 1433.0 1225.8 1434.4 1227.2 1435.8 1228.7 1437.2 1230.1 1438.6 1231.5 1440.0 1232.9 1441.5 1234.3 1443.0 1235.6 1444.5 1237.0 1446.0 1238.3 1447.5 1239.6 1449.0 1240.8 1450.6 1242.1 1452.2 1243.3 1453.7 1244.5 1455.3 1245.8 1456.9 1247.0 1458.6 1248.1 1460.2 1249.3 1461.8 1250.4 1463.5 1251.6 1465.1 1252.7 1466.8 1253.8 1468.5 1254.9 1470.2 1255.9 1471.9 1257.0 1473.6 1258.0 1475.3 1259.0 1477.1 1260.0 1478.8 1261.0 1480.5 1262.0 1482.2 1263.0 1484.0 1264.0 1485.7 1265.1 1487.4 1266.0 1489.2 1267.0 1490.9 1268.0 1492.7 1268.9 1494.5 1269.8 1496.3 1270.6 1498.1 1271.4 1500.0 1272.2 1501.9 1272.8 1503.8 1273.4 1505.7 1273.9 1507.7 1274.3 1509.6 1274.7 1511.6 1275.1 1513.6 1275.5 1515.5 1275.9 1517.5 1276.2 1519.5 1276.5 1521.5 1276.8 1523.4 1277.1 1525.4 1277.3 1527.4 1277.5 1529.4 1277.7 1531.4 1277.8 1533.4 1277.9 1535.4 1278.0 1537.4 1278.0 1539.4 1278.0 1541.4 1278.0 1543.4 1278.0 1545.4 1278.0 1547.4 1278.0 1549.4 1278.0 1551.4 1278.0 1553.4 1278.0 1555.4 1278.0 1557.4 1278.0 1559.4 1278.0 1561.4 1278.0 1563.4 1278.0 1565.4 1278.0 1567.4 1278.0 1569.4 1278.0 1571.4 1278.0 1573.4 1278.0 1575.4 1278.0 1577.4 1278.0 1579.4 1278.0 1581.4 1277.9 1583.4 1277.8 1585.4 1277.7 1587.4 1277.5 1589.4 1277.2 1591.3 1276.9 1593.3 1276.5 1595.3 1276.2 1597.2 1275.7 1599.2 1275.3 1601.1 1274.7 1603.0 1274.2 1604.9 1273.6 1606.8 1273.0 1608.7 1272.4 1610.6 1271.6 1612.3 1270.7 1614.0 1269.6 1615.5 1268.4 1617.0 1267.0 1618.4 1265.6 1619.8 1264.1 1621.1 1262.6 1622.4 1261.1 1623.7 1259.6 1624.9 1258.0 1626.2 1256.4 1627.3 1254.8 1628.4 1253.2 1629.5 1251.5 1630.6 1249.8 1631.6 1248.1 1632.6 1246.3 1633.5 1244.6 1634.5 1242.8 1635.4 1241.0 1636.3 1239.3 1637.2 1237.5 1638.1 1235.7 1639.0 1233.9 1639.9 1232.1 1640.8 1230.3 1641.7 1228.5 1642.6 1226.7 1643.5 1224.9 1644.3 1223.1 1645.2 1221.3 1646.0 1219.5 1646.8 1217.7 1647.6 1215.8 1648.3 1214.0 1649.1 1212.1 1649.8 1210.2 1650.5 1208.4 1651.1 1206.5 1651.8 1204.6 1652.4 1202.7 1653.0 1200.8 1653.5 1198.8 1654.0 1196.9 1654.5 1195.0 1655.0 1193.0 1655.5 1191.1 1655.9 1189.1 1656.4 1187.2 1656.8 1185.2 1657.3 1183.3 1657.7 1181.3 1658.1 1179.4 1658.5 1177.4 1659.0 1175.5 1659.4 1173.5 1659.8 1171.6 1660.3 1169.6 1660.7 1167.7 1661.1 1165.7 1661.6 1163.8 1662.0 1161.8 1662.5 1159.9 1662.9 1157.9 1663.3 1156.0 1663.8 1154.0 1664.2 1152.1 1664.6 1150.1 1665.0 1148.1 1665.5 1146.2 1665.9 1144.2 1666.4 1142.3 1666.9 1140.4 1667.5 1138.5 1668.2 1136.6 1668.9 1134.7 1669.7 1132.9 1670.6 1131.2 1671.7 1129.8 1673.0 1129.3 1674.2 1129.7 1675.4 1130.9 1676.4 1132.6 1677.2 1134.4 1678.0 1136.2 1678.8 1138.1 1679.5 1139.9 1680.1 1141.8 1680.6 1143.8 1681.1 1145.7 1681.6 1147.6 1682.0 1149.6 1682.4 1151.6 1682.8 1153.5 1683.1 1155.5 1683.4 1157.5 1683.8 1159.4 1684.1 1161.4 1684.4 1163.4 1684.7 1165.4 1685.0 1167.4 1685.2 1169.3 1685.5 1171.3 1685.8 1173.3 1686.1 1175.3 1686.4 1177.3 1686.6 1179.2 1686.9 1181.2 1687.2 1183.2 1687.5 1185.2 1687.8 1187.2 1688.0 1189.1 1688.3 1191.1 1688.6 1193.1 1688.9 1195.1 1689.2 1197.0 1689.6 1199.0 1689.9 1201.0 1690.2 1203.0 1690.6 1204.9 1691.0 1206.9 1691.4 1208.8 1691.8 1210.8 1692.2 1212.8 1692.7 1214.7 1693.1 1216.7 1693.6 1218.6 1694.0 1220.6 1694.5 1222.5 1695.0 1224.4 1695.4 1226.4 1695.9 1228.3 1696.4 1230.3 1697.0 1232.2 1697.5 1234.1 1698.0 1236.0 1698.6 1238.0 1699.1 1239.9 1699.7 1241.8 1700.2 1243.7 1700.8 1245.7 1701.3 1247.6 1701.9 1249.5 1702.5 1251.4 1703.1 1253.3 1703.6 1255.2 1704.2 1257.2 1704.8 1259.1 1705.4 1261.0 1706.0 1262.9 1706.7 1264.8 1707.3 1266.7 1708.0 1268.6 1708.7 1270.4 1709.4 1272.3 1710.2 1274.1 1711.0 1275.9 1711.9 1277.7 1712.9 1279.5 1713.9 1281.2 1715.0 1282.9 1716.1 1284.6 1717.2 1286.2 1718.4 1287.8 1719.7 1289.3 1721.0 1290.8 1722.4 1292.3 1723.8 1293.7 1725.2 1295.1 1726.7 1296.4 1728.2 1297.7 1729.8 1299.0 1731.3 1300.2 1732.9 1301.4 1734.6 1302.6 1736.3 1303.7 1738.0 1304.7 1739.7 1305.7 1741.4 1306.7 1743.2 1307.6 1745.0 1308.4 1746.8 1309.3 1748.7 1310.1 1750.5 1310.8 1752.4 1311.5 1754.3 1312.2 1756.2 1312.8 1758.1 1313.4 1760.0 1314.0 1761.9 1314.5 1763.9 1315.0 1765.8 1315.4 1767.8 1315.9 1769.7 1316.3 1771.7 1316.7 1773.7 1317.1 1775.6 1317.5 1777.6 1317.8 1779.6 1318.2 1781.5 1318.5 1783.5 1318.9 1785.5 1319.3 1787.4 1319.6 1789.4 1320.0 1791.3 1320.4 1793.3 1320.8 1795.3 1321.1 1797.2 1321.5 1799.2 1321.9 1801.2 1322.2 1803.2 1322.5 1805.1 1322.9 1807.1 1323.1 1809.1 1323.4 1811.1 1323.7 1813.1 1323.9 1815.1 1324.1 1817.0 1324.3 1819.0 1324.4 1821.0 1324.6 1823.0 1324.7 1825.0 1324.8 1827.0 1325.0 1829.0 1325.1 1831.0 1325.2 1833.0 1325.3 1835.0 1325.4 1837.0 1325.5 1839.0 1325.7 1841.0 1325.8 1843.0 1325.9 1845.0 1326.1 1847.0 1326.3 1849.0 1326.4 1851.0 1326.6 1852.9 1326.8 1854.9 1327.1 1856.9 1327.3 1858.9 1327.5 1860.9 1327.7 1862.9 1327.9 1864.9 1328.1 1866.9 1328.3 1868.9 1328.5 1870.9 1328.6 1872.9 1328.8 1874.8 1328.9 1876.8 1328.9 1878.8 1329.0 1880.8 1329.0 1882.8 1329.0 1884.8 1329.0 1886.8 1329.0 1888.8 1329.0 1890.8 1329.0 1892.8 1329.0 1894.8 1329.0 1896.8 1329.0 1898.8 1329.0 1900.8 1329.0 1902.8 1329.0 1904.8 1329.0 1906.8 1329.0 1908.8 1329.0 1910.8 1329.0 1912.8 1329.0 1914.8 1329.0 1916.8 1329.0 1918.8 1329.0 1920.8 1329.0 1922.8 1329.0 1924.8 1329.0 1926.8 1329.0 1928.8 1329.0 1930.8 1329.0 1932.8 1329.0 1934.8 1329.0 1936.5 1329.0 1939.0 1329.0"/>
</g>
<g stroke="#333" stroke-width="4.5" fill="none" stroke-linecap="square" stroke-linejoin="round">
<rect x="289" y="73" width="1650" height="1336"/>
<line x1="289" y1="1409.0" x2="311" y2="1409.0"/>
<line x1="289" y1="1141.8" x2="311" y2="1141.8"/>
<line x1="289" y1="874.6" x2="311" y2="874.6"/>
<line x1="289" y1="607.4" x2="311" y2="607.4"/>
<line x1="289" y1="340.2" x2="311" y2="340.2"/>
<line x1="289" y1="73.0" x2="311" y2="73.0"/>
<line x1="289.0" y1="1409" x2="289.0" y2="1385"/>
<line x1="454.0" y1="1409" x2="454.0" y2="1398"/>
<line x1="619.0" y1="1409" x2="619.0" y2="1385"/>
<line x1="784.0" y1="1409" x2="784.0" y2="1398"/>
<line x1="949.0" y1="1409" x2="949.0" y2="1385"/>
<line x1="1114.0" y1="1409" x2="1114.0" y2="1398"/>
<line x1="1279.0" y1="1409" x2="1279.0" y2="1385"/>
<line x1="1444.0" y1="1409" x2="1444.0" y2="1398"/>
<line x1="1609.0" y1="1409" x2="1609.0" y2="1385"/>
<line x1="1774.0" y1="1409" x2="1774.0" y2="1398"/>
<line x1="1939.0" y1="1409" x2="1939.0" y2="1385"/>
</g>
<text transform="translate(259 1431.0) scale(1 1.050)" font-size="71" text-anchor="end">0.00</text>
<text transform="translate(259 1163.8) scale(1 1.050)" font-size="71" text-anchor="end">0.05</text>
<text transform="translate(259 896.6) scale(1 1.050)" font-size="71" text-anchor="end">0.10</text>
<text transform="translate(259 629.4) scale(1 1.050)" font-size="71" text-anchor="end">0.15</text>
<text transform="translate(259 362.2) scale(1 1.050)" font-size="71" text-anchor="end">0.20</text>
<text transform="translate(259 95.0) scale(1 1.050)" font-size="71" text-anchor="end">0.25</text>
<text transform="translate(289.0 1492) scale(1 1.050)" font-size="71" text-anchor="middle">3200</text>
<text transform="translate(619.0 1492) scale(1 1.050)" font-size="71" text-anchor="middle">3300</text>
<text transform="translate(949.0 1492) scale(1 1.050)" font-size="71" text-anchor="middle">3400</text>
<text transform="translate(1279.0 1492) scale(1 1.050)" font-size="71" text-anchor="middle">3500</text>
<text transform="translate(1609.0 1492) scale(1 1.050)" font-size="71" text-anchor="middle">3600</text>
<text transform="translate(1939.0 1492) scale(1 1.050)" font-size="71" text-anchor="middle">3700</text>
<text transform="translate(99.5 760.6) rotate(-90)" font-size="71" text-anchor="middle">Absorbance</text>
<text transform="translate(724 1601.5) scale(1 1.03)" font-size="82.2">Wavenumbers/cm</text>
<text transform="translate(1315.2 1571.7) scale(1 1.0)" font-size="70">-1</text>
<g stroke-width="6.2" stroke-linecap="round">
<line x1="398" y1="155.0" x2="552" y2="155.0" stroke="#555555"/>
<line x1="398" y1="240.5" x2="552" y2="240.5" stroke="#ec4a50"/>
<line x1="398" y1="326.0" x2="552" y2="326.0" stroke="#3282dc"/>
<line x1="398" y1="411.5" x2="552" y2="411.5" stroke="#3ea672"/>
<line x1="398" y1="497.0" x2="552" y2="497.0" stroke="#b482d6"/>
<line x1="398" y1="582.5" x2="552" y2="582.5" stroke="#c9a220"/>
<line x1="398" y1="668.0" x2="552" y2="668.0" stroke="#22cfc8"/>
</g>
<text x="569" y="179.4" font-size="72">A</text>
<text x="569" y="264.9" font-size="72">B</text>
<text x="569" y="350.4" font-size="72">C</text>
<text x="569" y="435.9" font-size="72">D</text>
<text x="569" y="521.4" font-size="72">E</text>
<text x="569" y="606.9" font-size="72">F</text>
<text x="569" y="692.4" font-size="72">G</text>
</svg>
</body></html>
